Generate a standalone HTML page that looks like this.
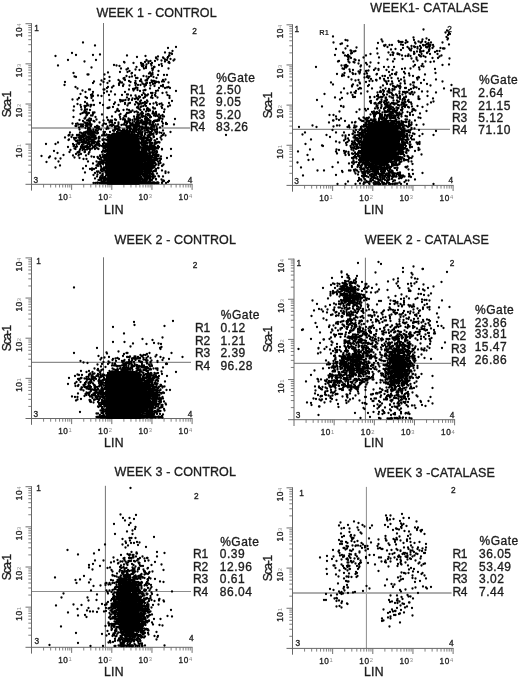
<!DOCTYPE html>
<html lang="en">
<head>
<meta charset="utf-8">
<title>Sca-1 / LIN flow cytometry - control vs catalase</title>
<style>
html,body{margin:0;padding:0;background:#fff}
body{width:520px;height:680px;overflow:hidden}
svg{display:block}
text{font-family:"Liberation Sans",Arial,sans-serif;fill:#1c1c1c;stroke:#1c1c1c;stroke-width:.34px}
.ti{font-size:12.5px}
.ax{font-size:12.2px;letter-spacing:.35px}
.sc{font-size:12px}
.st{font-size:12px}
.sp{letter-spacing:.5px}
.rl{letter-spacing:-.2px}
.tk{font-size:8.2px;fill:#2a2a2a;letter-spacing:.55px}
.ex{font-size:5.8px;fill:#8a8a8a;stroke:none}
.q{font-size:8.3px;fill:#222}
.d{fill:none;stroke:#000;stroke-width:2.3;stroke-linecap:round}
</style>
</head>
<body>
<svg width="520" height="680" viewBox="0 0 520 680">
<rect width="520" height="680" fill="#fff"/>
<g id="panel1">
<path d="M103.5 23V184.3" stroke="#747474" stroke-width="1" fill="none"/>
<path d="M31.5 128H190" stroke="#adadad" stroke-width="2" fill="none"/>
<path d="M43.59 184.3v3.2M31.5 172.21h-3.2M50.66 184.3v3.2M31.5 165.14h-3.2M55.67 184.3v3.2M31.5 160.13h-3.2M59.56 184.3v3.2M31.5 156.24h-3.2M62.74 184.3v3.2M31.5 153.06h-3.2M65.43 184.3v3.2M31.5 150.37h-3.2M67.76 184.3v3.2M31.5 148.04h-3.2M69.81 184.3v3.2M31.5 145.99h-3.2M83.74 184.3v3.2M31.5 132.06h-3.2M90.81 184.3v3.2M31.5 124.99h-3.2M95.82 184.3v3.2M31.5 119.98h-3.2M99.71 184.3v3.2M31.5 116.09h-3.2M102.89 184.3v3.2M31.5 112.91h-3.2M105.58 184.3v3.2M31.5 110.22h-3.2M107.91 184.3v3.2M31.5 107.89h-3.2M109.96 184.3v3.2M31.5 105.84h-3.2M123.89 184.3v3.2M31.5 91.91h-3.2M130.96 184.3v3.2M31.5 84.84h-3.2M135.97 184.3v3.2M31.5 79.83h-3.2M139.86 184.3v3.2M31.5 75.94h-3.2M143.04 184.3v3.2M31.5 72.76h-3.2M145.73 184.3v3.2M31.5 70.07h-3.2M148.06 184.3v3.2M31.5 67.74h-3.2M150.11 184.3v3.2M31.5 65.69h-3.2M164.04 184.3v3.2M31.5 51.76h-3.2M171.11 184.3v3.2M31.5 44.69h-3.2M176.12 184.3v3.2M31.5 39.68h-3.2M180.01 184.3v3.2M31.5 35.79h-3.2M183.19 184.3v3.2M31.5 32.61h-3.2M185.88 184.3v3.2M31.5 29.92h-3.2M188.21 184.3v3.2M31.5 27.59h-3.2M190.26 184.3v3.2M31.5 25.54h-3.2" stroke="#808080" stroke-width="1" fill="none"/>
<path d="M71.65 184.3v5.6M31.5 144.15h-6M111.8 184.3v5.6M31.5 104h-6M151.95 184.3v5.6M31.5 63.85h-6M192.1 184.3v5.6M31.5 23.7h-6" stroke="#707070" stroke-width="1" fill="none"/>
<path d="M25.5 184.3H192.6M31.5 190.6V23.2" stroke="#686868" stroke-width="1" fill="none"/>
<text class="tk" x="68.35" y="199.5" text-anchor="end">10</text><text class="ex" x="68.55" y="198.1">1</text>
<g transform="translate(21.6 144.15) rotate(-90)"><text class="tk" x="-3.3" text-anchor="end">10</text><text class="ex" x="-3.1" y="-0.5">1</text></g>
<text class="tk" x="108.5" y="199.5" text-anchor="end">10</text><text class="ex" x="108.7" y="198.1">2</text>
<g transform="translate(21.6 104) rotate(-90)"><text class="tk" x="-3.3" text-anchor="end">10</text><text class="ex" x="-3.1" y="-0.5">2</text></g>
<text class="tk" x="148.65" y="199.5" text-anchor="end">10</text><text class="ex" x="148.85" y="198.1">3</text>
<g transform="translate(21.6 63.85) rotate(-90)"><text class="tk" x="-3.3" text-anchor="end">10</text><text class="ex" x="-3.1" y="-0.5">3</text></g>
<text class="tk" x="188.8" y="199.5" text-anchor="end">10</text><text class="ex" x="189" y="198.1">4</text>
<g transform="translate(21.6 23.7) rotate(-90)"><text class="tk" x="-3.3" text-anchor="end">10</text><text class="ex" x="-3.1" y="-0.5">4</text></g>
<text class="q" x="34.3" y="30.6">1</text>
<text class="q" x="192.3" y="33.9">2</text>
<text class="q" x="33.5" y="182.8">3</text>
<text class="q" x="187.7" y="182.5">4</text>
<text class="ti" x="96.4" y="16.8" textLength="120.2" lengthAdjust="spacing">WEEK 1 - CONTROL</text>
<text class="ax" x="103.9" y="213.9">LIN</text>
<text class="sc" transform="translate(10.6 104) rotate(-90)" text-anchor="middle" textLength="26.4" lengthAdjust="spacing">Sca-1</text>
<text class="st sp" x="216.2" y="81.6">%Gate</text>
<text class="st rl" x="190" y="93.8">R1</text>
<text class="st sp" x="216" y="93.8">2.50</text>
<text class="st rl" x="190" y="106.1">R2</text>
<text class="st sp" x="216" y="106.1">9.05</text>
<text class="st rl" x="190" y="118.5">R3</text>
<text class="st sp" x="216" y="118.5">5.20</text>
<text class="st rl" x="190" y="131.1">R4</text>
<text class="st sp" x="216" y="131.1">83.26</text>
<path d="M107.3 184.3 107.3 142.5 107.61 140.17 108.51 138 109.94 136.14 111.8 134.71 113.97 133.81 116.3 133.5 130.3 133.5 132.63 133.81 134.8 134.71 136.66 136.14 138.09 138 138.99 140.17 139.3 142.5 139.3 184.3 Z" fill="#000" stroke="#000" stroke-width="1" stroke-linejoin="round"/>
<path class="d" d="M0 0m83 42.5h0m12 3h0m81 1.5h0m-8 1h0m4.5 3h0m-7.5 1.5h0m-93 0.5h0m97.5 0h0m2 0.5h0m0.5 0.5h0m-72 0.5h0m-24 0.5h0m17 0h0m34 0.5h0m42 0h0m0.5 0h0m-114 0.5h0m90 0h0m12.5 0.5h0m-21 0.5h0m31 0h0m-12 0.5h0m7 0h0m-7 0.5h0m7.5 0h0m4 0h0m3 1h0m-13 0.5h0m7.5 0h0m9.5 0h0m-106.5 0.5h0m28 0h0m50.5 0h0m20.5 0h0m-20.5 0.5h0m15 0h0m12 0h0m-23 0.5h0m4.5 0h0m-70.5 0.5h0m64 0h0m16.5 0h0m-41 0.5h0m21 0h0m24 0h0m-44.5 0.5h0m44 0h0m-35 0.5h0m7.5 0h0m7.5 0h0m3.5 0h0m17.5 0h0m-28 0.5h0m1.5 0.5h0m8 0h0m10.5 0h0m-15 0.5h0m-32.5 0.5h0m27.5 0h0m17.5 0h0m-101 0.5h0m58.5 0h0m27 0h0m8 0h0m-32 0.5h0m22.5 0h0m20 0h0m-19 0.5h0m3 0h0m-9.5 0.5h0m17.5 0h0m0.5 0h0m-63 0.5h0m54.5 0.5h0m-25 0.5h0m7 0h0m16 0h0m8 0h0m16.5 0h0m-15.5 0.5h0m-26.5 0.5h0m9 0h0m4 0.5h0m13 0.5h0m-23 0.5h0m29 0h0m-38.5 1h0m7.5 0h0m-19.5 0.5h0m42 0h0m-76.5 0.5h0m58.5 0h0m20.5 0h0m-21 0.5h0m17.5 0h0m2 0.5h0m-63.5 0.5h0m1 0h0m16 0h0m48 0h0m5.5 0.5h0m6 0h0m3 0h0m-32 0.5h0m-8.5 0.5h0m17 0h0m7.5 0h0m-76.5 0.5h0m57.5 0h0m14.5 0h0m-70.5 0.5h0m33.5 0h0m20 0h0m19.5 0h0m4.5 0h0m-29 1h0m11.5 0h0m1.5 0h0m19 0h0m-33 0.5h0m24.5 0h0m-43.5 0.5h0m20 0.5h0m16.5 0h0m6 0h0m18.5 0h0m-47 0.5h0m6.5 0h0m38 0h0m-61.5 0.5h0m44 0h0m1.5 0h0m4.5 0h0m-42 0.5h0m19.5 0h0m6.5 0h0m4.5 0h0m13.5 0h0m0.5 0h0m-60 0.5h0m26 0h0m21.5 0h0m12.5 0h0m1.5 0h0m6.5 0h0m2 0h0m-99 0.5h0m38.5 0h0m27 0h0m21.5 0h0m4.5 0h0m2 0h0m-37.5 0.5h0m1 0h0m37 0h0m9.5 0h0m-75.5 0.5h0m14.5 0h0m27.5 0h0m12 0h0m3 0h0m-31 0.5h0m17 0h0m6.5 0h0m3.5 0h0m9 0h0m-2 0.5h0m-52.5 0.5h0m23 0h0m20.5 0h0m-79.5 0.5h0m54.5 0h0m16.5 0h0m2.5 0h0m2.5 0h0m5.5 0h0m17 0h0m-33.5 0.5h0m21 0h0m-37 0.5h0m9.5 0h0m31.5 0h0m6.5 0h0m-16.5 0.5h0m18.5 0h0m-87.5 0.5h0m32.5 0h0m60.5 0h0m-56.5 0.5h0m24 0h0m31 0h0m-60 0.5h0m28.5 0h0m2 0h0m21.5 0h0m6 0h0m5 0h0m-92.5 0.5h0m72.5 0h0m-17 0.5h0m0.5 0h0m1 0h0m-45.5 0.5h0m1 0h0m13.5 0h0m1 0h0m24.5 0h0m8.5 0.5h0m7.5 0h0m0.5 0h0m-63 0.5h0m51 0h0m10 0h0m14.5 0h0m-18 0.5h0m16 0h0m20 0h0m-69 0.5h0m4 0h0m-25.5 0.5h0m7.5 0h0m32 0h0m41.5 0.5h0m-62.5 0.5h0m39.5 0h0m7.5 0h0m1.5 0h0m3 0h0m7 0h0m-82 1h0m12 0h0m22.5 0.5h0m12 0h0m1 0h0m17 0h0m3 0h0m-57 0.5h0m18 0h0m13 0h0m20 0h0m3.5 0h0m9.5 0h0m12.5 0h0m-69.5 0.5h0m33 0h0m4.5 0h0m10 0h0m1.5 0h0m5 0h0m-60.5 0.5h0m1.5 0h0m8.5 0h0m54 0h0m14 0h0m-30.5 0.5h0m-53.5 0.5h0m6 0h0m48.5 0h0m5 0h0m-18 0.5h0m9.5 0h0m3 0h0m11.5 0h0m6.5 0h0m-78.5 0.5h0m8 0h0m4.5 0h0m52 0h0m9 0h0m17 0h0m-37 0.5h0m4.5 0h0m-8 0.5h0m6 0h0m3 0h0m-65.5 0.5h0m5 0h0m60.5 0h0m-28.5 0.5h0m10.5 0h0m5.5 0h0m3 0h0m3.5 0h0m-39 0.5h0m28.5 0h0m2 0h0m17.5 0h0m6 0h0m-24.5 0.5h0m49.5 0h0m-51.5 0.5h0m19.5 0h0m7.5 0h0m-62.5 0.5h0m51 0h0m9 0h0m-30 0.5h0m30 0h0m11 0h0m-56 0.5h0m25 0h0m5 0h0m7.5 0h0m5.5 0h0m3.5 0h0m10 0h0m12.5 0h0m-82 0.5h0m41.5 0h0m12.5 0h0m0.5 0h0m12 0h0m8 0h0m-84 0.5h0m36.5 0h0m11 0h0m14 0h0m0.5 0h0m10.5 0h0m9.5 0h0m-72 0.5h0m47.5 0h0m10 0h0m-64.5 0.5h0m10 0h0m1 0h0m2.5 0h0m9 0h0m15.5 0h0m20 0h0m18.5 0h0m5.5 0h0m-74.5 0.5h0m39.5 0h0m42.5 0h0m-85.5 0.5h0m1.5 0h0m57.5 0h0m2.5 0h0m-72 0.5h0m16.5 0h0m51 0h0m20 0h0m6.5 0h0m-87 0.5h0m32 0h0m25 0h0m2.5 0h0m-55.5 0.5h0m24.5 0h0m27.5 0h0m16 0h0m-45.5 0.5h0m1 0h0m39 0h0m14.5 0h0m-23.5 0.5h0m15 0h0m1.5 0h0m-37.5 0.5h0m29.5 0h0m0.5 0h0m0.5 0h0m-66.5 0.5h0m3.5 0h0m2 0h0m40 0h0m13 0h0m4 0h0m5.5 0h0m15 0h0m-74.5 0.5h0m33.5 0h0m5.5 0h0m11.5 0h0m6.5 0h0m0.5 0h0m-74 0.5h0m11.5 0h0m32 0h0m1 0h0m14.5 0h0m17.5 0h0m-65.5 0.5h0m34.5 0h0m29.5 0h0m-18 0.5h0m6 0h0m9.5 0h0m7 0h0m-66.5 0.5h0m29 0h0m15.5 0h0m3.5 0h0m7.5 0h0m11 0h0m3 0h0m8 0h0m-80 0.5h0m9 0h0m1.5 0h0m35 0h0m8.5 0h0m-55.5 0.5h0m3.5 0h0m3 0h0m4 0h0m34 0h0m1 0h0m14.5 0h0m13.5 0h0m-69.5 0.5h0m1.5 0h0m52.5 0h0m2.5 0h0m9.5 0h0m2 0h0m-74 0.5h0m12.5 0h0m27.5 0h0m21.5 0h0m6 0h0m6.5 0h0m-52.5 0.5h0m24 0h0m11.5 0h0m8.5 0h0m3 0h0m7.5 0h0m2.5 0h0m-72 0.5h0m32.5 0h0m19.5 0h0m3 0h0m7 0h0m13.5 0h0m-76 0.5h0m4.5 0h0m1.5 0h0m46 0h0m3 0h0m6.5 0h0m2 0h0m4 0h0m-29.5 0.5h0m17 0h0m1.5 0h0m12.5 0h0m2 0h0m3 0h0m-48.5 0.5h0m14 0h0m8 0h0m3 0h0m1.5 0h0m3 0h0m1 0h0m2 0h0m18.5 0h0m1 0h0m-90.5 0.5h0m22 0h0m24.5 0h0m22.5 0h0m3 0h0m0.5 0h0m5 0h0m-65.5 0.5h0m21.5 0h0m31.5 0h0m11.5 0h0m9 0h0m-35.5 0.5h0m13.5 0h0m2 0h0m1 0h0m7 0h0m13.5 0h0m-76 0.5h0m0.5 0h0m4.5 0h0m39 0h0m6 0h0m2.5 0h0m9.5 0h0m0.5 0h0m-56 0.5h0m29.5 0h0m17.5 0h0m7 0h0m3 0h0m11.5 0h0m3 0h0m12.5 0h0m-86.5 0.5h0m8 0h0m18.5 0h0m8 0h0m2 0h0m3.5 0h0m0.5 0h0m1 0h0m5 0h0m1 0h0m22.5 0h0m-79 0.5h0m11.5 0h0m17 0h0m8 0h0m16.5 0h0m6 0h0m3 0h0m4 0h0m3 0h0m9 0h0m-70.5 0.5h0m16.5 0h0m7 0h0m1.5 0h0m13 0h0m5 0h0m7.5 0h0m0.5 0h0m3.5 0h0m0.5 0h0m4 0h0m2.5 0h0m1 0h0m6 0h0m3.5 0h0m-76 0.5h0m6 0h0m1 0h0m3.5 0h0m18 0h0m26.5 0h0m2.5 0h0m6.5 0h0m3.5 0h0m3.5 0h0m0.5 0h0m1.5 0h0m1.5 0h0m-63 0.5h0m15 0h0m17 0h0m2 0h0m6 0h0m10 0h0m0.5 0h0m0.5 0h0m0.5 0h0m16 0h0m-52 0.5h0m15 0h0m1.5 0h0m1 0h0m9.5 0h0m1 0h0m5.5 0h0m0.5 0h0m9 0h0m1 0h0m-69.5 0.5h0m15 0h0m10 0h0m2.5 0h0m6.5 0h0m14 0h0m6 0h0m0.5 0h0m0.5 0h0m1 0h0m3 0h0m2.5 0h0m1 0h0m3 0h0m2.5 0h0m1 0h0m-68 0.5h0m2 0h0m2.5 0h0m25 0h0m15 0h0m6 0h0m6 0h0m3 0h0m2.5 0h0m2 0h0m3.5 0h0m13 0h0m-93.5 0.5h0m5 0h0m10.5 0h0m16 0h0m20.5 0h0m2.5 0h0m12.5 0h0m3 0h0m2 0h0m18.5 0h0m-87 0.5h0m11 0h0m16.5 0h0m2.5 0h0m12.5 0h0m13 0h0m1 0h0m5.5 0h0m4.5 0h0m7 0h0m0.5 0h0m16 0h0m1 0h0m-88.5 0.5h0m2 0h0m1 0h0m1.5 0h0m5.5 0h0m3 0h0m21 0h0m11 0h0m1 0h0m8 0h0m1.5 0h0m2 0h0m2 0h0m6 0h0m1.5 0h0m1 0h0m3 0h0m0.5 0h0m2 0h0m0.5 0h0m0.5 0h0m2.5 0h0m2.5 0h0m16 0h0m-84 0.5h0m21 0h0m2.5 0h0m8 0h0m30 0h0m0.5 0h0m-66.5 0.5h0m17 0h0m7.5 0h0m16 0h0m4 0h0m0.5 0h0m2 0h0m0.5 0h0m3 0h0m0.5 0h0m1 0h0m15.5 0h0m-77.5 0.5h0m1 0h0m5 0h0m4.5 0h0m1.5 0h0m3.5 0h0m6 0h0m0.5 0h0m14.5 0h0m5.5 0h0m0.5 0h0m11.5 0h0m4.5 0h0m1.5 0h0m3.5 0h0m0.5 0h0m6.5 0h0m8 0h0m8.5 0h0m-81.5 0.5h0m1 0h0m1 0h0m24.5 0h0m7.5 0h0m1 0h0m2.5 0h0m9 0h0m0.5 0h0m2.5 0h0m3 0h0m4.5 0h0m4 0h0m4 0h0m5.5 0h0m5 0h0m-61.5 0.5h0m4 0h0m16 0h0m14 0h0m5 0h0m1.5 0h0m1.5 0h0m3 0h0m2 0h0m0.5 0h0m9 0h0m0.5 0h0m2 0h0m-75 0.5h0m10.5 0h0m18 0h0m8 0h0m4 0h0m7.5 0h0m2 0h0m1 0h0m4 0h0m9 0h0m1.5 0h0m1.5 0h0m1 0h0m1 0h0m2.5 0h0m9.5 0h0m-74.5 0.5h0m2.5 0h0m8.5 0h0m1 0h0m17.5 0h0m0.5 0h0m3 0h0m9 0h0m3 0h0m3.5 0h0m12 0h0m-57 0.5h0m1 0h0m17 0h0m1.5 0h0m33.5 0h0m2 0h0m2 0h0m2 0h0m2 0h0m7 0h0m-69 0.5h0m0.5 0h0m0.5 0h0m10 0h0m7.5 0h0m10.5 0h0m10.5 0h0m3.5 0h0m3.5 0h0m2 0h0m2.5 0h0m0.5 0h0m8 0h0m3 0h0m1.5 0h0m-72.5 0.5h0m10.5 0h0m3.5 0h0m5 0h0m2.5 0h0m22 0h0m1.5 0h0m5.5 0h0m3 0h0m4 0h0m1 0h0m0.5 0h0m3 0h0m0.5 0h0m12 0h0m3 0h0m-69 0.5h0m8 0h0m19 0h0m4.5 0h0m4.5 0h0m3 0h0m8 0h0m11.5 0h0m5.5 0h0m3 0h0m-66.5 0.5h0m1.5 0h0m1.5 0h0m4.5 0h0m0.5 0h0m16.5 0h0m0.5 0h0m4.5 0h0m0.5 0h0m1.5 0h0m4 0h0m3 0h0m3 0h0m6.5 0h0m8 0h0m3.5 0h0m0.5 0h0m6 0h0m8.5 0h0m-75 0.5h0m1 0h0m0.5 0h0m8 0h0m16.5 0h0m8 0h0m0.5 0h0m3.5 0h0m1.5 0h0m3 0h0m2.5 0h0m1.5 0h0m6 0h0m11.5 0h0m-65 0.5h0m4.5 0h0m2.5 0h0m27.5 0h0m3.5 0h0m2 0h0m1.5 0h0m7 0h0m3.5 0h0m18 0h0m-71.5 0.5h0m2.5 0h0m3.5 0h0m1.5 0h0m10.5 0h0m1.5 0h0m5 0h0m7 0h0m0.5 0h0m6 0h0m0.5 0h0m0.5 0h0m5 0h0m0.5 0h0m2 0h0m1.5 0h0m3 0h0m3 0h0m3 0h0m7 0h0m1.5 0h0m4.5 0h0m15 0h0m-100.5 0.5h0m10 0h0m4 0h0m3 0h0m3.5 0h0m5 0h0m27 0h0m5 0h0m6.5 0h0m5 0h0m6.5 0h0m2 0h0m12 0h0m-78 0.5h0m8 0h0m1 0h0m3 0h0m4.5 0h0m20 0h0m0.5 0h0m1 0h0m4 0h0m2.5 0h0m2.5 0h0m4 0h0m5.5 0h0m2.5 0h0m1.5 0h0m15 0h0m4.5 0h0m-79.5 0.5h0m11.5 0h0m3.5 0h0m7 0h0m10 0h0m3 0h0m3.5 0h0m6.5 0h0m5 0h0m6.5 0h0m2 0h0m0.5 0h0m4 0h0m8.5 0h0m10.5 0h0m-78.5 0.5h0m2.5 0h0m3 0h0m1.5 0h0m11 0h0m9 0h0m3.5 0h0m1 0h0m3.5 0h0m4.5 0h0m15.5 0h0m9 0h0m0.5 0h0m2 0h0m4.5 0h0m-73.5 0.5h0m8 0h0m0.5 0h0m1.5 0h0m1.5 0h0m9.5 0h0m2.5 0h0m19 0h0m6 0h0m1 0h0m2.5 0h0m3.5 0h0m3 0h0m0.5 0h0m3 0h0m6.5 0h0m-82.5 0.5h0m0.5 0h0m3 0h0m4.5 0h0m1.5 0h0m0.5 0h0m0.5 0h0m3 0h0m1.5 0h0m1.5 0h0m3.5 0h0m15 0h0m3 0h0m2 0h0m2.5 0h0m22.5 0h0m3 0h0m4.5 0h0m7.5 0h0m1.5 0h0m12.5 0h0m63 0h0m-157.5 0.5h0m8.5 0h0m6 0h0m8.5 0h0m1 0h0m0.5 0h0m9 0h0m3 0h0m5 0h0m25.5 0h0m6 0h0m0.5 0h0m5.5 0h0m1 0h0m5 0h0m12 0h0m-86 0.5h0m1.5 0h0m2.5 0h0m1 0h0m0.5 0h0m6 0h0m3 0h0m1.5 0h0m42.5 0h0m10.5 0h0m13 0h0m-81.5 0.5h0m2.5 0h0m4.5 0h0m22 0h0m26.5 0h0m4.5 0h0m0.5 0h0m3.5 0h0m5 0h0m-77.5 0.5h0m9.5 0h0m0.5 0h0m1.5 0h0m0.5 0h0m5 0h0m0.5 0h0m3 0h0m1 0h0m6 0h0m0.5 0h0m8 0h0m29.5 0h0m1 0h0m3.5 0h0m6 0h0m2 0h0m4 0h0m0.5 0h0m-89 0.5h0m13.5 0h0m2 0h0m1 0h0m7 0h0m7 0h0m3.5 0h0m8.5 0h0m1.5 0h0m28 0h0m4.5 0h0m3.5 0h0m2.5 0h0m13 0h0m-86.5 0.5h0m2 0h0m3.5 0h0m7 0h0m3.5 0h0m4.5 0h0m1.5 0h0m2.5 0h0m1 0h0m10 0h0m28 0h0m4.5 0h0m1.5 0h0m2 0h0m1.5 0h0m1 0h0m2.5 0h0m-76 0.5h0m11 0h0m3.5 0h0m0.5 0h0m0.5 0h0m0.5 0h0m4 0h0m1.5 0h0m3 0h0m38.5 0h0m2.5 0h0m6 0h0m-65.5 0.5h0m0.5 0h0m2.5 0h0m25 0h0m0.5 0h0m29 0h0m0.5 0h0m2.5 0h0m2 0h0m1 0h0m7.5 0h0m5.5 0h0m-88 0.5h0m5.5 0h0m9 0h0m0.5 0h0m0.5 0h0m3.5 0h0m0.5 0h0m1 0h0m1 0h0m2 0h0m1 0h0m1 0h0m8 0h0m1 0h0m1.5 0h0m3.5 0h0m34 0h0m0.5 0h0m4.5 0h0m14 0h0m-93 0.5h0m11 0h0m0.5 0h0m1.5 0h0m5.5 0h0m0.5 0h0m1 0h0m3 0h0m1.5 0h0m9.5 0h0m0.5 0h0m3.5 0h0m35.5 0h0m6 0h0m2 0h0m-72.5 0.5h0m15 0h0m6 0h0m48.5 0h0m2 0h0m2 0h0m3.5 0h0m0.5 0h0m-79 0.5h0m1.5 0h0m9 0h0m5 0h0m1 0h0m0.5 0h0m50 0h0m2.5 0h0m4 0h0m-67 0.5h0m1.5 0h0m1 0h0m1.5 0h0m5 0h0m1 0h0m1 0h0m6 0h0m39 0h0m3 0h0m0.5 0h0m1.5 0h0m1 0h0m11 0h0m-78 0.5h0m4 0h0m3 0h0m5 0h0m5.5 0h0m2.5 0h0m44.5 0h0m1.5 0h0m0.5 0h0m2.5 0h0m3 0h0m9 0h0m-100.5 0.5h0m20 0h0m1.5 0h0m3 0h0m2 0h0m2 0h0m2 0h0m8.5 0h0m7 0h0m35 0h0m4.5 0h0m7 0h0m6 0h0m1 0h0m2 0h0m-81.5 0.5h0m1.5 0h0m6 0h0m2.5 0h0m4 0h0m1 0h0m0.5 0h0m4.5 0h0m43 0h0m3.5 0h0m0.5 0h0m2.5 0h0m5 0h0m2.5 0h0m-65.5 0.5h0m5 0h0m2.5 0h0m8 0h0m33.5 0h0m2.5 0h0m2.5 0h0m4 0h0m4.5 0h0m4 0h0m-110 0.5h0m9.5 0h0m17.5 0h0m6 0h0m10 0h0m10 0h0m4 0h0m3.5 0h0m0.5 0h0m34.5 0h0m2.5 0h0m0.5 0h0m1 0h0m4.5 0h0m1.5 0h0m-75 0.5h0m7 0h0m4 0h0m2 0h0m0.5 0h0m1 0h0m54.5 0h0m6 0h0m3 0h0m-80.5 0.5h0m8 0h0m8.5 0h0m5.5 0h0m2 0h0m10 0h0m34 0h0m12.5 0h0m-64.5 0.5h0m2.5 0h0m6.5 0h0m1 0h0m3.5 0h0m2.5 0h0m33 0h0m4 0h0m1 0h0m1.5 0h0m-72 0.5h0m0.5 0h0m12.5 0h0m8.5 0h0m4.5 0h0m2.5 0h0m3 0h0m40 0h0m0.5 0h0m0.5 0h0m0.5 0h0m0.5 0h0m3 0h0m1.5 0h0m1.5 0h0m5 0h0m-81 0.5h0m4 0h0m1.5 0h0m2.5 0h0m1 0h0m0.5 0h0m1 0h0m2.5 0h0m13 0h0m1.5 0h0m35.5 0h0m4 0h0m2.5 0h0m2 0h0m-80.5 0.5h0m8 0h0m6.5 0h0m2 0h0m1 0h0m3.5 0h0m5 0h0m10.5 0h0m2 0h0m33.5 0h0m7 0h0m1 0h0m2.5 0h0m1.5 0h0m2 0h0m1 0h0m4 0h0m-78 0.5h0m1.5 0h0m4.5 0h0m1 0h0m5 0h0m3.5 0h0m11 0h0m34 0h0m1 0h0m1 0h0m1.5 0h0m2.5 0h0m9.5 0h0m-75 0.5h0m1 0h0m20.5 0h0m1 0h0m1 0h0m34 0h0m0.5 0h0m4 0h0m1 0h0m2 0h0m2.5 0h0m1 0h0m3.5 0h0m2 0h0m-81.5 0.5h0m8.5 0h0m1 0h0m4 0h0m0.5 0h0m3.5 0h0m5.5 0h0m41 0h0m4 0h0m1 0h0m1 0h0m3.5 0h0m1 0h0m4 0h0m3 0h0m2 0h0m-82.5 0.5h0m14 0h0m1 0h0m4.5 0h0m3.5 0h0m44 0h0m2 0h0m0.5 0h0m1.5 0h0m1.5 0h0m2.5 0h0m1.5 0h0m1.5 0h0m1.5 0h0m7 0h0m9 0h0m-91 0.5h0m4.5 0h0m2.5 0h0m20.5 0h0m31 0h0m3.5 0h0m4 0h0m1 0h0m7.5 0h0m7.5 0h0m-91.5 0.5h0m12 0h0m2.5 0h0m5 0h0m15.5 0h0m2.5 0h0m33.5 0h0m3 0h0m4 0h0m-45.5 0.5h0m35.5 0h0m5 0h0m5.5 0h0m3.5 0h0m0.5 0h0m-99 0.5h0m25.5 0h0m23.5 0h0m2 0h0m1 0h0m36 0h0m2 0h0m0.5 0h0m2 0h0m2.5 0h0m0.5 0h0m7 0h0m-49.5 0.5h0m36 0h0m0.5 0h0m1 0h0m0.5 0h0m10 0h0m2 0h0m-87.5 0.5h0m9 0h0m1 0h0m5 0h0m0.5 0h0m4.5 0h0m12.5 0h0m3 0h0m34 0h0m1 0h0m1.5 0h0m1 0h0m0.5 0h0m3 0h0m3.5 0h0m-72 0.5h0m11.5 0h0m19 0h0m32 0h0m4 0h0m2.5 0h0m3 0h0m2 0h0m2 0h0m3.5 0h0m-99.5 0.5h0m50 0h0m31.5 0h0m3 0h0m0.5 0h0m2.5 0h0m1.5 0h0m-7 0.5h0m0.5 0h0m1.5 0h0m0.5 0h0m2 0h0m2 0h0m0.5 0h0m1 0h0m2.5 0h0m5.5 0h0m-79.5 0.5h0m5 0h0m7.5 0h0m18.5 0h0m37.5 0h0m5 0h0m3.5 0h0m-74 0.5h0m23.5 0h0m36.5 0h0m0.5 0h0m0.5 0h0m1 0h0m1 0h0m1 0h0m1.5 0h0m0.5 0h0m8.5 0h0m3 0h0m-93 0.5h0m41.5 0h0m3 0h0m32 0h0m4 0h0m6 0h0m4.5 0h0m4 0h0m-85.5 0.5h0m5.5 0h0m7.5 0h0m14 0h0m7 0h0m1 0h0m31.5 0h0m2 0h0m1.5 0h0m1 0h0m2.5 0h0m2 0h0m1 0h0m1 0h0m2 0h0m2 0h0m4 0h0m-117 0.5h0m58.5 0h0m4 0h0m3 0h0m35 0h0m2.5 0h0m2 0h0m0.5 0h0m1 0h0m1 0h0m0.5 0h0m1 0h0m0.5 0h0m5 0h0m1 0h0m1.5 0h0m12.5 0h0m-121 0.5h0m41.5 0h0m11.5 0h0m2 0h0m2 0h0m0.5 0h0m31.5 0h0m1.5 0h0m2 0h0m3 0h0m2 0h0m3 0h0m10.5 0h0m-67 0.5h0m3.5 0h0m5.5 0h0m36 0h0m1 0h0m3.5 0h0m1.5 0h0m3.5 0h0m1 0h0m1.5 0h0m1.5 0h0m2.5 0h0m1.5 0h0m-107.5 0.5h0m25.5 0h0m23.5 0h0m3 0h0m3.5 0h0m2 0h0m33 0h0m1 0h0m2 0h0m0.5 0h0m0.5 0h0m1 0h0m10.5 0h0m-75.5 0.5h0m18.5 0h0m6.5 0h0m1 0h0m33 0h0m0.5 0h0m0.5 0h0m1.5 0h0m4.5 0h0m0.5 0h0m4.5 0h0m1 0h0m2.5 0h0m1.5 0h0m11.5 0h0m-111.5 0.5h0m5 0h0m44.5 0h0m33.5 0h0m1 0h0m0.5 0h0m3 0h0m3 0h0m0.5 0h0m1.5 0h0m1 0h0m0.5 0h0m6.5 0h0m3.5 0h0m-76 0.5h0m3 0h0m13 0h0m5 0h0m37 0h0m1 0h0m3 0h0m1 0h0m0.5 0h0m0.5 0h0m2 0h0m5 0h0m3 0h0m3.5 0h0m-59.5 0.5h0m3.5 0h0m1.5 0h0m0.5 0h0m0.5 0h0m0.5 0h0m34 0h0m3 0h0m5.5 0h0m1.5 0h0m2.5 0h0m-53 0.5h0m38 0h0m1 0h0m3 0h0m1.5 0h0m2 0h0m0.5 0h0m6 0h0m2.5 0h0m0.5 0h0m-51.5 0.5h0m34 0h0m0.5 0h0m2.5 0h0m1.5 0h0m2.5 0h0m2.5 0h0m1 0h0m1.5 0h0m2.5 0h0m-52 0.5h0m1.5 0h0m4 0h0m32 0h0m8 0h0m0.5 0h0m2.5 0h0m1.5 0h0m1 0h0m1 0h0m1 0h0m5.5 0h0m-101.5 0.5h0m29.5 0h0m8.5 0h0m4 0h0m42 0h0m2.5 0h0m7 0h0m2 0h0m4 0h0m-111.5 0.5h0m53 0h0m2 0h0m5.5 0h0m33 0h0m1 0h0m1 0h0m2.5 0h0m0.5 0h0m8.5 0h0m-55 0.5h0m4 0h0m2 0h0m1 0h0m34 0h0m8.5 0h0m1 0h0m1.5 0h0m0.5 0h0m2 0h0m-47.5 0.5h0m1.5 0h0m0.5 0h0m31.5 0h0m0.5 0h0m1.5 0h0m3.5 0h0m1.5 0h0m1 0h0m0.5 0h0m0.5 0h0m0.5 0h0m3 0h0m0.5 0h0m1 0h0m0.5 0h0m1.5 0h0m5.5 0h0m-67.5 0.5h0m9.5 0h0m4 0h0m33.5 0h0m1.5 0h0m1.5 0h0m8.5 0h0m4 0h0m3.5 0h0m-59.5 0.5h0m1 0h0m2.5 0h0m4 0h0m1 0h0m30.5 0h0m2.5 0h0m0.5 0h0m1.5 0h0m0.5 0h0m2 0h0m2.5 0h0m2.5 0h0m8 0h0m-61 0.5h0m9 0h0m0.5 0h0m31.5 0h0m1.5 0h0m1 0h0m1 0h0m6.5 0h0m1 0h0m1 0h0m5 0h0m0.5 0h0m7.5 0h0m-57.5 0.5h0m35 0h0m1 0h0m1 0h0m0.5 0h0m1.5 0h0m1 0h0m1 0h0m2.5 0h0m1.5 0h0m1 0h0m1 0h0m2.5 0h0m3 0h0m-98.5 0.5h0m36.5 0h0m10.5 0h0m0.5 0h0m32 0h0m0.5 0h0m4 0h0m1.5 0h0m2.5 0h0m3 0h0m0.5 0h0m11 0h0m-76.5 0.5h0m12 0h0m2.5 0h0m38.5 0h0m1 0h0m0.5 0h0m0.5 0h0m1 0h0m4.5 0h0m1 0h0m0.5 0h0m6 0h0m8 0h0m-61 0.5h0m39.5 0h0m2 0h0m7 0h0m-43.5 0.5h0m34.5 0h0m2 0h0m2.5 0h0m3.5 0h0m0.5 0h0m1.5 0h0m2 0h0m2 0h0m-99 0.5h0m49 0h0m0.5 0h0m35.5 0h0m1 0h0m0.5 0h0m2.5 0h0m0.5 0h0m0.5 0h0m6.5 0h0m1.5 0h0m0.5 0h0m-58 0.5h0m5.5 0h0m2.5 0h0m3 0h0m33 0h0m0.5 0h0m3 0h0m0.5 0h0m2.5 0h0m1 0h0m1.5 0h0m1.5 0h0m0.5 0h0m1.5 0h0m5.5 0h0m0.5 0h0m-75.5 0.5h0m9 0h0m12 0h0m2 0h0m0.5 0h0m1 0h0m31 0h0m1.5 0h0m2 0h0m2.5 0h0m1.5 0h0m2 0h0m0.5 0h0m-58.5 0.5h0m4 0h0m8.5 0h0m2 0h0m35 0h0m2.5 0h0m0.5 0h0m2 0h0m1 0h0m3.5 0h0m1 0h0m6 0h0m-55 0.5h0m2 0h0m0.5 0h0m3.5 0h0m36.5 0h0m2 0h0m0.5 0h0m1.5 0h0m1.5 0h0m2.5 0h0m4.5 0h0m-64 0.5h0m48 0h0m4 0h0m1 0h0m2 0h0m0.5 0h0m-46.5 0.5h0m3 0h0m35 0h0m1.5 0h0m1 0h0m4.5 0h0m1 0h0m1 0h0m1.5 0h0m2 0h0m3.5 0h0m0.5 0h0m6.5 0h0m-56.5 0.5h0m2.5 0h0m31 0h0m1.5 0h0m0.5 0h0m1 0h0m3 0h0m1 0h0m1 0h0m2.5 0h0m2 0h0m2.5 0h0m1 0h0m0.5 0h0m0.5 0h0m-59 0.5h0m1.5 0h0m3.5 0h0m4.5 0h0m33.5 0h0m1.5 0h0m4 0h0m2 0h0m1.5 0h0m1 0h0m15.5 0h0m-68 0.5h0m9 0h0m36 0h0m0.5 0h0m2 0h0m1.5 0h0m3.5 0h0m2.5 0h0m-67.5 0.5h0m20.5 0h0m47 0h0m16 0h0m-73.5 0.5h0m5 0h0m7.5 0h0m31.5 0h0m0.5 0h0m2 0h0m4 0h0m4.5 0h0m15.5 0h0m-23 0.5h0m2.5 0h0m2.5 0h0m0.5 0h0m0.5 0h0m0.5 0h0m0.5 0h0m7.5 0h0m-54.5 0.5h0m4 0h0m32.5 0h0m0.5 0h0m2 0h0m2 0h0m1.5 0h0m0.5 0h0m1.5 0h0m1 0h0m3.5 0h0m1 0h0m-55 0.5h0m5 0h0m4.5 0h0m0.5 0h0m31 0h0m1 0h0m4 0h0m1.5 0h0m1 0h0m7.5 0h0m-60 0.5h0m13.5 0h0m0.5 0h0m32.5 0h0m3.5 0h0m1.5 0h0m-43.5 0.5h0m0.5 0h0m4 0h0m34 0h0m2.5 0h0m1.5 0h0m2.5 0h0m1 0h0m2.5 0h0m2.5 0h0m-50 0.5h0m44 0h0m3 0h0m0.5 0h0m3.5 0h0m5 0h0m-61.5 0.5h0m3.5 0h0m43.5 0h0m3 0h0m5.5 0h0m0.5 0h0m2 0h0m4 0h0m4 0h0m-58 0.5h0m36 0h0m3.5 0h0m3.5 0h0m2 0h0m0.5 0h0m-47.5 0.5h0m42.5 0h0m0.5 0h0m3 0h0m-49 0.5h0m1 0h0m4 0h0m35 0h0m5 0h0m1 0h0m3 0h0m4.5 0h0m-58.5 0.5h0m6 0h0m1.5 0h0m1.5 0h0m2.5 0h0m35 0h0m1 0h0m5 0h0m2.5 0h0m2.5 0h0m-52 0.5h0m42 0h0m5 0h0m8.5 0h0m-49.5 0.5h0m1.5 0h0m31.5 0h0m1 0h0m2.5 0h0m0.5 0h0m2 0h0m1.5 0h0m0.5 0h0m8.5 0h0m5.5 0h0m-78.5 0.5h0m15.5 0h0m1 0h0m6 0h0m37 0h0m4.5 0h0m3 0h0m1 0h0m1 0h0m-50.5 0.5h0m2.5 0h0m40.5 0h0m1 0h0m4.5 0h0m13.5 0h0m-20.5 0.5h0m1 0h0m1 0h0m19 0h0m5 0h0m-66.5 0.5h0m5 0h0m32 0h0m1.5 0h0m8 0h0m1 0h0m12.5 0h0m-20.5 0.5h0m0.5 0h0m6.5 0h0m1 0h0m18 0h0m-70.5 0.5h0m3.5 0h0m2 0h0m1 0h0m1 0h0m0.5 0h0m1 0h0m1 0h0m32 0h0m1 0h0m1 0h0m0.5 0h0m0.5 0h0m1 0h0m0.5 0h0m1.5 0h0m0.5 0h0m0.5 0h0m0.5 0h0m0.5 0h0m1.5 0h0m0.5 0h0m1 0h0m0.5 0h0m1.5 0h0m1 0h0m0.5 0h0m3.5 0h0m0.5 0h0m-64.5 0.5h0m2 0h0m2 0h0m2 0h0m1.5 0h0m0.5 0h0m1 0h0m0.5 0h0m0.5 0h0m0.5 0h0m0.5 0h0m0.5 0h0m0.5 0h0m0.5 0h0m0.5 0h0m0.5 0h0m0.5 0h0m31.5 0h0m0.5 0h0m0.5 0h0m0.5 0h0m0.5 0h0m0.5 0h0m0.5 0h0m0.5 0h0m0.5 0h0m0.5 0h0m0.5 0h0m0.5 0h0m0.5 0h0m0.5 0h0m0.5 0h0m0.5 0h0m0.5 0h0m0.5 0h0m0.5 0h0m0.5 0h0m0.5 0h0m0.5 0h0m0.5 0h0m0.5 0h0m0.5 0h0m0.5 0h0m0.5 0h0m0.5 0h0m1 0h0m0.5 0h0m0.5 0h0m0.5 0h0m1 0h0m0.5 0h0m1 0h0m0.5 0h0m0.5 0h0m3.5 0h0m4 0h0"/>
</g>
<g id="panel2">
<path d="M364.3 24V185.4" stroke="#747474" stroke-width="1.1" fill="none"/>
<path d="M292.5 129.3H450" stroke="#8c8c8c" stroke-width="1.3" fill="none"/>
<path d="M304.59 185.4v3.2M292.5 173.31h-3.2M311.66 185.4v3.2M292.5 166.24h-3.2M316.67 185.4v3.2M292.5 161.23h-3.2M320.56 185.4v3.2M292.5 157.34h-3.2M323.74 185.4v3.2M292.5 154.16h-3.2M326.43 185.4v3.2M292.5 151.47h-3.2M328.76 185.4v3.2M292.5 149.14h-3.2M330.81 185.4v3.2M292.5 147.09h-3.2M344.74 185.4v3.2M292.5 133.16h-3.2M351.81 185.4v3.2M292.5 126.09h-3.2M356.82 185.4v3.2M292.5 121.08h-3.2M360.71 185.4v3.2M292.5 117.19h-3.2M363.89 185.4v3.2M292.5 114.01h-3.2M366.58 185.4v3.2M292.5 111.32h-3.2M368.91 185.4v3.2M292.5 108.99h-3.2M370.96 185.4v3.2M292.5 106.94h-3.2M384.89 185.4v3.2M292.5 93.01h-3.2M391.96 185.4v3.2M292.5 85.94h-3.2M396.97 185.4v3.2M292.5 80.93h-3.2M400.86 185.4v3.2M292.5 77.04h-3.2M404.04 185.4v3.2M292.5 73.86h-3.2M406.73 185.4v3.2M292.5 71.17h-3.2M409.06 185.4v3.2M292.5 68.84h-3.2M411.11 185.4v3.2M292.5 66.79h-3.2M425.04 185.4v3.2M292.5 52.86h-3.2M432.11 185.4v3.2M292.5 45.79h-3.2M437.12 185.4v3.2M292.5 40.78h-3.2M441.01 185.4v3.2M292.5 36.89h-3.2M444.19 185.4v3.2M292.5 33.71h-3.2M446.88 185.4v3.2M292.5 31.02h-3.2M449.21 185.4v3.2M292.5 28.69h-3.2M451.26 185.4v3.2M292.5 26.64h-3.2" stroke="#808080" stroke-width="1" fill="none"/>
<path d="M332.65 185.4v5.6M292.5 145.25h-6M372.8 185.4v5.6M292.5 105.1h-6M412.95 185.4v5.6M292.5 64.95h-6M453.1 185.4v5.6M292.5 24.8h-6" stroke="#707070" stroke-width="1" fill="none"/>
<path d="M286.5 185.4H453.6M292.5 191.7V24.3" stroke="#686868" stroke-width="1" fill="none"/>
<text class="tk" x="329.35" y="200.6" text-anchor="end">10</text><text class="ex" x="329.55" y="199.2">1</text>
<g transform="translate(282.6 145.25) rotate(-90)"><text class="tk" x="-3.3" text-anchor="end">10</text><text class="ex" x="-3.1" y="-0.5">1</text></g>
<text class="tk" x="369.5" y="200.6" text-anchor="end">10</text><text class="ex" x="369.7" y="199.2">2</text>
<g transform="translate(282.6 105.1) rotate(-90)"><text class="tk" x="-3.3" text-anchor="end">10</text><text class="ex" x="-3.1" y="-0.5">2</text></g>
<text class="tk" x="409.65" y="200.6" text-anchor="end">10</text><text class="ex" x="409.85" y="199.2">3</text>
<g transform="translate(282.6 64.95) rotate(-90)"><text class="tk" x="-3.3" text-anchor="end">10</text><text class="ex" x="-3.1" y="-0.5">3</text></g>
<text class="tk" x="449.8" y="200.6" text-anchor="end">10</text><text class="ex" x="450" y="199.2">4</text>
<g transform="translate(282.6 24.8) rotate(-90)"><text class="tk" x="-3.3" text-anchor="end">10</text><text class="ex" x="-3.1" y="-0.5">4</text></g>
<text class="q" x="294.6" y="32">1</text>
<text class="q" x="447.3" y="32">2</text>
<text class="q" x="294.3" y="183.8">3</text>
<text class="q" x="448.5" y="183.2">4</text>
<text class="q" x="319.3" y="35.1" font-weight="bold" style="font-size:7.4px;stroke-width:0">R1</text>
<text class="ti" x="370.2" y="12" textLength="118.2" lengthAdjust="spacing">WEEK1- CATALASE</text>
<text class="ax" x="363.9" y="214.15">LIN</text>
<text class="sc" transform="translate(271.5 105) rotate(-90)" text-anchor="middle" textLength="26.4" lengthAdjust="spacing">Sca-1</text>
<text class="st sp" x="479.1" y="84.3">%Gate</text>
<text class="st rl" x="452.1" y="97.3">R1</text>
<text class="st sp" x="478.3" y="97.3">2.64</text>
<text class="st rl" x="452.1" y="109.5">R2</text>
<text class="st sp" x="478.3" y="109.5">21.15</text>
<text class="st rl" x="452.1" y="121.7">R3</text>
<text class="st sp" x="478.3" y="121.7">5.12</text>
<text class="st rl" x="452.1" y="134.2">R4</text>
<text class="st sp" x="478.3" y="134.2">71.10</text>
<path d="M397.42 147.4 395.74 152.02 393.32 156.18 390.29 159.69 386.79 162.36 382.99 164.05 379.1 164.7 375.31 164.25 371.79 162.74 368.75 160.24 366.31 156.87 364.61 152.81 363.73 148.26 363.72 143.44 364.58 138.6 366.26 133.98 368.68 129.82 371.71 126.31 375.21 123.64 379.01 121.95 382.9 121.3 386.69 121.75 390.21 123.26 393.25 125.76 395.69 129.13 397.39 133.19 398.27 137.74 398.28 142.56 Z" fill="#000" stroke="#000" stroke-width="1" stroke-linejoin="round"/>
<path class="d" d="M0 0m423.5 29.5h0m23.5 1h0m-1.5 2h0m3.5 0.5h0m1 1h0m-2 1h0m-115 1.5h0m113.5 0.5h0m-33 0.5h0m13 1h0m21.5 0h0m-66.5 1h0m41 0h0m25 0h0m-102 0.5h0m68.5 0h0m15 0h0m-81.5 0.5h0m58.5 0h0m-7.5 0.5h0m-16 0.5h0m36 0h0m3.5 0h0m-23 0.5h0m2 0h0m1.5 0h0m5 0h0m18 0h0m-92 0.5h0m81.5 0h0m5.5 0h0m0.5 0h0m10 0h0m11.5 0h0m-64.5 0.5h0m27.5 0h0m23 0h0m-86.5 0.5h0m73.5 0h0m-75 0.5h0m86.5 0h0m-26 0.5h0m28 0h0m20 0h0m-63.5 0.5h0m4 0h0m2.5 0h0m11 0h0m20 0h0m2.5 0h0m5 0h0m2.5 0h0m-49 0.5h0m39.5 0h0m-76 0.5h0m37 0h0m27 0h0m8.5 0h0m10 0h0m-16 0.5h0m14 0h0m1.5 0h0m4 0h0m-46 0.5h0m20 0h0m7 0h0m0.5 0h0m2.5 0h0m8.5 0h0m-69.5 0.5h0m64.5 0h0m6 0h0m-24 0.5h0m18 0h0m11.5 0h0m8 0h0m-95 0.5h0m31.5 0h0m32 0h0m2.5 0h0m6 0h0m12 0h0m13.5 0h0m0.5 0h0m1 0h0m-108.5 0.5h0m59.5 0h0m-4.5 0.5h0m29 0h0m9.5 0h0m-28.5 0.5h0m9 0h0m10 0h0m9 0h0m-78.5 0.5h0m60.5 0h0m-59.5 0.5h0m4 0h0m68 0h0m5.5 0h0m8 0h0m2.5 0h0m-85.5 0.5h0m63 0h0m4.5 0h0m-7.5 0.5h0m6 0h0m15 0h0m-92 0.5h0m8.5 0h0m37 0h0m4 0h0m35 0h0m-84 0.5h0m8.5 0h0m41.5 0h0m33.5 0h0m-76 0.5h0m26.5 0h0m20 0h0m17 0h0m-44 0.5h0m27 0h0m1 0h0m15.5 0h0m7.5 0h0m8.5 0h0m7.5 0h0m-38 0.5h0m9 0h0m-73.5 0.5h0m13 0h0m42.5 0h0m2.5 0h0m26 0h0m-74 0.5h0m21 0h0m36 0h0m39.5 0h0m-94.5 0.5h0m58.5 0h0m2.5 0h0m2.5 0h0m9.5 0h0m3.5 0h0m-74 0.5h0m71.5 0h0m18.5 0h0m-91.5 0.5h0m0.5 0h0m77 0h0m-62 0.5h0m15.5 0h0m37.5 0h0m-65.5 0.5h0m81.5 0h0m5.5 0h0m-26.5 0.5h0m38 0h0m-101 0.5h0m46 0h0m8 0h0m14 0h0m-68.5 0.5h0m6.5 0h0m33 0h0m-32 0.5h0m3.5 0.5h0m58.5 0h0m-78.5 0.5h0m-1 0.5h0m10.5 0h0m44.5 0h0m20.5 0h0m12 0h0m8.5 0h0m-80.5 0.5h0m77 0h0m-81 0.5h0m5 0h0m16 0h0m-4.5 0.5h0m12.5 0h0m-20 0.5h0m64 0.5h0m-55.5 0.5h0m82 0h0m-103 0.5h0m69 0h0m27.5 0h0m-101 0.5h0m3 0h0m16.5 0h0m-13.5 0.5h0m74 0h0m-61 0.5h0m9 0h0m44 0h0m10 0h0m-107.5 0.5h0m29 0h0m1.5 0h0m37.5 0h0m4.5 0h0m5.5 0h0m-48 0.5h0m73 0h0m-76.5 1h0m33 0h0m29.5 0h0m5.5 0h0m-66.5 0.5h0m34.5 0h0m23.5 0h0m33 0h0m-85.5 0.5h0m29 0h0m41 0h0m-66.5 0.5h0m7.5 0h0m13.5 0h0m4.5 0h0m8 0h0m6 0h0m-24 0.5h0m-2.5 0.5h0m0.5 0h0m-16.5 0.5h0m8.5 0h0m7.5 0h0m-6 0.5h0m29 0h0m15 0h0m-7.5 0.5h0m-52 0.5h0m8 0h0m83 0h0m-76 0.5h0m7.5 0h0m38 0h0m4 0h0m-72 0.5h0m16 0h0m2.5 0h0m9 0h0m12.5 0h0m15 0h0m3 0h0m-52.5 0.5h0m34 0h0m19.5 0h0m29 0h0m-81 1h0m46 0h0m19.5 0h0m-67.5 0.5h0m25.5 0h0m15 0h0m2.5 0h0m28 0h0m-43.5 0.5h0m-21 0.5h0m18.5 0h0m51.5 0h0m-54 0.5h0m39.5 0h0m15 0h0m-50.5 0.5h0m11.5 0h0m8 0h0m3.5 0h0m25.5 0h0m-37 0.5h0m18 0h0m-27 0.5h0m13 0h0m-32.5 0.5h0m49.5 0h0m16.5 0h0m18.5 0h0m-77.5 0.5h0m17.5 0h0m0.5 0h0m47.5 0h0m-68.5 0.5h0m21 0h0m8 0h0m20 0h0m-35 0.5h0m3 0h0m16 0h0m10.5 0h0m-13 0.5h0m6 0h0m12.5 0h0m38 0h0m-76.5 0.5h0m-35 0.5h0m28.5 0h0m27 0h0m26.5 0h0m1 0h0m7 0.5h0m-61 0.5h0m32.5 0h0m8 0h0m4.5 0h0m-18 0.5h0m40 0h0m-94 0.5h0m20 0h0m37.5 0h0m20 0h0m-41.5 0.5h0m82.5 0h0m-99.5 0.5h0m5.5 0h0m25.5 0h0m14.5 0h0m16 0h0m17 0h0m-62.5 0.5h0m25 0h0m6.5 0h0m0.5 0h0m-48 0.5h0m42 0h0m4.5 0h0m-2.5 0.5h0m4.5 0h0m14 0h0m-34 0.5h0m14.5 0h0m21.5 0h0m-56.5 0.5h0m45 0h0m1 0h0m7.5 0h0m-69.5 0.5h0m17 0h0m11 0h0m13.5 0h0m14.5 0h0m44 0h0m-85.5 0.5h0m30.5 0h0m3.5 0h0m18.5 0h0m8 0h0m-26.5 0.5h0m2 0h0m-11.5 0.5h0m6 0h0m0.5 0h0m19.5 0h0m-16.5 0.5h0m58.5 0h0m-95 0.5h0m24.5 0h0m3.5 0h0m5 0h0m-21.5 0.5h0m20 0h0m12 0h0m22.5 0h0m5.5 0h0m-47.5 0.5h0m1 0h0m2.5 0h0m19.5 0h0m1.5 0h0m2 0h0m1 0h0m4.5 0h0m-71 0.5h0m10 0h0m3.5 0h0m23 0h0m11.5 0h0m0.5 0h0m0.5 0h0m21.5 0h0m3 0h0m21.5 0h0m-80.5 0.5h0m36 0h0m-44 0.5h0m13.5 0h0m38.5 0h0m6 0h0m4 0h0m-85 0.5h0m58.5 0h0m9 0h0m18.5 0h0m-23.5 0.5h0m9 0h0m6.5 0h0m10.5 0h0m-60.5 0.5h0m25.5 0h0m6 0h0m8.5 0h0m-8.5 0.5h0m9.5 0h0m3.5 0h0m-20 0.5h0m23 0h0m27.5 0h0m-49.5 0.5h0m11.5 0h0m16.5 0h0m12.5 0h0m-65.5 0.5h0m0.5 0h0m1.5 0h0m15 0h0m4.5 0h0m6 0h0m1.5 0h0m0.5 0h0m17.5 0h0m6 0h0m-71 0.5h0m35 0h0m9 0h0m7 0h0m5.5 0h0m6 0h0m1.5 0h0m5 0h0m-62 0.5h0m43.5 0h0m7.5 0h0m25.5 0h0m-18.5 0.5h0m33 0h0m-55.5 0.5h0m22.5 0h0m3 0h0m15.5 0h0m1 0h0m-79.5 0.5h0m37 0h0m4.5 0h0m5 0h0m18.5 0h0m-88 0.5h0m70 0h0m15.5 0h0m6 0h0m-23 0.5h0m8 0h0m3.5 0h0m-26 0.5h0m13.5 0h0m23.5 0h0m-38 0.5h0m11.5 0h0m4.5 0h0m13 0h0m5.5 0h0m29 0h0m-53.5 0.5h0m18 0h0m7.5 0h0m3.5 0h0m-28 0.5h0m3 0h0m2.5 0h0m2 0h0m13.5 0h0m9 0h0m20 0h0m-60 0.5h0m4.5 0h0m3.5 0h0m1 0h0m6.5 0h0m5.5 0h0m1 0h0m10 0h0m0.5 0h0m-29 0.5h0m4 0h0m8.5 0h0m7.5 0h0m0.5 0h0m1.5 0h0m-11 0.5h0m5 0h0m3 0h0m10 0h0m1 0h0m7 0h0m-35 0.5h0m8.5 0h0m9.5 0h0m7 0h0m26 0h0m-46 0.5h0m4.5 0h0m1.5 0h0m10.5 0h0m8.5 0h0m-18.5 0.5h0m1 0h0m10.5 0h0m-58.5 0.5h0m36.5 0h0m12 0h0m14.5 0h0m1 0h0m12.5 0h0m-95.5 0.5h0m21.5 0h0m33 0h0m5 0h0m5 0h0m2 0h0m2.5 0h0m11.5 0h0m9.5 0h0m-68.5 0.5h0m42 0h0m5 0h0m14.5 0h0m3 0h0m14.5 0h0m-37 0.5h0m2.5 0h0m2 0h0m2.5 0h0m0.5 0h0m3.5 0h0m5.5 0h0m7 0h0m-31 0.5h0m3 0h0m3.5 0h0m1 0h0m3 0h0m10 0h0m-23.5 0.5h0m2.5 0h0m12.5 0h0m-25 0.5h0m3 0h0m16 0h0m6.5 0h0m0.5 0h0m3.5 0h0m3 0h0m5 0h0m11 0h0m-54 0.5h0m30.5 0h0m22.5 0h0m1.5 0h0m-26 0.5h0m5 0h0m8 0h0m13 0h0m-48 0.5h0m13.5 0h0m10 0h0m7.5 0h0m5 0h0m13.5 0h0m-36 0.5h0m5 0h0m3 0h0m7.5 0h0m1 0h0m30.5 0h0m-87 0.5h0m34.5 0h0m11.5 0h0m3 0h0m3.5 0h0m1.5 0h0m18.5 0h0m-55.5 0.5h0m15.5 0h0m2.5 0h0m2.5 0h0m9 0h0m1 0h0m3.5 0h0m1.5 0h0m3 0h0m12.5 0h0m-25 0.5h0m2.5 0h0m10.5 0h0m1 0h0m3 0h0m3 0h0m-29 0.5h0m2.5 0h0m0.5 0h0m1 0h0m1.5 0h0m12 0h0m1 0h0m5 0h0m13 0h0m-37 0.5h0m1.5 0h0m1.5 0h0m13.5 0h0m3.5 0h0m5 0h0m22 0h0m-44 0.5h0m4.5 0h0m10 0h0m0.5 0h0m6 0h0m2 0h0m1 0h0m0.5 0h0m-30 0.5h0m29 0h0m2 0h0m-72 0.5h0m4 0h0m46.5 0h0m2 0h0m3 0h0m3 0h0m1 0h0m0.5 0h0m1.5 0h0m6.5 0h0m12.5 0h0m3 0h0m-39 0.5h0m8 0h0m3 0h0m1.5 0h0m5 0h0m0.5 0h0m2.5 0h0m1.5 0h0m-21 0.5h0m12 0h0m0.5 0h0m2 0h0m1 0h0m0.5 0h0m2.5 0h0m2 0h0m3 0h0m7 0h0m-69.5 0.5h0m38 0h0m6 0h0m11.5 0h0m3 0h0m1 0h0m6 0h0m5.5 0h0m-26 0.5h0m0.5 0h0m0.5 0h0m9 0h0m-27.5 0.5h0m5.5 0h0m11 0h0m4 0h0m2.5 0h0m3 0h0m0.5 0h0m4.5 0h0m3.5 0h0m20.5 0h0m-51.5 0.5h0m1.5 0h0m6 0h0m5 0h0m2.5 0h0m1.5 0h0m3.5 0h0m3.5 0h0m1.5 0h0m1.5 0h0m0.5 0h0m26.5 0h0m-79.5 0.5h0m18 0h0m6 0h0m16.5 0h0m1 0h0m7.5 0h0m5 0h0m0.5 0h0m3.5 0h0m-62.5 0.5h0m42.5 0h0m5.5 0h0m0.5 0h0m0.5 0h0m-19.5 0.5h0m5 0h0m2.5 0h0m2 0h0m4 0h0m2.5 0h0m4 0h0m19.5 0h0m1.5 0h0m-68 0.5h0m21.5 0h0m6.5 0h0m0.5 0h0m3.5 0h0m3 0h0m11.5 0h0m11 0h0m-63.5 0.5h0m0.5 0h0m33 0h0m5.5 0h0m0.5 0h0m2.5 0h0m4 0h0m4.5 0h0m1.5 0h0m5.5 0h0m19 0h0m5.5 0h0m-70 0.5h0m17 0h0m1.5 0h0m6 0h0m14.5 0h0m3 0h0m0.5 0h0m1 0h0m3 0h0m1.5 0h0m2 0h0m0.5 0h0m6 0h0m-34 0.5h0m0.5 0h0m5.5 0h0m0.5 0h0m2 0h0m2.5 0h0m5 0h0m2.5 0h0m0.5 0h0m5 0h0m0.5 0h0m7 0h0m-43.5 0.5h0m26 0h0m4.5 0h0m6.5 0h0m2 0h0m2.5 0h0m5 0h0m1.5 0h0m2 0h0m1 0h0m2.5 0h0m-80 0.5h0m23 0h0m3 0h0m11 0h0m9.5 0h0m1 0h0m1 0h0m1 0h0m0.5 0h0m1.5 0h0m2 0h0m1 0h0m0.5 0h0m1 0h0m2 0h0m1 0h0m4 0h0m1.5 0h0m4 0h0m0.5 0h0m1.5 0h0m3 0h0m9 0h0m-46 0.5h0m4.5 0h0m2 0h0m5.5 0h0m1 0h0m0.5 0h0m12 0h0m6 0h0m5 0h0m9.5 0h0m-42.5 0.5h0m6.5 0h0m1.5 0h0m0.5 0h0m12 0h0m1 0h0m0.5 0h0m1.5 0h0m2.5 0h0m1.5 0h0m3.5 0h0m1 0h0m-35 0.5h0m5 0h0m0.5 0h0m0.5 0h0m1 0h0m1 0h0m3 0h0m0.5 0h0m13 0h0m0.5 0h0m1.5 0h0m1 0h0m5.5 0h0m3 0h0m1 0h0m6 0h0m-41.5 0.5h0m0.5 0h0m3 0h0m0.5 0h0m3 0h0m17 0h0m0.5 0h0m1 0h0m0.5 0h0m18 0h0m12 0h0m-59.5 0.5h0m6 0h0m2.5 0h0m2.5 0h0m18.5 0h0m2.5 0h0m0.5 0h0m2.5 0h0m1.5 0h0m1.5 0h0m9 0h0m5.5 0h0m-104 0.5h0m24.5 0h0m2.5 0h0m9.5 0h0m5.5 0h0m11 0h0m5 0h0m0.5 0h0m1.5 0h0m19.5 0h0m1.5 0h0m3.5 0h0m1.5 0h0m6 0h0m4.5 0h0m-44.5 0.5h0m1.5 0h0m3.5 0h0m3.5 0h0m0.5 0h0m21 0h0m0.5 0h0m2 0h0m1 0h0m1.5 0h0m0.5 0h0m2.5 0h0m4 0h0m3 0h0m-76 0.5h0m15.5 0h0m7.5 0h0m5.5 0h0m1.5 0h0m0.5 0h0m2 0h0m3 0h0m1.5 0h0m2 0h0m21 0h0m3 0h0m1 0h0m0.5 0h0m5 0h0m0.5 0h0m-104.5 0.5h0m17.5 0h0m31 0h0m13.5 0h0m7 0h0m3 0h0m0.5 0h0m1 0h0m22 0h0m1 0h0m0.5 0h0m1.5 0h0m6 0h0m4.5 0h0m-58.5 0.5h0m4.5 0h0m1 0h0m6 0h0m5.5 0h0m1.5 0h0m28 0h0m0.5 0h0m1 0h0m0.5 0h0m2 0h0m2.5 0h0m-35 0.5h0m1 0h0m1.5 0h0m2 0h0m22 0h0m0.5 0h0m2.5 0h0m1 0h0m1 0h0m12.5 0h0m-43.5 0.5h0m27 0h0m5.5 0h0m4 0h0m7 0h0m3 0h0m-53 0.5h0m4 0h0m29 0h0m2 0h0m4.5 0h0m2.5 0h0m8 0h0m-51.5 0.5h0m1.5 0h0m3.5 0h0m3 0h0m2 0h0m25 0h0m0.5 0h0m1 0h0m1 0h0m6 0h0m-71 0.5h0m23.5 0h0m3.5 0h0m43 0h0m0.5 0h0m7.5 0h0m8.5 0h0m-56 0.5h0m0.5 0h0m3.5 0h0m2.5 0h0m26.5 0h0m6 0h0m3 0h0m3.5 0h0m-55 0.5h0m11.5 0h0m1.5 0h0m2.5 0h0m26.5 0h0m0.5 0h0m7 0h0m1 0h0m2.5 0h0m1.5 0h0m28 0h0m-74 0.5h0m3.5 0h0m30 0h0m1 0h0m2 0h0m1 0h0m2 0h0m2.5 0h0m0.5 0h0m-46.5 0.5h0m4 0h0m2.5 0h0m3 0h0m1 0h0m30 0h0m1.5 0h0m2.5 0h0m1 0h0m5 0h0m1 0h0m-104.5 0.5h0m31 0h0m8 0h0m11 0h0m9.5 0h0m0.5 0h0m31 0h0m1 0h0m0.5 0h0m2.5 0h0m4.5 0h0m5.5 0h0m-50 0.5h0m3 0h0m34 0h0m1 0h0m0.5 0h0m1.5 0h0m0.5 0h0m0.5 0h0m2 0h0m-50 0.5h0m8.5 0h0m35 0h0m2.5 0h0m0.5 0h0m0.5 0h0m0.5 0h0m1.5 0h0m11 0h0m-60.5 0.5h0m7.5 0h0m1 0h0m4.5 0h0m2 0h0m29.5 0h0m2 0h0m0.5 0h0m1 0h0m0.5 0h0m0.5 0h0m5 0h0m0.5 0h0m7.5 0h0m8 0h0m-120 0.5h0m56 0h0m0.5 0h0m1.5 0h0m2.5 0h0m4 0h0m33 0h0m4 0h0m3 0h0m-80.5 0.5h0m22.5 0h0m8.5 0h0m1 0h0m3.5 0h0m36 0h0m3 0h0m0.5 0h0m2 0h0m30 0h0m-91 0.5h0m3 0h0m9 0h0m1 0h0m7 0h0m1 0h0m1 0h0m0.5 0h0m0.5 0h0m32 0h0m1.5 0h0m3.5 0h0m2 0h0m5 0h0m-50.5 0.5h0m2.5 0h0m1 0h0m3 0h0m1 0h0m33 0h0m2.5 0h0m0.5 0h0m1.5 0h0m2 0h0m1 0h0m5 0h0m7.5 0h0m-64.5 0.5h0m7 0h0m36 0h0m1.5 0h0m1 0h0m0.5 0h0m4 0h0m1.5 0h0m-76.5 0.5h0m15.5 0h0m18 0h0m0.5 0h0m33.5 0h0m0.5 0h0m1.5 0h0m5 0h0m-51 0.5h0m1.5 0h0m4.5 0h0m4.5 0h0m2 0h0m31 0h0m3.5 0h0m2.5 0h0m4 0h0m0.5 0h0m-52.5 0.5h0m2 0h0m3 0h0m1.5 0h0m3 0h0m0.5 0h0m42.5 0h0m3.5 0h0m-63 0.5h0m50.5 0h0m1.5 0h0m-54.5 0.5h0m12.5 0h0m3.5 0h0m36.5 0h0m1 0h0m1 0h0m1 0h0m0.5 0h0m-90.5 0.5h0m44.5 0h0m3 0h0m5.5 0h0m1.5 0h0m32 0h0m1 0h0m2.5 0h0m1.5 0h0m1.5 0h0m4.5 0h0m3.5 0h0m2 0h0m-56.5 0.5h0m8 0h0m34 0h0m6 0h0m1 0h0m-62.5 0.5h0m5 0h0m5.5 0h0m2.5 0h0m41.5 0h0m3.5 0h0m0.5 0h0m-45 0.5h0m1 0h0m2 0h0m41.5 0h0m-66 0.5h0m16 0h0m6 0h0m4 0h0m1 0h0m34.5 0h0m0.5 0h0m0.5 0h0m0.5 0h0m8 0h0m-59.5 0.5h0m14.5 0h0m1.5 0h0m0.5 0h0m1 0h0m37.5 0h0m1 0h0m6.5 0h0m9.5 0h0m-80 0.5h0m14 0h0m1.5 0h0m4.5 0h0m1.5 0h0m2.5 0h0m0.5 0h0m38 0h0m1.5 0h0m1.5 0h0m11.5 0h0m-70.5 0.5h0m8 0h0m5 0h0m5.5 0h0m32.5 0h0m0.5 0h0m5.5 0h0m2.5 0h0m2 0h0m10 0h0m2 0h0m-65 0.5h0m4 0h0m4 0h0m35 0h0m1.5 0h0m0.5 0h0m-94 0.5h0m46.5 0h0m3.5 0h0m6.5 0h0m1 0h0m1 0h0m34 0h0m4.5 0h0m2 0h0m13 0h0m2 0h0m-67.5 0.5h0m4.5 0h0m7 0h0m1.5 0h0m33 0h0m1 0h0m1.5 0h0m1 0h0m3.5 0h0m4.5 0h0m1 0h0m-64 0.5h0m7 0h0m3.5 0h0m3 0h0m2 0h0m35.5 0h0m2 0h0m3.5 0h0m-81 0.5h0m34.5 0h0m0.5 0h0m5 0h0m35 0h0m0.5 0h0m1 0h0m2 0h0m2 0h0m1 0h0m6.5 0h0m-87 0.5h0m27.5 0h0m6.5 0h0m49 0h0m-51.5 0.5h0m3 0h0m4.5 0h0m0.5 0h0m1.5 0h0m0.5 0h0m32 0h0m1 0h0m1.5 0h0m2.5 0h0m1.5 0h0m-38.5 0.5h0m32 0h0m0.5 0h0m0.5 0h0m2.5 0h0m1 0h0m9 0h0m2 0h0m-61 0.5h0m0.5 0h0m1 0h0m4 0h0m2.5 0h0m1.5 0h0m2.5 0h0m33.5 0h0m13.5 0h0m-56 0.5h0m3.5 0h0m1 0h0m2.5 0h0m0.5 0h0m2.5 0h0m32.5 0h0m1.5 0h0m2 0h0m0.5 0h0m2 0h0m1 0h0m1.5 0h0m13.5 0h0m-64.5 0.5h0m3 0h0m6 0h0m36 0h0m2 0h0m1 0h0m1.5 0h0m1 0h0m0.5 0h0m-49 0.5h0m6 0h0m0.5 0h0m0.5 0h0m1.5 0h0m35.5 0h0m6.5 0h0m0.5 0h0m-97 0.5h0m26.5 0h0m15 0h0m12.5 0h0m0.5 0h0m32 0h0m1 0h0m0.5 0h0m3 0h0m1 0h0m1 0h0m16.5 0h0m-80.5 0.5h0m60 0h0m1 0h0m7 0h0m11.5 0h0m-65 0.5h0m8.5 0h0m33.5 0h0m4 0h0m3 0h0m6 0h0m-64.5 0.5h0m15 0h0m2 0h0m34 0h0m3.5 0h0m2 0h0m6 0h0m8.5 0h0m-117 0.5h0m38 0h0m10 0h0m13 0h0m0.5 0h0m1 0h0m1.5 0h0m0.5 0h0m0.5 0h0m32 0h0m5 0h0m1 0h0m1.5 0h0m-54 0.5h0m10 0h0m1.5 0h0m1 0h0m2.5 0h0m0.5 0h0m1 0h0m0.5 0h0m29.5 0h0m0.5 0h0m5 0h0m1 0h0m1 0h0m1 0h0m-48.5 0.5h0m9 0h0m1.5 0h0m32 0h0m1.5 0h0m7 0h0m-61.5 0.5h0m0.5 0h0m10 0h0m3 0h0m2 0h0m2 0h0m2.5 0h0m0.5 0h0m29.5 0h0m1 0h0m7.5 0h0m3.5 0h0m-69.5 0.5h0m11.5 0h0m3.5 0h0m6 0h0m5.5 0h0m0.5 0h0m1 0h0m32 0h0m2.5 0h0m-46.5 0.5h0m3 0h0m1 0h0m0.5 0h0m0.5 0h0m6 0h0m1.5 0h0m29 0h0m1 0h0m2.5 0h0m0.5 0h0m2 0h0m1.5 0h0m-46.5 0.5h0m2.5 0h0m3.5 0h0m5 0h0m27 0h0m1 0h0m2.5 0h0m24.5 0h0m-114 0.5h0m38 0h0m3.5 0h0m13 0h0m1 0h0m3 0h0m27.5 0h0m3 0h0m7.5 0h0m-45.5 0.5h0m0.5 0h0m4.5 0h0m29.5 0h0m2.5 0h0m1 0h0m-41.5 0.5h0m3 0h0m1.5 0h0m2 0h0m1 0h0m2 0h0m40 0h0m3 0h0m-41.5 0.5h0m29 0h0m2.5 0h0m1 0h0m9.5 0h0m4.5 0h0m-58.5 0.5h0m2 0h0m3.5 0h0m5.5 0h0m27 0h0m1.5 0h0m0.5 0h0m0.5 0h0m1.5 0h0m1.5 0h0m3 0h0m8 0h0m-55 0.5h0m1 0h0m12 0h0m26 0h0m0.5 0h0m7 0h0m1 0h0m1.5 0h0m-50.5 0.5h0m8 0h0m1.5 0h0m2 0h0m1 0h0m1.5 0h0m1 0h0m27.5 0h0m3.5 0h0m11.5 0h0m2 0h0m-58.5 0.5h0m3.5 0h0m6.5 0h0m6 0h0m22.5 0h0m0.5 0h0m2 0h0m3.5 0h0m3 0h0m8.5 0h0m-43.5 0.5h0m27 0h0m3 0h0m1.5 0h0m2 0h0m4.5 0h0m0.5 0h0m-91 0.5h0m48.5 0h0m0.5 0h0m1 0h0m5 0h0m21.5 0h0m2 0h0m0.5 0h0m2.5 0h0m1.5 0h0m5 0h0m-92.5 0.5h0m50.5 0h0m1.5 0h0m2.5 0h0m0.5 0h0m1 0h0m1 0h0m0.5 0h0m2 0h0m2 0h0m18.5 0h0m1 0h0m5.5 0h0m3 0h0m8 0h0m2 0h0m-54.5 0.5h0m6 0h0m0.5 0h0m7 0h0m1 0h0m1 0h0m19.5 0h0m1 0h0m1 0h0m5.5 0h0m0.5 0h0m2.5 0h0m5 0h0m-35.5 0.5h0m2 0h0m17.5 0h0m2.5 0h0m1 0h0m-38 0.5h0m7.5 0h0m0.5 0h0m5.5 0h0m1 0h0m18 0h0m3 0h0m1.5 0h0m3.5 0h0m2.5 0h0m5 0h0m7 0h0m3 0h0m-55 0.5h0m4.5 0h0m2.5 0h0m2.5 0h0m0.5 0h0m6.5 0h0m12 0h0m2 0h0m0.5 0h0m1 0h0m2 0h0m1.5 0h0m8 0h0m-102.5 0.5h0m40.5 0h0m14 0h0m2.5 0h0m5.5 0h0m5 0h0m0.5 0h0m8 0h0m14.5 0h0m8 0h0m3.5 0h0m0.5 0h0m-41 0.5h0m4 0h0m4.5 0h0m1.5 0h0m3.5 0h0m1 0h0m1 0h0m1 0h0m9 0h0m7.5 0h0m3.5 0h0m-46.5 0.5h0m10 0h0m4 0h0m0.5 0h0m0.5 0h0m2.5 0h0m1 0h0m3 0h0m2 0h0m2.5 0h0m1 0h0m0.5 0h0m9 0h0m1.5 0h0m6.5 0h0m-40 0.5h0m11.5 0h0m1.5 0h0m2 0h0m3.5 0h0m1 0h0m4.5 0h0m1 0h0m3 0h0m2 0h0m2.5 0h0m13.5 0h0m13 0h0m-50.5 0.5h0m3 0h0m3 0h0m1.5 0h0m1.5 0h0m0.5 0h0m10 0h0m2.5 0h0m1.5 0h0m6.5 0h0m4 0h0m1 0h0m1.5 0h0m-40.5 0.5h0m1 0h0m3 0h0m4.5 0h0m1.5 0h0m5 0h0m7 0h0m2 0h0m6.5 0h0m4 0h0m1.5 0h0m1.5 0h0m-37.5 0.5h0m3 0h0m4.5 0h0m4.5 0h0m4 0h0m0.5 0h0m6 0h0m1 0h0m0.5 0h0m1.5 0h0m3.5 0h0m6.5 0h0m3.5 0h0m-45 0.5h0m6 0h0m11.5 0h0m1 0h0m4.5 0h0m0.5 0h0m0.5 0h0m1 0h0m3 0h0m1.5 0h0m5.5 0h0m0.5 0h0m4.5 0h0m-26.5 0.5h0m0.5 0h0m6 0h0m3.5 0h0m3 0h0m6 0h0m2.5 0h0m2.5 0h0m18 0h0m-75 0.5h0m19.5 0h0m5.5 0h0m4 0h0m7 0h0m1.5 0h0m2 0h0m0.5 0h0m2 0h0m1.5 0h0m5 0h0m3.5 0h0m5 0h0m1.5 0h0m14.5 0h0m-104.5 0.5h0m59 0h0m6 0h0m6 0h0m0.5 0h0m1.5 0h0m2.5 0h0m2 0h0m1.5 0h0m1 0h0m6 0h0m3.5 0h0m16 0h0m-39.5 0.5h0m3.5 0h0m1.5 0h0m1 0h0m4 0h0m3.5 0h0m2 0h0m2.5 0h0m1 0h0m3 0h0m1 0h0m4.5 0h0m1 0h0m2 0h0m-33.5 0.5h0m11 0h0m3 0h0m6 0h0m0.5 0h0m2.5 0h0m-25.5 0.5h0m1.5 0h0m1 0h0m4 0h0m2.5 0h0m3 0h0m0.5 0h0m7.5 0h0m1.5 0h0m2 0h0m2 0h0m3 0h0m-34.5 0.5h0m5 0h0m4 0h0m7.5 0h0m0.5 0h0m3 0h0m1.5 0h0m1.5 0h0m2 0h0m1 0h0m3.5 0h0m23.5 0h0m-54.5 0.5h0m10.5 0h0m9.5 0h0m0.5 0h0m7 0h0m2 0h0m13.5 0h0m15.5 0h0m-95 0.5h0m6.5 0h0m25 0h0m1.5 0h0m6.5 0h0m10 0h0m2.5 0h0m18.5 0h0m3.5 0h0m-49.5 0.5h0m31 0h0m2 0h0m9 0h0m1 0h0m4 0h0m3.5 0h0m-38 0.5h0m7 0h0m3.5 0h0m1 0h0m2 0h0m2.5 0h0m2 0h0m4.5 0h0m0.5 0h0m0.5 0h0m3 0h0m9.5 0h0m0.5 0h0m-48.5 0.5h0m16 0h0m5 0h0m10.5 0h0m1.5 0h0m7 0h0m7 0h0m-20.5 0.5h0m7 0h0m2 0h0m5.5 0h0m0.5 0h0m5 0h0m2.5 0h0m1.5 0h0m7 0h0m-37.5 0.5h0m5 0h0m0.5 0h0m9.5 0h0m6 0h0m1 0h0m7.5 0h0m5.5 0h0m1 0h0m24 0h0m-67 0.5h0m7 0h0m1.5 0h0m1 0h0m3 0h0m6.5 0h0m0.5 0h0m1.5 0h0m1.5 0h0m1 0h0m3.5 0h0m4.5 0h0m1.5 0h0m1 0h0m5 0h0m0.5 0h0m-23 0.5h0m6.5 0h0m2.5 0h0m0.5 0h0m0.5 0h0m0.5 0h0m4 0h0m2 0h0m1 0h0m7 0h0m0.5 0h0m1 0h0m2 0h0m9 0h0m4 0h0m-55 0.5h0m7 0h0m6 0h0m2 0h0m1.5 0h0m1 0h0m4.5 0h0m12.5 0h0m-56.5 0.5h0m34 0h0m6 0h0m10 0h0m7.5 0h0m-90.5 0.5h0m61 0h0m0.5 0h0m0.5 0h0m9 0h0m2 0h0m6 0h0m2 0h0m6 0h0m4 0h0m5 0h0m2 0h0m2 0h0m6.5 0h0m-47.5 0.5h0m1.5 0h0m1 0h0m1.5 0h0m5 0h0m3.5 0h0m5.5 0h0m7.5 0h0m1.5 0h0m4 0h0m0.5 0h0m-26.5 0.5h0m5.5 0h0m12.5 0h0m4.5 0h0m2.5 0h0m0.5 0h0m1.5 0h0m1.5 0h0m0.5 0h0m0.5 0h0m3 0h0m5 0h0m4.5 0h0m-40.5 0.5h0m9 0h0m2.5 0h0m2.5 0h0m10 0h0m10 0h0m8.5 0h0m-47.5 0.5h0m8 0h0m2 0h0m7 0h0m4 0h0m8 0h0m-33.5 0.5h0m12.5 0h0m2 0h0m1.5 0h0m9.5 0h0m2.5 0h0m2 0h0m12 0h0m0.5 0h0m-25.5 0.5h0m23 0h0m-39.5 0.5h0m5 0h0m6 0h0m7 0h0m5 0h0m0.5 0h0m9 0h0m-31 0.5h0m4 0h0m5.5 0h0m8 0h0m1.5 0h0m0.5 0h0m9 0h0m25.5 0h0m-56 0.5h0m14 0h0m12 0h0m2.5 0h0m-26 0.5h0m9 0h0m1 0h0m7 0h0m2 0h0m6.5 0h0m1 0h0m6 0h0m1 0h0m11 0h0m2.5 0h0m-50.5 0.5h0m8.5 0h0m-18.5 0.5h0m21.5 0h0m1.5 0h0m3.5 0h0m7.5 0h0m11 0h0m-25.5 0.5h0m8 0h0m6.5 0h0m5 0h0m0.5 0h0m17 0h0m-40.5 0.5h0m1.5 0h0m11.5 0h0m0.5 0h0m1.5 0h0m3.5 0h0m17 0h0m-26 0.5h0m3.5 0h0m7 0h0m5 0h0m-29 0.5h0m9 0h0m17.5 0h0m8.5 0h0m1 0h0m1.5 0h0m-60 0.5h0m8 0h0m10 0h0m8 0h0m6 0h0m4.5 0h0m0.5 0h0m1.5 0h0m2 0h0m0.5 0h0m0.5 0h0m0.5 0h0m1 0h0m2.5 0h0m1 0h0m2 0h0m3 0h0m1.5 0h0m2 0h0m2 0h0m0.5 0h0m6 0h0m6 0h0m26.5 0h0"/>
</g>
<g id="panel3">
<path d="M103.5 257.3V418.5" stroke="#747474" stroke-width="1" fill="none"/>
<path d="M31.5 362.35H191" stroke="#8c8c8c" stroke-width="1.1" fill="none"/>
<path d="M43.59 418.5v3.2M31.5 406.41h-3.2M50.66 418.5v3.2M31.5 399.34h-3.2M55.67 418.5v3.2M31.5 394.33h-3.2M59.56 418.5v3.2M31.5 390.44h-3.2M62.74 418.5v3.2M31.5 387.26h-3.2M65.43 418.5v3.2M31.5 384.57h-3.2M67.76 418.5v3.2M31.5 382.24h-3.2M69.81 418.5v3.2M31.5 380.19h-3.2M83.74 418.5v3.2M31.5 366.26h-3.2M90.81 418.5v3.2M31.5 359.19h-3.2M95.82 418.5v3.2M31.5 354.18h-3.2M99.71 418.5v3.2M31.5 350.29h-3.2M102.89 418.5v3.2M31.5 347.11h-3.2M105.58 418.5v3.2M31.5 344.42h-3.2M107.91 418.5v3.2M31.5 342.09h-3.2M109.96 418.5v3.2M31.5 340.04h-3.2M123.89 418.5v3.2M31.5 326.11h-3.2M130.96 418.5v3.2M31.5 319.04h-3.2M135.97 418.5v3.2M31.5 314.03h-3.2M139.86 418.5v3.2M31.5 310.14h-3.2M143.04 418.5v3.2M31.5 306.96h-3.2M145.73 418.5v3.2M31.5 304.27h-3.2M148.06 418.5v3.2M31.5 301.94h-3.2M150.11 418.5v3.2M31.5 299.89h-3.2M164.04 418.5v3.2M31.5 285.96h-3.2M171.11 418.5v3.2M31.5 278.89h-3.2M176.12 418.5v3.2M31.5 273.88h-3.2M180.01 418.5v3.2M31.5 269.99h-3.2M183.19 418.5v3.2M31.5 266.81h-3.2M185.88 418.5v3.2M31.5 264.12h-3.2M188.21 418.5v3.2M31.5 261.79h-3.2M190.26 418.5v3.2M31.5 259.74h-3.2" stroke="#808080" stroke-width="1" fill="none"/>
<path d="M71.65 418.5v5.6M31.5 378.35h-6M111.8 418.5v5.6M31.5 338.2h-6M151.95 418.5v5.6M31.5 298.05h-6M192.1 418.5v5.6M31.5 257.9h-6" stroke="#707070" stroke-width="1" fill="none"/>
<path d="M25.5 418.5H192.6M31.5 424.8V257.4" stroke="#686868" stroke-width="1" fill="none"/>
<text class="tk" x="68.35" y="433.7" text-anchor="end">10</text><text class="ex" x="68.55" y="432.3">1</text>
<g transform="translate(21.6 378.35) rotate(-90)"><text class="tk" x="-3.3" text-anchor="end">10</text><text class="ex" x="-3.1" y="-0.5">1</text></g>
<text class="tk" x="108.5" y="433.7" text-anchor="end">10</text><text class="ex" x="108.7" y="432.3">2</text>
<g transform="translate(21.6 338.2) rotate(-90)"><text class="tk" x="-3.3" text-anchor="end">10</text><text class="ex" x="-3.1" y="-0.5">2</text></g>
<text class="tk" x="148.65" y="433.7" text-anchor="end">10</text><text class="ex" x="148.85" y="432.3">3</text>
<g transform="translate(21.6 298.05) rotate(-90)"><text class="tk" x="-3.3" text-anchor="end">10</text><text class="ex" x="-3.1" y="-0.5">3</text></g>
<text class="tk" x="188.8" y="433.7" text-anchor="end">10</text><text class="ex" x="189" y="432.3">4</text>
<g transform="translate(21.6 257.9) rotate(-90)"><text class="tk" x="-3.3" text-anchor="end">10</text><text class="ex" x="-3.1" y="-0.5">4</text></g>
<text class="q" x="36.3" y="263.9">1</text>
<text class="q" x="192.8" y="267.6">2</text>
<text class="q" x="33.5" y="416.9">3</text>
<text class="q" x="187.7" y="416.9">4</text>
<text class="ti" x="114.6" y="243.8" textLength="121.3" lengthAdjust="spacing">WEEK 2 - CONTROL</text>
<text class="ax" x="103.9" y="447.4">LIN</text>
<text class="sc" transform="translate(10.6 338) rotate(-90)" text-anchor="middle" textLength="26.4" lengthAdjust="spacing">Sca-1</text>
<text class="st sp" x="220.8" y="319.1">%Gate</text>
<text class="st rl" x="195" y="331.75">R1</text>
<text class="st sp" x="220.4" y="331.75">0.12</text>
<text class="st rl" x="195" y="344.5">R2</text>
<text class="st sp" x="220.4" y="344.5">1.21</text>
<text class="st rl" x="195" y="357">R3</text>
<text class="st sp" x="220.4" y="357">2.39</text>
<text class="st rl" x="195" y="369.5">R4</text>
<text class="st sp" x="220.4" y="369.5">96.28</text>
<path d="M106.5 418.5 106.5 376.5 106.67 375.21 107.17 374 107.96 372.96 109 372.17 110.21 371.67 111.5 371.5 135.5 371.5 136.79 371.67 138 372.17 139.04 372.96 139.83 374 140.33 375.21 140.5 376.5 140.5 418.5 Z" fill="#000" stroke="#000" stroke-width="1" stroke-linejoin="round"/>
<path class="d" d="M0 0m74 287.5h0m99 33.5h0m-39 1h0m0.5 3h0m30 1h0m-51.5 1h0m11 6.5h0m38.5 4h0m-20 1.5h0m10 1h0m-39.5 2h0m11.5 0h0m29.5 1h0m-21 0.5h0m25.5 0h0m-12 0.5h0m14.5 0h0m-30.5 2.5h0m31 0.5h0m-64.5 1h0m63 0h0m0.5 1h0m-42 2.5h0m-12 1h0m-32.5 0.5h0m52.5 0h0m1 0h0m22 0h0m22 0h0m-64.5 0.5h0m17 0.5h0m23 0h0m-6.5 1h0m3 0h0m2 0h0m11 0h0m-58 1h0m24.5 0h0m18.5 0h0m-11.5 0.5h0m4.5 0h0m1 0h0m7 0h0m5.5 0h0m7.5 0h0m-46.5 0.5h0m18 0h0m1 0h0m10 0h0m22.5 0h0m22 0h0m-78 0.5h0m25 0h0m-28 0.5h0m16 0h0m16 0h0m1 0h0m5.5 0h0m3.5 0h0m3 0h0m4 0h0m13 0h0m-48 0.5h0m16.5 0h0m1 0h0m1 0h0m2.5 0h0m1.5 0h0m2 0h0m-27 0.5h0m6 0h0m50 0h0m-68.5 0.5h0m35 0h0m8 0h0m-31 0.5h0m12 0h0m4.5 0h0m6.5 0h0m10 0h0m17 0h0m-30.5 0.5h0m15 0h0m0.5 0h0m4 0h0m-71 0.5h0m35.5 0h0m6 0h0m2 0h0m15 0h0m18.5 0h0m-49 0.5h0m21 0h0m11 0h0m-37 0.5h0m25 0h0m3 0h0m2.5 0h0m6.5 0h0m1.5 0h0m4.5 0h0m4 0h0m7 0h0m-74 0.5h0m26 0h0m13 0h0m4 0h0m2.5 0h0m21.5 0h0m-63 0.5h0m38 0h0m21.5 0h0m-34.5 0.5h0m2.5 0h0m8.5 0h0m3.5 0h0m3 0h0m1.5 0h0m15.5 0h0m19.5 0h0m-64.5 0.5h0m6 0h0m16 0h0m5 0h0m2.5 0h0m3 0h0m7.5 0h0m24 0h0m1 0h0m-69.5 0.5h0m26 0h0m2.5 0h0m23 0h0m2.5 0h0m-26.5 0.5h0m7 0h0m4.5 0h0m-24.5 0.5h0m2 0h0m1 0h0m1 0h0m6 0h0m9.5 0h0m6 0h0m4.5 0h0m2 0h0m5.5 0h0m-33 0.5h0m1.5 0h0m2 0h0m6 0h0m2.5 0h0m4.5 0h0m1.5 0h0m2.5 0h0m2.5 0h0m12.5 0h0m-51 0.5h0m23 0h0m13 0h0m1.5 0h0m1.5 0h0m10 0h0m-44.5 0.5h0m27 0h0m9 0h0m3.5 0h0m2 0h0m-20.5 0.5h0m4.5 0h0m7.5 0h0m4.5 0h0m1 0h0m19 0h0m-42.5 0.5h0m2.5 0h0m1.5 0h0m4 0h0m16.5 0h0m3 0h0m-53.5 0.5h0m18 0h0m5 0h0m2.5 0h0m5 0h0m5 0h0m2 0h0m4.5 0h0m1.5 0h0m8.5 0h0m7 0h0m2.5 0h0m1.5 0h0m-59.5 0.5h0m47.5 0h0m0.5 0h0m4.5 0h0m-47.5 0.5h0m11 0h0m8.5 0h0m5.5 0h0m2 0h0m10 0h0m0.5 0h0m9 0h0m1.5 0h0m-53.5 0.5h0m4 0h0m14 0h0m1.5 0h0m1 0h0m3.5 0h0m0.5 0h0m1 0h0m1.5 0h0m2 0h0m0.5 0h0m5.5 0h0m7 0h0m4 0h0m1.5 0h0m1.5 0h0m11 0h0m-59 0.5h0m18.5 0h0m4.5 0h0m16.5 0h0m2 0h0m-59 0.5h0m8 0h0m20.5 0h0m7 0h0m5 0h0m3 0h0m12 0h0m3.5 0h0m6.5 0h0m1.5 0h0m-47.5 0.5h0m11.5 0h0m0.5 0h0m10 0h0m1 0h0m3 0h0m1.5 0h0m0.5 0h0m2 0h0m11 0h0m20 0h0m-75 0.5h0m6 0h0m18 0h0m4 0h0m7.5 0h0m5 0h0m2 0h0m11 0h0m36 0h0m-76 0.5h0m42.5 0h0m-34.5 0.5h0m35.5 0h0m4.5 0h0m3 0h0m3.5 0h0m3.5 0h0m-67.5 0.5h0m4 0h0m44 0h0m10.5 0h0m2.5 0h0m5 0h0m-67 0.5h0m3.5 0h0m5 0h0m2.5 0h0m38 0h0m7.5 0h0m2 0h0m1.5 0h0m12.5 0h0m-84.5 0.5h0m25.5 0h0m37 0h0m0.5 0h0m7.5 0h0m6.5 0h0m-75.5 0.5h0m3 0h0m7 0h0m8.5 0h0m1 0h0m6 0h0m34.5 0h0m2 0h0m2.5 0h0m1 0h0m3.5 0h0m3 0h0m-59.5 0.5h0m9.5 0h0m2 0h0m4.5 0h0m39.5 0h0m4.5 0h0m1.5 0h0m2.5 0h0m-80.5 0.5h0m21.5 0h0m4.5 0h0m1.5 0h0m4 0h0m1 0h0m32.5 0h0m3.5 0h0m5.5 0h0m1.5 0h0m5 0h0m0.5 0h0m3 0h0m8 0h0m-78.5 0.5h0m4.5 0h0m5.5 0h0m5 0h0m39.5 0h0m5 0h0m-61.5 0.5h0m2 0h0m3 0h0m9.5 0h0m39 0h0m6.5 0h0m3 0h0m5 0h0m3.5 0h0m-63.5 0.5h0m0.5 0h0m5 0h0m42.5 0h0m0.5 0h0m0.5 0h0m1 0h0m3 0h0m1 0h0m1.5 0h0m3.5 0h0m3 0h0m1 0h0m-88.5 0.5h0m12 0h0m0.5 0h0m10.5 0h0m1.5 0h0m1.5 0h0m9 0h0m3 0h0m32.5 0h0m0.5 0h0m4.5 0h0m1 0h0m3.5 0h0m0.5 0h0m3 0h0m2 0h0m-74 0.5h0m4 0h0m22.5 0h0m39.5 0h0m4 0h0m8 0h0m-80.5 0.5h0m1 0h0m7.5 0h0m0.5 0h0m2 0h0m7 0h0m46 0h0m11 0h0m-66 0.5h0m0.5 0h0m3 0h0m1 0h0m2 0h0m5.5 0h0m5.5 0h0m1 0h0m38.5 0h0m5.5 0h0m1.5 0h0m-72 0.5h0m12 0h0m11.5 0h0m1.5 0h0m37.5 0h0m6.5 0h0m5 0h0m4 0h0m-63 0.5h0m6 0h0m40 0h0m2 0h0m1 0h0m1.5 0h0m3.5 0h0m1 0h0m0.5 0h0m1.5 0h0m4.5 0h0m-65 0.5h0m0.5 0h0m7.5 0h0m2 0h0m6.5 0h0m32.5 0h0m0.5 0h0m1 0h0m1 0h0m4.5 0h0m1 0h0m2 0h0m3 0h0m5.5 0h0m-71.5 0.5h0m13.5 0h0m1.5 0h0m4.5 0h0m1 0h0m0.5 0h0m33 0h0m4.5 0h0m1.5 0h0m0.5 0h0m1.5 0h0m3 0h0m0.5 0h0m13 0h0m-88.5 0.5h0m4 0h0m5.5 0h0m4 0h0m1.5 0h0m9 0h0m40 0h0m8 0h0m1 0h0m0.5 0h0m5.5 0h0m-66.5 0.5h0m11 0h0m3 0h0m37.5 0h0m1 0h0m4.5 0h0m0.5 0h0m0.5 0h0m1 0h0m4 0h0m-67 0.5h0m3.5 0h0m2 0h0m8.5 0h0m2 0h0m4 0h0m38.5 0h0m2 0h0m1.5 0h0m0.5 0h0m4 0h0m3 0h0m-79.5 0.5h0m13.5 0h0m4.5 0h0m9.5 0h0m3.5 0h0m36.5 0h0m1.5 0h0m2.5 0h0m5.5 0h0m5.5 0h0m-89.5 0.5h0m17.5 0h0m15.5 0h0m1.5 0h0m38.5 0h0m0.5 0h0m0.5 0h0m1 0h0m0.5 0h0m1 0h0m4 0h0m7 0h0m1 0h0m0.5 0h0m-55 0.5h0m41.5 0h0m2 0h0m1 0h0m1.5 0h0m1.5 0h0m-71 0.5h0m5 0h0m0.5 0h0m10 0h0m0.5 0h0m5 0h0m2 0h0m38.5 0h0m1.5 0h0m0.5 0h0m0.5 0h0m5 0h0m1.5 0h0m2.5 0h0m2 0h0m7 0h0m0.5 0h0m-71.5 0.5h0m14.5 0h0m1 0h0m1 0h0m35 0h0m1 0h0m3 0h0m1.5 0h0m1 0h0m1 0h0m1 0h0m7 0h0m-81 0.5h0m2.5 0h0m6 0h0m4.5 0h0m1.5 0h0m5 0h0m4.5 0h0m2 0h0m4.5 0h0m36 0h0m0.5 0h0m1 0h0m0.5 0h0m1.5 0h0m7.5 0h0m7.5 0h0m-76 0.5h0m3.5 0h0m7 0h0m4 0h0m41 0h0m1 0h0m4.5 0h0m0.5 0h0m0.5 0h0m0.5 0h0m0.5 0h0m1 0h0m0.5 0h0m1 0h0m0.5 0h0m1.5 0h0m1 0h0m9.5 0h0m2 0h0m-80 0.5h0m1 0h0m1 0h0m3.5 0h0m0.5 0h0m0.5 0h0m3.5 0h0m2.5 0h0m43 0h0m0.5 0h0m0.5 0h0m2 0h0m1 0h0m2.5 0h0m2 0h0m4 0h0m2 0h0m1.5 0h0m2.5 0h0m0.5 0h0m-77.5 0.5h0m0.5 0h0m20 0h0m38 0h0m1 0h0m1.5 0h0m0.5 0h0m1 0h0m2 0h0m2 0h0m5.5 0h0m9 0h0m-72.5 0.5h0m5 0h0m10 0h0m2 0h0m34.5 0h0m0.5 0h0m3.5 0h0m1.5 0h0m2.5 0h0m8 0h0m-71 0.5h0m1 0h0m0.5 0h0m1 0h0m1.5 0h0m11 0h0m0.5 0h0m3 0h0m34.5 0h0m3.5 0h0m0.5 0h0m3.5 0h0m2 0h0m1 0h0m4 0h0m0.5 0h0m3.5 0h0m-69.5 0.5h0m1.5 0h0m8 0h0m6.5 0h0m1.5 0h0m35.5 0h0m3.5 0h0m2 0h0m0.5 0h0m0.5 0h0m0.5 0h0m0.5 0h0m0.5 0h0m1.5 0h0m1 0h0m1.5 0h0m-73 0.5h0m1 0h0m9 0h0m2 0h0m2 0h0m1.5 0h0m1.5 0h0m6 0h0m2.5 0h0m34.5 0h0m1 0h0m0.5 0h0m0.5 0h0m1.5 0h0m1 0h0m2 0h0m3.5 0h0m3 0h0m1 0h0m2 0h0m4 0h0m-66.5 0.5h0m1.5 0h0m0.5 0h0m44.5 0h0m0.5 0h0m1.5 0h0m1 0h0m1 0h0m4.5 0h0m1 0h0m1 0h0m2 0h0m2 0h0m2 0h0m3.5 0h0m6 0h0m3.5 0h0m-86.5 0.5h0m11 0h0m0.5 0h0m4.5 0h0m1 0h0m1 0h0m1.5 0h0m3.5 0h0m33 0h0m1.5 0h0m1.5 0h0m1.5 0h0m2 0h0m5 0h0m0.5 0h0m2.5 0h0m0.5 0h0m1 0h0m2 0h0m2 0h0m-68.5 0.5h0m5.5 0h0m3 0h0m1.5 0h0m41.5 0h0m1.5 0h0m1.5 0h0m3.5 0h0m1.5 0h0m2 0h0m-62 0.5h0m49.5 0h0m1.5 0h0m1.5 0h0m0.5 0h0m1.5 0h0m1.5 0h0m0.5 0h0m1 0h0m3 0h0m0.5 0h0m5.5 0h0m-61 0.5h0m4 0h0m2 0h0m4 0h0m34.5 0h0m1 0h0m0.5 0h0m3 0h0m1.5 0h0m1 0h0m0.5 0h0m1 0h0m1 0h0m-63.5 0.5h0m3 0h0m8 0h0m4 0h0m2 0h0m37 0h0m1 0h0m0.5 0h0m0.5 0h0m1 0h0m0.5 0h0m1.5 0h0m1.5 0h0m1 0h0m1 0h0m4.5 0h0m4 0h0m0.5 0h0m1 0h0m4 0h0m-74.5 0.5h0m1 0h0m5.5 0h0m1 0h0m2.5 0h0m3.5 0h0m1.5 0h0m0.5 0h0m2.5 0h0m34.5 0h0m0.5 0h0m4.5 0h0m1 0h0m2.5 0h0m1.5 0h0m2 0h0m2.5 0h0m2 0h0m3.5 0h0m3 0h0m-86 0.5h0m9 0h0m2 0h0m4.5 0h0m6.5 0h0m3.5 0h0m1 0h0m2.5 0h0m32.5 0h0m0.5 0h0m1 0h0m1 0h0m1 0h0m0.5 0h0m1.5 0h0m3 0h0m0.5 0h0m0.5 0h0m0.5 0h0m3 0h0m4 0h0m5 0h0m-76 0.5h0m9 0h0m10 0h0m35 0h0m2 0h0m0.5 0h0m0.5 0h0m0.5 0h0m0.5 0h0m0.5 0h0m0.5 0h0m1 0h0m1.5 0h0m2 0h0m1 0h0m1.5 0h0m0.5 0h0m1.5 0h0m1 0h0m0.5 0h0m0.5 0h0m-57.5 0.5h0m0.5 0h0m2.5 0h0m4.5 0h0m0.5 0h0m34 0h0m3.5 0h0m0.5 0h0m1 0h0m1 0h0m0.5 0h0m0.5 0h0m1.5 0h0m0.5 0h0m0.5 0h0m2.5 0h0m1 0h0m0.5 0h0m-67 0.5h0m2.5 0h0m3 0h0m2.5 0h0m0.5 0h0m8 0h0m37 0h0m0.5 0h0m0.5 0h0m3.5 0h0m1.5 0h0m1.5 0h0m1 0h0m1 0h0m1 0h0m1.5 0h0m4.5 0h0m1.5 0h0m1.5 0h0m-68 0.5h0m1.5 0h0m13.5 0h0m36.5 0h0m0.5 0h0m0.5 0h0m0.5 0h0m1.5 0h0m2 0h0m1.5 0h0m1 0h0m1 0h0m1 0h0m2 0h0m0.5 0h0m2.5 0h0m-73 0.5h0m11.5 0h0m7.5 0h0m2.5 0h0m1 0h0m33 0h0m2.5 0h0m2 0h0m0.5 0h0m0.5 0h0m0.5 0h0m1.5 0h0m1 0h0m1 0h0m1.5 0h0m-79 0.5h0m18 0h0m1.5 0h0m6.5 0h0m1.5 0h0m2.5 0h0m4 0h0m0.5 0h0m33 0h0m0.5 0h0m2 0h0m0.5 0h0m0.5 0h0m2 0h0m1.5 0h0m1 0h0m1.5 0h0m1.5 0h0m2 0h0m0.5 0h0m3.5 0h0m1 0h0m-82.5 0.5h0m2.5 0h0m18 0h0m5 0h0m4 0h0m0.5 0h0m35 0h0m1 0h0m0.5 0h0m0.5 0h0m1.5 0h0m0.5 0h0m3 0h0m2 0h0m1.5 0h0m2 0h0m0.5 0h0m1 0h0m0.5 0h0m1.5 0h0m6.5 0h0m-65 0.5h0m5 0h0m37.5 0h0m1 0h0m1 0h0m1 0h0m2.5 0h0m1 0h0m0.5 0h0m1 0h0m0.5 0h0m7 0h0m1 0h0m3 0h0m-67 0.5h0m4.5 0h0m6.5 0h0m36.5 0h0m0.5 0h0m2.5 0h0m1 0h0m2 0h0m0.5 0h0m6.5 0h0m-53 0.5h0m40.5 0h0m2 0h0m0.5 0h0m0.5 0h0m3 0h0m2 0h0m0.5 0h0m0.5 0h0m0.5 0h0m0.5 0h0m2.5 0h0m2 0h0m2.5 0h0m3.5 0h0m2 0h0m-82 0.5h0m16 0h0m8 0h0m35.5 0h0m1 0h0m1 0h0m1.5 0h0m1 0h0m1.5 0h0m5.5 0h0m4 0h0m2.5 0h0m0.5 0h0m0.5 0h0m-82 0.5h0m17.5 0h0m3.5 0h0m42 0h0m1.5 0h0m0.5 0h0m1 0h0m1 0h0m1.5 0h0m1 0h0m0.5 0h0m1 0h0m5.5 0h0m6.5 0h0m-71 0.5h0m4.5 0h0m5 0h0m3 0h0m38 0h0m2 0h0m3 0h0m0.5 0h0m0.5 0h0m3.5 0h0m3.5 0h0m7 0h0m1 0h0m-85 0.5h0m14.5 0h0m14.5 0h0m35 0h0m0.5 0h0m2.5 0h0m1 0h0m3 0h0m7.5 0h0m1 0h0m1 0h0m-53 0.5h0m2 0h0m1.5 0h0m33.5 0h0m2.5 0h0m2.5 0h0m1.5 0h0m0.5 0h0m1 0h0m2 0h0m2.5 0h0m3 0h0m4.5 0h0m-70.5 0.5h0m12 0h0m2 0h0m38 0h0m1.5 0h0m1.5 0h0m1 0h0m2.5 0h0m1 0h0m1 0h0m3.5 0h0m1.5 0h0m1 0h0m2.5 0h0m5 0h0m-73 0.5h0m7 0h0m42 0h0m1 0h0m1.5 0h0m1 0h0m0.5 0h0m0.5 0h0m2.5 0h0m0.5 0h0m0.5 0h0m0.5 0h0m3 0h0m1 0h0m1 0h0m6 0h0m1.5 0h0m-67.5 0.5h0m8 0h0m1.5 0h0m3.5 0h0m33.5 0h0m2 0h0m0.5 0h0m2 0h0m2.5 0h0m7.5 0h0m5.5 0h0m-60.5 0.5h0m2.5 0h0m1.5 0h0m1 0h0m1 0h0m36 0h0m0.5 0h0m0.5 0h0m1 0h0m0.5 0h0m1.5 0h0m1.5 0h0m1 0h0m1.5 0h0m2 0h0m2 0h0m1.5 0h0m1 0h0m-52 0.5h0m1 0h0m0.5 0h0m34.5 0h0m0.5 0h0m1.5 0h0m3 0h0m1.5 0h0m1.5 0h0m1.5 0h0m0.5 0h0m2 0h0m1 0h0m2 0h0m4.5 0h0m6 0h0m-66.5 0.5h0m2.5 0h0m1.5 0h0m2 0h0m35.5 0h0m1 0h0m1.5 0h0m1 0h0m0.5 0h0m1 0h0m0.5 0h0m0.5 0h0m3.5 0h0m1 0h0m0.5 0h0m1 0h0m0.5 0h0m0.5 0h0m0.5 0h0m1.5 0h0m2 0h0m-53.5 0.5h0m2.5 0h0m33.5 0h0m1 0h0m2.5 0h0m1 0h0m0.5 0h0m1.5 0h0m0.5 0h0m0.5 0h0m3.5 0h0m0.5 0h0m0.5 0h0m14 0h0m-66 0.5h0m5 0h0m1 0h0m34 0h0m2 0h0m0.5 0h0m0.5 0h0m0.5 0h0m1 0h0m1 0h0m0.5 0h0m0.5 0h0m0.5 0h0m1.5 0h0m1 0h0m0.5 0h0m0.5 0h0m1.5 0h0m1.5 0h0m0.5 0h0m2 0h0m2.5 0h0m3 0h0m1 0h0m-58 0.5h0m1.5 0h0m1 0h0m34.5 0h0m2.5 0h0m1 0h0m0.5 0h0m2.5 0h0m0.5 0h0m2.5 0h0m-51.5 0.5h0m1.5 0h0m4.5 0h0m35 0h0m4.5 0h0m2 0h0m1 0h0m1 0h0m4 0h0m3 0h0m5.5 0h0m-63.5 0.5h0m6.5 0h0m0.5 0h0m37 0h0m5.5 0h0m0.5 0h0m0.5 0h0m2 0h0m0.5 0h0m6 0h0m1 0h0m-59.5 0.5h0m3.5 0h0m40 0h0m0.5 0h0m0.5 0h0m0.5 0h0m1.5 0h0m0.5 0h0m0.5 0h0m2 0h0m1.5 0h0m0.5 0h0m3.5 0h0m9 0h0m-60.5 0.5h0m40 0h0m4.5 0h0m1 0h0m1 0h0m3 0h0m1 0h0m0.5 0h0m8 0h0m-17.5 0.5h0m4 0h0m2 0h0m2.5 0h0m1 0h0m2 0h0m4.5 0h0m-57.5 0.5h0m39.5 0h0m0.5 0h0m0.5 0h0m0.5 0h0m1.5 0h0m1.5 0h0m0.5 0h0m4.5 0h0m-48 0.5h0m4 0h0m33 0h0m0.5 0h0m0.5 0h0m1.5 0h0m2 0h0m1 0h0m1 0h0m5 0h0m12.5 0h0m-59 0.5h0m1 0h0m41 0h0m0.5 0h0m3.5 0h0m1.5 0h0m5 0h0m-55 0.5h0m0.5 0h0m40.5 0h0m4 0h0m2.5 0h0m1 0h0m7.5 0h0m-58 0.5h0m1 0h0m5 0h0m35 0h0m2 0h0m3 0h0m0.5 0h0m2 0h0m3 0h0m12.5 0h0m-58.5 0.5h0m35.5 0h0m2 0h0m1 0h0m1 0h0m1.5 0h0m8 0h0m5.5 0h0m-57.5 0.5h0m1.5 0h0m36 0h0m3.5 0h0m2.5 0h0m2.5 0h0m2 0h0m2 0h0m3.5 0h0m0.5 0h0m2 0h0m-79 0.5h0m26.5 0h0m0.5 0h0m40.5 0h0m0.5 0h0m1 0h0m2 0h0m1.5 0h0m0.5 0h0m-12 0.5h0m1.5 0h0m0.5 0h0m0.5 0h0m3 0h0m0.5 0h0m8 0h0m-53.5 0.5h0m1.5 0h0m39 0h0m0.5 0h0m5.5 0h0m1.5 0h0m1 0h0m0.5 0h0m0.5 0h0m0.5 0h0m-55.5 0.5h0m1.5 0h0m8 0h0m34 0h0m3.5 0h0m1 0h0m1 0h0m2 0h0m1 0h0m1 0h0m1 0h0m0.5 0h0m0.5 0h0m1 0h0m4.5 0h0m-12 0.5h0m3.5 0h0m1.5 0h0m1 0h0m2 0h0m4 0h0m3 0h0m-56.5 0.5h0m39 0h0m7 0h0m2 0h0m2.5 0h0m9 0h0m-63 0.5h0m40.5 0h0m2 0h0m4.5 0h0m-42.5 0.5h0m38.5 0h0m4 0h0m0.5 0h0m1 0h0m3.5 0h0m-50 0.5h0m2.5 0h0m36.5 0h0m1 0h0m3 0h0m2 0h0m1 0h0m2 0h0m2.5 0h0m0.5 0h0m9 0h0m-58.5 0.5h0m0.5 0h0m38 0h0m1 0h0m0.5 0h0m2.5 0h0m1.5 0h0m0.5 0h0m0.5 0h0m2.5 0h0m1.5 0h0m1 0h0m5 0h0m-62 0.5h0m1 0h0m0.5 0h0m0.5 0h0m0.5 0h0m0.5 0h0m0.5 0h0m0.5 0h0m0.5 0h0m0.5 0h0m1 0h0m0.5 0h0m0.5 0h0m0.5 0h0m0.5 0h0m0.5 0h0m0.5 0h0m0.5 0h0m0.5 0h0m0.5 0h0m33 0h0m0.5 0h0m0.5 0h0m0.5 0h0m0.5 0h0m0.5 0h0m0.5 0h0m0.5 0h0m0.5 0h0m0.5 0h0m0.5 0h0m1 0h0m0.5 0h0m0.5 0h0m0.5 0h0m0.5 0h0m1 0h0m0.5 0h0m0.5 0h0m0.5 0h0m0.5 0h0m0.5 0h0m0.5 0h0m0.5 0h0m0.5 0h0m0.5 0h0m0.5 0h0m0.5 0h0m0.5 0h0m0.5 0h0m0.5 0h0m2 0h0m0.5 0h0m0.5 0h0m0.5 0h0m1 0h0m0.5 0h0m0.5 0h0m-61 0.5h0m1.5 0h0m1 0h0m1 0h0m1 0h0m1.5 0h0m33.5 0h0m1 0h0m1 0h0m1 0h0m1 0h0m2.5 0h0m1 0h0m3 0h0m0.5 0h0m1.5 0h0m3 0h0m3.5 0h0m3.5 0h0"/>
</g>
<g id="panel4">
<path d="M365.4 257.7V419.7" stroke="#747474" stroke-width="1" fill="none"/>
<path d="M294 363.4H451" stroke="#8c8c8c" stroke-width="1.1" fill="none"/>
<path d="M306.09 419.7v3.2M294 407.61h-3.2M313.16 419.7v3.2M294 400.54h-3.2M318.17 419.7v3.2M294 395.53h-3.2M322.06 419.7v3.2M294 391.64h-3.2M325.24 419.7v3.2M294 388.46h-3.2M327.93 419.7v3.2M294 385.77h-3.2M330.26 419.7v3.2M294 383.44h-3.2M332.31 419.7v3.2M294 381.39h-3.2M346.24 419.7v3.2M294 367.46h-3.2M353.31 419.7v3.2M294 360.39h-3.2M358.32 419.7v3.2M294 355.38h-3.2M362.21 419.7v3.2M294 351.49h-3.2M365.39 419.7v3.2M294 348.31h-3.2M368.08 419.7v3.2M294 345.62h-3.2M370.41 419.7v3.2M294 343.29h-3.2M372.46 419.7v3.2M294 341.24h-3.2M386.39 419.7v3.2M294 327.31h-3.2M393.46 419.7v3.2M294 320.24h-3.2M398.47 419.7v3.2M294 315.23h-3.2M402.36 419.7v3.2M294 311.34h-3.2M405.54 419.7v3.2M294 308.16h-3.2M408.23 419.7v3.2M294 305.47h-3.2M410.56 419.7v3.2M294 303.14h-3.2M412.61 419.7v3.2M294 301.09h-3.2M426.54 419.7v3.2M294 287.16h-3.2M433.61 419.7v3.2M294 280.09h-3.2M438.62 419.7v3.2M294 275.08h-3.2M442.51 419.7v3.2M294 271.19h-3.2M445.69 419.7v3.2M294 268.01h-3.2M448.38 419.7v3.2M294 265.32h-3.2M450.71 419.7v3.2M294 262.99h-3.2M452.76 419.7v3.2M294 260.94h-3.2" stroke="#808080" stroke-width="1" fill="none"/>
<path d="M334.15 419.7v5.6M294 379.55h-6M374.3 419.7v5.6M294 339.4h-6M414.45 419.7v5.6M294 299.25h-6M454.6 419.7v5.6M294 259.1h-6" stroke="#707070" stroke-width="1" fill="none"/>
<path d="M288 419.7H455.1M294 426V258.6" stroke="#686868" stroke-width="1" fill="none"/>
<text class="tk" x="330.85" y="434.9" text-anchor="end">10</text><text class="ex" x="331.05" y="433.5">1</text>
<g transform="translate(284.1 379.55) rotate(-90)"><text class="tk" x="-3.3" text-anchor="end">10</text><text class="ex" x="-3.1" y="-0.5">1</text></g>
<text class="tk" x="371" y="434.9" text-anchor="end">10</text><text class="ex" x="371.2" y="433.5">2</text>
<g transform="translate(284.1 339.4) rotate(-90)"><text class="tk" x="-3.3" text-anchor="end">10</text><text class="ex" x="-3.1" y="-0.5">2</text></g>
<text class="tk" x="411.15" y="434.9" text-anchor="end">10</text><text class="ex" x="411.35" y="433.5">3</text>
<g transform="translate(284.1 299.25) rotate(-90)"><text class="tk" x="-3.3" text-anchor="end">10</text><text class="ex" x="-3.1" y="-0.5">3</text></g>
<text class="tk" x="451.3" y="434.9" text-anchor="end">10</text><text class="ex" x="451.5" y="433.5">4</text>
<g transform="translate(284.1 259.1) rotate(-90)"><text class="tk" x="-3.3" text-anchor="end">10</text><text class="ex" x="-3.1" y="-0.5">4</text></g>
<text class="q" x="296.4" y="265.9">1</text>
<text class="q" x="449.8" y="265.9">2</text>
<text class="q" x="295.7" y="418.1">3</text>
<text class="q" x="449.7" y="418.1">4</text>
<text class="ti" x="364.8" y="243.9" textLength="124" lengthAdjust="spacing">WEEK 2 - CATALASE</text>
<text class="ax" x="363.9" y="447.4">LIN</text>
<text class="sc" transform="translate(271.5 339) rotate(-90)" text-anchor="middle" textLength="26.4" lengthAdjust="spacing">Sca-1</text>
<text class="st sp" x="475" y="314.25">%Gate</text>
<text class="st rl" x="451" y="327.8">R1</text>
<text class="st sp" x="474.7" y="326.55">23.86</text>
<text class="st rl" x="451" y="339.8">R2</text>
<text class="st sp" x="474.7" y="338.4">33.81</text>
<text class="st rl" x="451" y="352.9">R3</text>
<text class="st sp" x="474.7" y="351.25">15.47</text>
<text class="st rl" x="451" y="366">R4</text>
<text class="st sp" x="474.7" y="364.15">26.86</text>
<path class="d" d="M0 0m378.5 262h0m-20.5 1h0m23 1h0m32.5 2.5h0m-10.5 1.5h0m19.5 1h0m0.5 0h0m-81.5 2.5h0m61.5 0.5h0m44 0h0m-105.5 0.5h0m34 0h0m36 0.5h0m-64.5 1.5h0m65.5 0h0m-64 1.5h0m8.5 0h0m-15 1h0m5.5 0.5h0m64 0h0m-79.5 0.5h0m17 0h0m7 0.5h0m42 0h0m17 0h0m-65.5 0.5h0m68 0h0m-24 0.5h0m-38 0.5h0m-1.5 0.5h0m-9 0.5h0m3.5 0h0m-2 0.5h0m41.5 0h0m10 0h0m-47 0.5h0m2.5 0h0m2.5 0h0m6 0h0m54.5 0h0m25 0h0m-92 0.5h0m-7 0.5h0m2.5 0h0m7.5 0h0m2 0h0m-21.5 0.5h0m4.5 0h0m6.5 0h0m5.5 0h0m1.5 0h0m4.5 0h0m41 0h0m14.5 0h0m3.5 0h0m-80 0.5h0m5 0h0m6.5 0h0m19.5 0h0m1 0h0m41.5 0h0m-61 0.5h0m29.5 0h0m47 0h0m-92.5 0.5h0m13.5 0h0m21 0h0m-21.5 0.5h0m6 0h0m7.5 0h0m-20 0.5h0m5 0h0m3 0h0m1 0h0m4.5 0h0m0.5 0h0m46.5 0h0m13.5 0h0m-71 0.5h0m2 0h0m2.5 0h0m14 0h0m9.5 0h0m65 0h0m-90.5 0.5h0m4 0h0m3.5 0h0m0.5 0h0m4 0h0m-13.5 0.5h0m2 0h0m0.5 0h0m0.5 0h0m3.5 0h0m5 0h0m12 0h0m0.5 0h0m-42.5 0.5h0m12 0h0m8 0h0m7 0h0m3.5 0h0m2 0h0m11.5 0h0m5 0h0m27.5 0h0m28.5 0h0m-86 0.5h0m6 0h0m2 0h0m2 0h0m2.5 0h0m54 0h0m-69 0.5h0m1.5 0h0m2.5 0h0m0.5 0h0m2 0h0m2 0h0m1 0h0m2 0h0m0.5 0h0m12.5 0h0m55 0h0m-61.5 0.5h0m0.5 0h0m0.5 0h0m20.5 0h0m44 0h0m-81.5 0.5h0m0.5 0h0m3 0h0m1.5 0h0m4 0h0m2.5 0h0m1 0h0m1.5 0h0m2.5 0h0m29.5 0h0m-50 0.5h0m5 0h0m2 0h0m0.5 0h0m7 0h0m58 0h0m14.5 0h0m-91.5 0.5h0m9 0h0m3 0h0m3.5 0h0m5 0h0m8.5 0h0m47 0h0m1.5 0h0m-69.5 0.5h0m6 0h0m4 0h0m1.5 0h0m25 0h0m-47 0.5h0m6 0h0m2.5 0h0m9.5 0h0m1.5 0h0m4 0h0m1.5 0h0m11 0h0m-33.5 0.5h0m1.5 0h0m20 0h0m16.5 0h0m4.5 0h0m-31 0.5h0m5 0h0m4 0h0m0.5 0h0m1.5 0h0m-22.5 0.5h0m4 0h0m3.5 0h0m3.5 0h0m6.5 0h0m4.5 0h0m2.5 0h0m73.5 0h0m-100.5 0.5h0m12 0h0m3.5 0h0m1 0h0m2.5 0h0m4 0h0m0.5 0h0m2.5 0h0m2.5 0h0m59.5 0h0m2.5 0h0m-84 0.5h0m5 0h0m3 0h0m0.5 0h0m7 0h0m4 0h0m4.5 0h0m40.5 0h0m-61 0.5h0m1.5 0h0m1.5 0h0m6 0h0m7 0h0m3 0h0m3.5 0h0m1 0h0m60 0h0m-93.5 0.5h0m12 0h0m2.5 0h0m3.5 0h0m2 0h0m0.5 0h0m1.5 0h0m1 0h0m6.5 0h0m4 0h0m64.5 0h0m-84.5 0.5h0m2 0h0m1.5 0h0m0.5 0h0m4 0h0m2.5 0h0m3.5 0h0m37.5 0h0m-56 0.5h0m5 0h0m3 0h0m5 0h0m2.5 0h0m0.5 0h0m1 0h0m0.5 0h0m49.5 0h0m-60 0.5h0m3.5 0h0m1.5 0h0m2.5 0h0m5 0h0m0.5 0h0m1 0h0m3 0h0m1 0h0m-19.5 0.5h0m6 0h0m4 0h0m2.5 0h0m2 0h0m5.5 0h0m23.5 0h0m-44.5 0.5h0m4.5 0h0m1 0h0m1 0h0m0.5 0h0m1 0h0m0.5 0h0m4.5 0h0m3.5 0h0m1 0h0m0.5 0h0m55.5 0h0m-89.5 0.5h0m19 0h0m2 0h0m3 0h0m4 0h0m5 0h0m6 0h0m37 0h0m5 0h0m-64.5 0.5h0m1.5 0h0m1.5 0h0m1 0h0m1 0h0m4.5 0h0m0.5 0h0m2 0h0m1 0h0m1 0h0m10.5 0h0m32 0h0m14.5 0h0m-71 0.5h0m2 0h0m2 0h0m1.5 0h0m5.5 0h0m10.5 0h0m56 0h0m-81 0.5h0m2.5 0h0m0.5 0h0m3 0h0m6.5 0h0m0.5 0h0m3 0h0m3.5 0h0m6 0h0m58 0h0m2 0h0m-114 0.5h0m29 0h0m1.5 0h0m2 0h0m0.5 0h0m2.5 0h0m4.5 0h0m1 0h0m10.5 0h0m26.5 0h0m39 0h0m12.5 0h0m-100 0.5h0m3 0h0m2 0h0m0.5 0h0m1.5 0h0m3 0h0m1 0h0m4.5 0h0m0.5 0h0m21 0h0m2 0h0m12.5 0h0m1.5 0h0m9 0h0m-65 0.5h0m2.5 0h0m3 0h0m2 0h0m3 0h0m1.5 0h0m3.5 0h0m5.5 0h0m-11 0.5h0m0.5 0h0m48 0h0m24.5 0h0m-77 0.5h0m0.5 0h0m4 0h0m0.5 0h0m1 0h0m1 0h0m1.5 0h0m2 0h0m6 0h0m34 0h0m8.5 0h0m-61.5 0.5h0m7 0h0m2.5 0h0m0.5 0h0m4.5 0h0m-23 0.5h0m7 0h0m9 0h0m3 0h0m3.5 0h0m1.5 0h0m1 0h0m38.5 0h0m-80.5 0.5h0m22 0h0m4.5 0h0m4.5 0h0m5.5 0h0m3.5 0h0m33 0h0m4.5 0h0m6 0h0m26.5 0h0m-91 0.5h0m4.5 0h0m7 0h0m6.5 0h0m6.5 0h0m7 0h0m9.5 0h0m27 0h0m9.5 0h0m-83.5 0.5h0m16.5 0h0m2.5 0h0m0.5 0h0m5.5 0h0m53.5 0h0m16 0h0m-78 0.5h0m14.5 0h0m7.5 0h0m33.5 0h0m8.5 0h0m-67 0.5h0m0.5 0h0m9.5 0h0m3.5 0h0m4 0h0m37.5 0h0m-73 0.5h0m27.5 0h0m4 0h0m45 0h0m7.5 0h0m3 0h0m1.5 0h0m-55.5 0.5h0m9.5 0h0m44 0h0m17.5 0h0m20 0h0m-115 0.5h0m4 0h0m1.5 0h0m6.5 0h0m43 0h0m33.5 0h0m4.5 0h0m11.5 0h0m-94.5 0.5h0m5 0h0m11 0h0m-18.5 0.5h0m2.5 0h0m5 0h0m3.5 0h0m37 0h0m27.5 0h0m-98.5 0.5h0m29 0h0m9 0h0m6 0h0m60 0h0m-101.5 0.5h0m6 0h0m6.5 0h0m24.5 0h0m0.5 0h0m10 0h0m22 0h0m22.5 0h0m16 0h0m-96 0.5h0m13 0h0m8 0h0m8.5 0h0m9.5 0h0m16 0h0m4.5 0h0m5 0h0m-84 0.5h0m20 0h0m32.5 0h0m17.5 0h0m11 0h0m25 0h0m-79 0.5h0m2.5 0h0m12 0h0m6 0h0m42.5 0h0m15 0h0m-96 0.5h0m28 0h0m7 0h0m25 0h0m27.5 0h0m-74 0.5h0m7 0h0m0.5 0h0m2.5 0h0m9 0h0m7.5 0h0m11 0h0m19.5 0h0m14.5 0h0m-81 0.5h0m8.5 0h0m13.5 0h0m4 0h0m0.5 0h0m20.5 0h0m2.5 0h0m37 0h0m-71 0.5h0m9 0h0m5.5 0h0m6.5 0h0m18 0h0m13.5 0h0m2 0h0m6 0h0m15.5 0h0m-79.5 0.5h0m8 0h0m63 0h0m27 0h0m-93 0.5h0m3 0h0m48.5 0h0m-63 0.5h0m15 0h0m2.5 0h0m1.5 0h0m31 0h0m9 0h0m8 0h0m1.5 0h0m0.5 0h0m15 0h0m-85.5 0.5h0m17.5 0h0m4.5 0h0m21.5 0h0m31 0h0m9.5 0h0m-78.5 0.5h0m2 0h0m8.5 0h0m2 0h0m6.5 0h0m13 0h0m1.5 0h0m0.5 0h0m4 0h0m15 0h0m-78 0.5h0m24.5 0h0m6 0h0m8.5 0h0m12 0h0m9.5 0h0m44.5 0h0m3.5 0h0m-78.5 0.5h0m1 0h0m8 0h0m11.5 0h0m16 0h0m25.5 0h0m-61.5 0.5h0m14 0h0m4.5 0h0m11.5 0h0m13.5 0h0m4.5 0h0m10.5 0h0m-43 0.5h0m25.5 0h0m26 0h0m29.5 0h0m-75 0.5h0m-40 0.5h0m26.5 0h0m4 0h0m0.5 0h0m35.5 0h0m16.5 0h0m11.5 0h0m-37 0.5h0m27.5 0h0m5.5 0h0m-66 0.5h0m3 0h0m0.5 0h0m24.5 0h0m23.5 0h0m27.5 0h0m-100.5 0.5h0m23 0h0m3 0h0m18.5 0h0m6 0h0m26.5 0h0m19.5 0h0m6 0h0m-79.5 0.5h0m6 0h0m6 0h0m23 0h0m1.5 0h0m25 0h0m-67.5 0.5h0m3.5 0h0m12.5 0h0m2.5 0h0m5.5 0h0m11 0h0m12 0h0m39.5 0h0m-88 0.5h0m4.5 0h0m1 0h0m3.5 0h0m9.5 0h0m7 0h0m8.5 0h0m23.5 0h0m14 0h0m5 0h0m5 0h0m-85.5 0.5h0m2.5 0h0m7.5 0h0m34.5 0h0m32.5 0h0m1.5 0h0m20.5 0h0m-100.5 0.5h0m10.5 0h0m12.5 0h0m13 0h0m30.5 0h0m3.5 0h0m7.5 0h0m7.5 0h0m-106 0.5h0m36 0h0m4 0h0m24 0h0m24.5 0h0m0.5 0h0m8.5 0h0m15.5 0h0m-92.5 0.5h0m15 0h0m1.5 0h0m6.5 0h0m46 0h0m13.5 0h0m-80.5 0.5h0m9 0h0m2.5 0h0m4.5 0h0m10 0h0m32.5 0h0m3 0h0m26 0h0m-83 0.5h0m7.5 0h0m11.5 0h0m-13 0.5h0m6.5 0h0m1 0h0m31.5 0h0m10 0h0m10.5 0h0m21.5 0h0m-100 0.5h0m4 0h0m10.5 0h0m29 0h0m13 0h0m6 0h0m38 0h0m-86 0.5h0m8 0h0m48.5 0h0m12.5 0h0m9.5 0h0m15.5 0h0m3.5 0h0m-97 0.5h0m10 0h0m2 0h0m3 0h0m12 0h0m0.5 0h0m24.5 0h0m13 0h0m15 0h0m-107.5 0.5h0m12 0h0m18 0h0m1 0h0m7.5 0h0m10.5 0h0m3.5 0h0m21 0h0m8 0h0m7 0h0m2.5 0h0m6 0h0m0.5 0h0m-54 0.5h0m24 0h0m10.5 0h0m1 0h0m25.5 0h0m-86 0.5h0m6.5 0h0m9.5 0h0m8 0h0m11.5 0h0m3 0h0m10 0h0m23.5 0h0m5.5 0h0m30.5 0h0m-103 0.5h0m6 0h0m7.5 0h0m0.5 0h0m8.5 0h0m5.5 0h0m25.5 0h0m23 0h0m14 0h0m-84 0.5h0m11 0h0m2 0h0m3 0h0m17 0h0m41.5 0h0m1.5 0h0m1.5 0h0m-121.5 0.5h0m29 0h0m8.5 0h0m53.5 0h0m30 0h0m-122 0.5h0m51.5 0h0m4.5 0h0m7.5 0h0m11 0h0m8 0h0m4 0h0m4 0h0m27 0h0m7.5 0h0m7 0h0m-101.5 0.5h0m5.5 0h0m12.5 0h0m0.5 0h0m1.5 0h0m7.5 0h0m10 0h0m34.5 0h0m21 0h0m-75.5 0.5h0m12.5 0h0m6.5 0h0m7.5 0h0m21.5 0h0m-48 0.5h0m10.5 0h0m1 0h0m20.5 0h0m1 0h0m8 0h0m4.5 0h0m3 0h0m21.5 0h0m-69.5 0.5h0m7.5 0h0m6 0h0m7 0h0m24 0h0m5 0h0m1 0h0m5.5 0h0m9.5 0h0m2 0h0m1.5 0h0m15 0h0m-114.5 0.5h0m11 0h0m15 0h0m13.5 0h0m6.5 0h0m4 0h0m14 0h0m2 0h0m3 0h0m5 0h0m16 0h0m0.5 0h0m-61.5 0.5h0m22 0h0m18 0h0m25.5 0h0m13.5 0h0m1 0h0m-66 0.5h0m46.5 0h0m24.5 0h0m1 0h0m-96 0.5h0m1.5 0h0m1.5 0h0m22.5 0h0m2.5 0h0m9 0h0m6.5 0h0m17 0h0m4 0h0m5.5 0h0m10.5 0h0m-85.5 0.5h0m11.5 0h0m7.5 0h0m2 0h0m3 0h0m7 0h0m18.5 0h0m14 0h0m7 0h0m5 0h0m0.5 0h0m1 0h0m14.5 0h0m-91 0.5h0m1.5 0h0m20.5 0h0m6 0h0m3 0h0m8.5 0h0m27 0h0m4.5 0h0m12 0h0m-51 0.5h0m2.5 0h0m22 0h0m15.5 0h0m6.5 0h0m-53 0.5h0m0.5 0h0m1 0h0m7.5 0h0m21 0h0m6.5 0h0m5.5 0h0m7.5 0h0m2.5 0h0m17 0h0m-94 0.5h0m10 0h0m3.5 0h0m3.5 0h0m1 0h0m2 0h0m1 0h0m19.5 0h0m21.5 0h0m1.5 0h0m0.5 0h0m6.5 0h0m6 0h0m9.5 0h0m-80.5 0.5h0m9.5 0h0m8.5 0h0m12 0h0m25 0h0m6 0h0m5 0h0m1 0h0m2.5 0h0m14 0h0m-93 0.5h0m16.5 0h0m5.5 0h0m4.5 0h0m2 0h0m7.5 0h0m6 0h0m19.5 0h0m1.5 0h0m9 0h0m-54 0.5h0m1 0h0m2 0h0m2.5 0h0m18 0h0m6 0h0m17.5 0h0m1.5 0h0m12.5 0h0m21.5 0h0m-82 0.5h0m1.5 0h0m0.5 0h0m4.5 0h0m26 0h0m10.5 0h0m1.5 0h0m8 0h0m3.5 0h0m0.5 0h0m9.5 0h0m-104.5 0.5h0m18.5 0h0m23 0h0m8 0h0m0.5 0h0m0.5 0h0m8.5 0h0m5 0h0m6 0h0m5.5 0h0m1.5 0h0m1.5 0h0m9.5 0h0m6.5 0h0m15.5 0h0m4.5 0h0m4 0h0m-106 0.5h0m0.5 0h0m32 0h0m20 0h0m7 0h0m5.5 0h0m5 0h0m2.5 0h0m2 0h0m0.5 0h0m-43.5 0.5h0m3.5 0h0m1 0h0m3 0h0m42.5 0h0m12.5 0h0m12.5 0h0m-85.5 0.5h0m0.5 0h0m0.5 0h0m15 0h0m4 0h0m7 0h0m1 0h0m1.5 0h0m4.5 0h0m3 0h0m13 0h0m12 0h0m1 0h0m-58 0.5h0m4 0h0m12.5 0h0m33 0h0m-67.5 0.5h0m16 0h0m1 0h0m7 0h0m6 0h0m24.5 0h0m12 0h0m7 0h0m25.5 0h0m-86 0.5h0m2 0h0m7 0h0m4.5 0h0m1.5 0h0m16.5 0h0m25 0h0m8.5 0h0m-77 0.5h0m12.5 0h0m16 0h0m15.5 0h0m12.5 0h0m3 0h0m7.5 0h0m45.5 0h0m-125 0.5h0m25 0h0m5 0h0m6.5 0h0m2 0h0m5.5 0h0m2 0h0m2 0h0m0.5 0h0m4 0h0m18 0h0m6.5 0h0m6 0h0m4.5 0h0m1.5 0h0m-64.5 0.5h0m3.5 0h0m0.5 0h0m3.5 0h0m10.5 0h0m6.5 0h0m8.5 0h0m7 0h0m3 0h0m7.5 0h0m4.5 0h0m1 0h0m20 0h0m-83.5 0.5h0m13.5 0h0m3.5 0h0m14 0h0m2.5 0h0m1.5 0h0m18 0h0m7 0h0m2.5 0h0m4 0h0m5 0h0m2 0h0m19.5 0h0m-41.5 0.5h0m6.5 0h0m5 0h0m3 0h0m-71.5 0.5h0m27 0h0m17 0h0m6.5 0h0m3 0h0m4 0h0m11 0h0m0.5 0h0m0.5 0h0m3 0h0m-48 0.5h0m8.5 0h0m35 0h0m1.5 0h0m4 0h0m0.5 0h0m3.5 0h0m3.5 0h0m-68 0.5h0m3.5 0h0m3.5 0h0m8 0h0m2.5 0h0m4.5 0h0m16.5 0h0m9.5 0h0m0.5 0h0m4 0h0m1 0h0m1.5 0h0m7.5 0h0m1.5 0h0m1 0h0m-64.5 0.5h0m18.5 0h0m9 0h0m1.5 0h0m13.5 0h0m2.5 0h0m1 0h0m5.5 0h0m2 0h0m0.5 0h0m3.5 0h0m2.5 0h0m10.5 0h0m12 0h0m-101 0.5h0m10.5 0h0m3 0h0m10 0h0m2.5 0h0m1 0h0m5 0h0m16 0h0m2 0h0m9.5 0h0m5 0h0m0.5 0h0m5.5 0h0m10.5 0h0m2 0h0m-63 0.5h0m3 0h0m4 0h0m8.5 0h0m0.5 0h0m1.5 0h0m4 0h0m13 0h0m18 0h0m3.5 0h0m1.5 0h0m-85.5 0.5h0m30.5 0h0m6.5 0h0m7 0h0m1 0h0m2.5 0h0m1.5 0h0m8 0h0m14 0h0m8.5 0h0m10.5 0h0m1 0h0m5.5 0h0m14.5 0h0m12.5 0h0m-123.5 0.5h0m16.5 0h0m11 0h0m6 0h0m11.5 0h0m26 0h0m1.5 0h0m2.5 0h0m1 0h0m9 0h0m5 0h0m6 0h0m7 0h0m3 0h0m-126 0.5h0m26 0h0m29 0h0m15.5 0h0m17.5 0h0m9.5 0h0m8.5 0h0m8 0h0m-82.5 0.5h0m23.5 0h0m1 0h0m9 0h0m2.5 0h0m5.5 0h0m6 0h0m4 0h0m3.5 0h0m3 0h0m10.5 0h0m1 0h0m1.5 0h0m1.5 0h0m3 0h0m12.5 0h0m3.5 0h0m-86 0.5h0m1.5 0h0m2.5 0h0m6.5 0h0m9 0h0m1 0h0m2.5 0h0m0.5 0h0m3.5 0h0m9.5 0h0m15 0h0m1 0h0m4.5 0h0m2.5 0h0m1 0h0m0.5 0h0m2 0h0m1 0h0m0.5 0h0m7.5 0h0m6 0h0m10 0h0m-86.5 0.5h0m10.5 0h0m8.5 0h0m10 0h0m4.5 0h0m14.5 0h0m11.5 0h0m2.5 0h0m0.5 0h0m1.5 0h0m0.5 0h0m22.5 0h0m2.5 0h0m-93.5 0.5h0m3.5 0h0m8.5 0h0m3 0h0m6.5 0h0m13 0h0m27 0h0m2 0h0m1.5 0h0m5 0h0m0.5 0h0m2.5 0h0m1.5 0h0m0.5 0h0m1 0h0m-68 0.5h0m5.5 0h0m8 0h0m3 0h0m3.5 0h0m5.5 0h0m2 0h0m1 0h0m2 0h0m15.5 0h0m7 0h0m1 0h0m4 0h0m0.5 0h0m12.5 0h0m-75 0.5h0m10 0h0m8 0h0m3.5 0h0m1 0h0m1.5 0h0m3 0h0m23.5 0h0m2 0h0m1 0h0m1.5 0h0m0.5 0h0m1.5 0h0m0.5 0h0m3.5 0h0m2 0h0m4 0h0m4 0h0m2.5 0h0m-90 0.5h0m15 0h0m23 0h0m10 0h0m1 0h0m4 0h0m6.5 0h0m9 0h0m0.5 0h0m6 0h0m3.5 0h0m3.5 0h0m2 0h0m2.5 0h0m1 0h0m6.5 0h0m-71 0.5h0m12.5 0h0m9.5 0h0m0.5 0h0m24 0h0m1.5 0h0m7.5 0h0m0.5 0h0m1 0h0m1.5 0h0m5.5 0h0m-89.5 0.5h0m13 0h0m18 0h0m10 0h0m4.5 0h0m2.5 0h0m1.5 0h0m18 0h0m6.5 0h0m3 0h0m3 0h0m1.5 0h0m3.5 0h0m5 0h0m2 0h0m-60.5 0.5h0m3.5 0h0m1 0h0m2 0h0m0.5 0h0m6 0h0m0.5 0h0m23 0h0m6.5 0h0m6 0h0m0.5 0h0m-56 0.5h0m3.5 0h0m2 0h0m4 0h0m1 0h0m2.5 0h0m3.5 0h0m3.5 0h0m12.5 0h0m5 0h0m4.5 0h0m6 0h0m3 0h0m2 0h0m2 0h0m6 0h0m5 0h0m4 0h0m8.5 0h0m-72 0.5h0m6.5 0h0m1 0h0m2 0h0m0.5 0h0m0.5 0h0m3.5 0h0m7.5 0h0m14.5 0h0m4 0h0m2 0h0m1 0h0m1.5 0h0m1.5 0h0m1.5 0h0m1.5 0h0m6.5 0h0m2.5 0h0m-72.5 0.5h0m9 0h0m8.5 0h0m1 0h0m2 0h0m1 0h0m6 0h0m5 0h0m0.5 0h0m0.5 0h0m2 0h0m11.5 0h0m5 0h0m2.5 0h0m5 0h0m1 0h0m0.5 0h0m2.5 0h0m0.5 0h0m8 0h0m0.5 0h0m1.5 0h0m-75 0.5h0m5.5 0h0m5 0h0m8.5 0h0m2.5 0h0m2.5 0h0m2.5 0h0m1.5 0h0m0.5 0h0m4 0h0m3.5 0h0m1 0h0m13.5 0h0m1 0h0m7.5 0h0m5 0h0m2 0h0m1 0h0m2 0h0m0.5 0h0m3.5 0h0m7.5 0h0m-73.5 0.5h0m1.5 0h0m2.5 0h0m2.5 0h0m1 0h0m2 0h0m4 0h0m6.5 0h0m6 0h0m6 0h0m1.5 0h0m14.5 0h0m6.5 0h0m3 0h0m3 0h0m8 0h0m2 0h0m0.5 0h0m-69.5 0.5h0m1.5 0h0m8.5 0h0m4.5 0h0m1 0h0m2 0h0m1.5 0h0m1.5 0h0m0.5 0h0m11.5 0h0m17 0h0m1 0h0m0.5 0h0m4 0h0m2.5 0h0m2 0h0m1 0h0m1.5 0h0m5 0h0m3.5 0h0m5.5 0h0m-83 0.5h0m9.5 0h0m6 0h0m1.5 0h0m1 0h0m1.5 0h0m14.5 0h0m2 0h0m10 0h0m9.5 0h0m0.5 0h0m3 0h0m1 0h0m0.5 0h0m6 0h0m4 0h0m8 0h0m-71.5 0.5h0m1 0h0m4 0h0m1 0h0m1.5 0h0m3 0h0m3.5 0h0m1 0h0m1 0h0m18 0h0m10 0h0m3.5 0h0m2 0h0m1 0h0m1 0h0m1.5 0h0m2 0h0m3 0h0m2.5 0h0m4.5 0h0m17 0h0m-89 0.5h0m6.5 0h0m3 0h0m1.5 0h0m1 0h0m0.5 0h0m9.5 0h0m0.5 0h0m11.5 0h0m1.5 0h0m4.5 0h0m19 0h0m0.5 0h0m0.5 0h0m1.5 0h0m2.5 0h0m0.5 0h0m0.5 0h0m8.5 0h0m0.5 0h0m3 0h0m2.5 0h0m-72.5 0.5h0m0.5 0h0m2.5 0h0m1 0h0m6 0h0m1 0h0m6.5 0h0m1 0h0m0.5 0h0m4.5 0h0m22.5 0h0m1.5 0h0m6 0h0m1.5 0h0m3.5 0h0m0.5 0h0m4.5 0h0m1.5 0h0m7 0h0m16.5 0h0m-96 0.5h0m0.5 0h0m14 0h0m1 0h0m2.5 0h0m3.5 0h0m0.5 0h0m2 0h0m3 0h0m17.5 0h0m11.5 0h0m1 0h0m1.5 0h0m1 0h0m1.5 0h0m1 0h0m0.5 0h0m0.5 0h0m3 0h0m1 0h0m3 0h0m-62 0.5h0m11 0h0m1.5 0h0m8.5 0h0m16.5 0h0m12 0h0m0.5 0h0m1 0h0m5 0h0m1 0h0m1 0h0m1 0h0m2 0h0m2.5 0h0m-80.5 0.5h0m14 0h0m1.5 0h0m0.5 0h0m0.5 0h0m1.5 0h0m4 0h0m3.5 0h0m1.5 0h0m1.5 0h0m0.5 0h0m3 0h0m6 0h0m17.5 0h0m6 0h0m2.5 0h0m2.5 0h0m0.5 0h0m1 0h0m1 0h0m0.5 0h0m0.5 0h0m1.5 0h0m0.5 0h0m2 0h0m3.5 0h0m4 0h0m0.5 0h0m5.5 0h0m2 0h0m-82 0.5h0m23.5 0h0m1.5 0h0m0.5 0h0m17 0h0m7.5 0h0m1.5 0h0m6.5 0h0m2.5 0h0m2.5 0h0m2 0h0m0.5 0h0m1.5 0h0m1 0h0m2 0h0m4 0h0m1.5 0h0m1 0h0m-69 0.5h0m0.5 0h0m5 0h0m4 0h0m4.5 0h0m0.5 0h0m0.5 0h0m4.5 0h0m5.5 0h0m2.5 0h0m22 0h0m3.5 0h0m1 0h0m2 0h0m3 0h0m1.5 0h0m1 0h0m-66.5 0.5h0m1.5 0h0m5.5 0h0m2 0h0m8 0h0m0.5 0h0m1 0h0m2.5 0h0m3 0h0m1 0h0m3.5 0h0m25.5 0h0m0.5 0h0m2 0h0m1.5 0h0m1.5 0h0m1.5 0h0m1.5 0h0m1.5 0h0m0.5 0h0m1.5 0h0m2.5 0h0m0.5 0h0m9.5 0h0m-86 0.5h0m12 0h0m2 0h0m3.5 0h0m6.5 0h0m3 0h0m5 0h0m1 0h0m5 0h0m3 0h0m18.5 0h0m2.5 0h0m1.5 0h0m0.5 0h0m0.5 0h0m0.5 0h0m0.5 0h0m0.5 0h0m0.5 0h0m1.5 0h0m2 0h0m0.5 0h0m1 0h0m2 0h0m2 0h0m0.5 0h0m1.5 0h0m4 0h0m1 0h0m-75.5 0.5h0m1.5 0h0m6 0h0m5.5 0h0m7 0h0m0.5 0h0m7 0h0m1 0h0m5 0h0m5 0h0m4 0h0m10.5 0h0m4 0h0m2 0h0m1 0h0m1 0h0m2.5 0h0m0.5 0h0m1 0h0m2 0h0m1.5 0h0m0.5 0h0m2 0h0m5 0h0m-78 0.5h0m2.5 0h0m4 0h0m1 0h0m4 0h0m0.5 0h0m4.5 0h0m1 0h0m6 0h0m1.5 0h0m2.5 0h0m1 0h0m25.5 0h0m6 0h0m3.5 0h0m0.5 0h0m1 0h0m2 0h0m7.5 0h0m2 0h0m0.5 0h0m1 0h0m-81.5 0.5h0m3.5 0h0m6.5 0h0m3 0h0m10 0h0m3.5 0h0m3 0h0m1 0h0m7 0h0m20 0h0m2.5 0h0m4 0h0m0.5 0h0m1 0h0m1 0h0m1 0h0m0.5 0h0m0.5 0h0m2 0h0m2 0h0m1.5 0h0m1 0h0m2 0h0m2 0h0m1 0h0m2.5 0h0m-85.5 0.5h0m2 0h0m14.5 0h0m2.5 0h0m1 0h0m0.5 0h0m0.5 0h0m3 0h0m0.5 0h0m5.5 0h0m0.5 0h0m0.5 0h0m5.5 0h0m1 0h0m14 0h0m18.5 0h0m2.5 0h0m1 0h0m1 0h0m0.5 0h0m2.5 0h0m1.5 0h0m1.5 0h0m-66.5 0.5h0m0.5 0h0m3 0h0m2 0h0m5 0h0m1 0h0m2 0h0m5.5 0h0m6 0h0m6 0h0m1.5 0h0m10 0h0m2 0h0m0.5 0h0m6.5 0h0m0.5 0h0m1 0h0m1 0h0m1.5 0h0m0.5 0h0m0.5 0h0m1.5 0h0m1.5 0h0m1 0h0m1 0h0m1.5 0h0m2.5 0h0m-69.5 0.5h0m9.5 0h0m4 0h0m3 0h0m0.5 0h0m1 0h0m1.5 0h0m11 0h0m17.5 0h0m1.5 0h0m3 0h0m4 0h0m2 0h0m2.5 0h0m3 0h0m2 0h0m3 0h0m1.5 0h0m1 0h0m5.5 0h0m-80.5 0.5h0m10 0h0m3.5 0h0m11 0h0m2 0h0m8 0h0m3 0h0m16.5 0h0m2 0h0m2.5 0h0m0.5 0h0m2 0h0m3.5 0h0m0.5 0h0m1 0h0m0.5 0h0m2 0h0m2 0h0m1 0h0m6 0h0m2 0h0m4.5 0h0m-85 0.5h0m3 0h0m4.5 0h0m4 0h0m2 0h0m1 0h0m0.5 0h0m1.5 0h0m0.5 0h0m3 0h0m3.5 0h0m8 0h0m4 0h0m11.5 0h0m8 0h0m3 0h0m1 0h0m2.5 0h0m2.5 0h0m2.5 0h0m3 0h0m5 0h0m1 0h0m1 0h0m1 0h0m-72.5 0.5h0m7.5 0h0m1 0h0m0.5 0h0m2 0h0m3 0h0m0.5 0h0m1 0h0m9.5 0h0m1 0h0m3.5 0h0m8.5 0h0m13.5 0h0m2 0h0m2 0h0m1.5 0h0m3.5 0h0m1 0h0m2.5 0h0m0.5 0h0m0.5 0h0m1 0h0m2 0h0m2 0h0m1 0h0m-77 0.5h0m3.5 0h0m5.5 0h0m1.5 0h0m10 0h0m1 0h0m4.5 0h0m0.5 0h0m1 0h0m6.5 0h0m7.5 0h0m16.5 0h0m3 0h0m1.5 0h0m1 0h0m0.5 0h0m0.5 0h0m5 0h0m0.5 0h0m1 0h0m1.5 0h0m-75 0.5h0m4.5 0h0m13.5 0h0m1.5 0h0m2 0h0m8 0h0m1 0h0m3.5 0h0m0.5 0h0m0.5 0h0m2 0h0m1.5 0h0m21.5 0h0m1 0h0m0.5 0h0m1 0h0m1.5 0h0m2.5 0h0m1 0h0m3 0h0m0.5 0h0m1.5 0h0m12 0h0m4 0h0m-94.5 0.5h0m19 0h0m3 0h0m3.5 0h0m5 0h0m1 0h0m2 0h0m1 0h0m3 0h0m3 0h0m1.5 0h0m4 0h0m17 0h0m4 0h0m2.5 0h0m3 0h0m1.5 0h0m1 0h0m2 0h0m0.5 0h0m4 0h0m4.5 0h0m-71.5 0.5h0m3 0h0m4 0h0m3.5 0h0m1.5 0h0m4 0h0m5.5 0h0m3 0h0m0.5 0h0m8.5 0h0m3.5 0h0m9 0h0m2 0h0m0.5 0h0m2 0h0m1 0h0m5 0h0m5 0h0m0.5 0h0m3 0h0m1 0h0m1 0h0m0.5 0h0m-67.5 0.5h0m10.5 0h0m1 0h0m3 0h0m6 0h0m2 0h0m1 0h0m2.5 0h0m13 0h0m8.5 0h0m1 0h0m2.5 0h0m1 0h0m7.5 0h0m2.5 0h0m0.5 0h0m0.5 0h0m0.5 0h0m2 0h0m0.5 0h0m0.5 0h0m0.5 0h0m3 0h0m-73 0.5h0m10 0h0m4 0h0m1 0h0m2 0h0m9.5 0h0m27 0h0m6 0h0m2.5 0h0m1.5 0h0m0.5 0h0m0.5 0h0m0.5 0h0m0.5 0h0m2 0h0m2 0h0m1.5 0h0m-91 0.5h0m20.5 0h0m9 0h0m2 0h0m5.5 0h0m1 0h0m1 0h0m1 0h0m2 0h0m3.5 0h0m1 0h0m2 0h0m4 0h0m0.5 0h0m17.5 0h0m4 0h0m2.5 0h0m0.5 0h0m3.5 0h0m2 0h0m0.5 0h0m0.5 0h0m0.5 0h0m10 0h0m0.5 0h0m1 0h0m0.5 0h0m3.5 0h0m-81.5 0.5h0m1.5 0h0m12 0h0m0.5 0h0m3.5 0h0m3 0h0m4.5 0h0m3.5 0h0m18 0h0m12 0h0m1 0h0m0.5 0h0m1 0h0m3.5 0h0m2.5 0h0m0.5 0h0m0.5 0h0m0.5 0h0m1.5 0h0m1 0h0m1 0h0m1.5 0h0m1.5 0h0m-75.5 0.5h0m1 0h0m1.5 0h0m8.5 0h0m3 0h0m7 0h0m5 0h0m1.5 0h0m5 0h0m3 0h0m10.5 0h0m10 0h0m1 0h0m0.5 0h0m2.5 0h0m2.5 0h0m2.5 0h0m0.5 0h0m1 0h0m0.5 0h0m2.5 0h0m5 0h0m3 0h0m1 0h0m0.5 0h0m-73 0.5h0m3.5 0h0m0.5 0h0m0.5 0h0m6.5 0h0m2 0h0m7.5 0h0m4.5 0h0m5.5 0h0m3.5 0h0m13 0h0m0.5 0h0m7 0h0m1 0h0m0.5 0h0m1.5 0h0m1.5 0h0m1 0h0m0.5 0h0m0.5 0h0m1 0h0m1.5 0h0m3 0h0m-65.5 0.5h0m5 0h0m2 0h0m5 0h0m2 0h0m3.5 0h0m4 0h0m2 0h0m22.5 0h0m2 0h0m3 0h0m3.5 0h0m5.5 0h0m2 0h0m1 0h0m3 0h0m1 0h0m-67 0.5h0m7 0h0m4.5 0h0m0.5 0h0m2 0h0m7.5 0h0m4.5 0h0m3 0h0m17.5 0h0m0.5 0h0m1 0h0m1 0h0m4 0h0m2 0h0m2.5 0h0m2 0h0m0.5 0h0m5.5 0h0m-66 0.5h0m6.5 0h0m4.5 0h0m5 0h0m4.5 0h0m3 0h0m4 0h0m2.5 0h0m12 0h0m1 0h0m5.5 0h0m2 0h0m6 0h0m1.5 0h0m1 0h0m0.5 0h0m1.5 0h0m0.5 0h0m3 0h0m2 0h0m3 0h0m0.5 0h0m-79 0.5h0m9.5 0h0m19.5 0h0m3.5 0h0m3 0h0m8 0h0m9.5 0h0m7.5 0h0m1 0h0m4 0h0m1 0h0m0.5 0h0m0.5 0h0m1.5 0h0m2 0h0m0.5 0h0m1.5 0h0m1.5 0h0m2.5 0h0m5.5 0h0m0.5 0h0m8.5 0h0m-89.5 0.5h0m7 0h0m2 0h0m5 0h0m6 0h0m2 0h0m9.5 0h0m22 0h0m2.5 0h0m9 0h0m0.5 0h0m1.5 0h0m0.5 0h0m0.5 0h0m3 0h0m1 0h0m11.5 0h0m-104.5 0.5h0m21 0h0m7.5 0h0m4.5 0h0m5.5 0h0m6 0h0m0.5 0h0m3.5 0h0m31.5 0h0m1 0h0m2 0h0m0.5 0h0m3.5 0h0m0.5 0h0m0.5 0h0m1 0h0m1 0h0m4 0h0m3 0h0m7.5 0h0m-87 0.5h0m3 0h0m2 0h0m2 0h0m2 0h0m5 0h0m4.5 0h0m2 0h0m2 0h0m8 0h0m1 0h0m13 0h0m8.5 0h0m13.5 0h0m1.5 0h0m0.5 0h0m1 0h0m0.5 0h0m8 0h0m1 0h0m-76 0.5h0m4.5 0h0m0.5 0h0m4 0h0m2 0h0m4.5 0h0m6 0h0m6.5 0h0m4 0h0m20 0h0m2.5 0h0m11.5 0h0m0.5 0h0m1 0h0m1 0h0m1.5 0h0m0.5 0h0m30.5 0h0m-102.5 0.5h0m2.5 0h0m18 0h0m2.5 0h0m5.5 0h0m2.5 0h0m6 0h0m21.5 0h0m1.5 0h0m1.5 0h0m1.5 0h0m1.5 0h0m2.5 0h0m0.5 0h0m1 0h0m3 0h0m2 0h0m3.5 0h0m4.5 0h0m-62 0.5h0m1.5 0h0m18 0h0m3 0h0m12.5 0h0m4.5 0h0m4.5 0h0m0.5 0h0m0.5 0h0m1 0h0m1.5 0h0m0.5 0h0m1.5 0h0m0.5 0h0m0.5 0h0m1 0h0m4.5 0h0m4 0h0m0.5 0h0m9 0h0m-90 0.5h0m6.5 0h0m1.5 0h0m2 0h0m34 0h0m12.5 0h0m4.5 0h0m2.5 0h0m0.5 0h0m4 0h0m1 0h0m1.5 0h0m1 0h0m2.5 0h0m3.5 0h0m10 0h0m-84.5 0.5h0m5 0h0m4 0h0m3 0h0m2.5 0h0m1 0h0m22 0h0m1 0h0m18.5 0h0m3 0h0m1 0h0m0.5 0h0m1 0h0m4 0h0m1 0h0m0.5 0h0m1 0h0m9 0h0m0.5 0h0m2.5 0h0m5 0h0m-82 0.5h0m0.5 0h0m9 0h0m5 0h0m18 0h0m1 0h0m17.5 0h0m1.5 0h0m2 0h0m2 0h0m0.5 0h0m5 0h0m0.5 0h0m0.5 0h0m1 0h0m7.5 0h0m-90 0.5h0m26 0h0m1 0h0m2.5 0h0m3.5 0h0m4.5 0h0m1 0h0m3 0h0m3.5 0h0m2.5 0h0m1.5 0h0m23.5 0h0m3.5 0h0m1 0h0m4.5 0h0m0.5 0h0m5 0h0m-86.5 0.5h0m3 0h0m6 0h0m10 0h0m7.5 0h0m4 0h0m6 0h0m2.5 0h0m1.5 0h0m5.5 0h0m8.5 0h0m1 0h0m14 0h0m3 0h0m0.5 0h0m4 0h0m0.5 0h0m2.5 0h0m1.5 0h0m2.5 0h0m3 0h0m0.5 0h0m0.5 0h0m-57.5 0.5h0m6.5 0h0m4.5 0h0m0.5 0h0m2.5 0h0m5 0h0m13 0h0m5 0h0m5.5 0h0m3.5 0h0m1 0h0m2 0h0m-72.5 0.5h0m7 0h0m2 0h0m0.5 0h0m6 0h0m6 0h0m7 0h0m7 0h0m5.5 0h0m16.5 0h0m8.5 0h0m2.5 0h0m2 0h0m3 0h0m9 0h0m2 0h0m-84 0.5h0m3.5 0h0m7.5 0h0m1.5 0h0m2 0h0m1 0h0m16 0h0m5 0h0m29 0h0m1 0h0m8 0h0m0.5 0h0m2 0h0m-96.5 0.5h0m12.5 0h0m8 0h0m4 0h0m6 0h0m4 0h0m5 0h0m44 0h0m0.5 0h0m0.5 0h0m0.5 0h0m1.5 0h0m1.5 0h0m3.5 0h0m6 0h0m1 0h0m1 0h0m0.5 0h0m2 0h0m8.5 0h0m-87 0.5h0m1.5 0h0m0.5 0h0m4 0h0m12.5 0h0m2.5 0h0m1 0h0m1 0h0m11.5 0h0m27.5 0h0m3.5 0h0m0.5 0h0m1.5 0h0m2.5 0h0m-65.5 0.5h0m5 0h0m3.5 0h0m13 0h0m6.5 0h0m5.5 0h0m13 0h0m3.5 0h0m1.5 0h0m0.5 0h0m0.5 0h0m6.5 0h0m1.5 0h0m1 0h0m1.5 0h0m2 0h0m4.5 0h0m1 0h0m2.5 0h0m-79 0.5h0m9.5 0h0m2 0h0m12.5 0h0m8 0h0m1.5 0h0m15 0h0m10.5 0h0m0.5 0h0m0.5 0h0m3 0h0m5 0h0m6 0h0m3 0h0m9.5 0h0m-86 0.5h0m5.5 0h0m14 0h0m38 0h0m2 0h0m6 0h0m2.5 0h0m2.5 0h0m4 0h0m-77.5 0.5h0m9 0h0m9.5 0h0m16 0h0m0.5 0h0m27.5 0h0m4 0h0m6.5 0h0m3 0h0m1 0h0m1 0h0m3 0h0m0.5 0h0m3.5 0h0m-77.5 0.5h0m2 0h0m10 0h0m9 0h0m12.5 0h0m23 0h0m2 0h0m0.5 0h0m1.5 0h0m9.5 0h0m-67 0.5h0m6 0h0m6 0h0m11.5 0h0m31.5 0h0m1.5 0h0m1.5 0h0m10 0h0m3.5 0h0m-78 0.5h0m4 0h0m5 0h0m4.5 0h0m5.5 0h0m1 0h0m1.5 0h0m0.5 0h0m3 0h0m0.5 0h0m36 0h0m4 0h0m7 0h0m6.5 0h0m-79 0.5h0m0.5 0h0m9 0h0m7 0h0m1.5 0h0m1 0h0m10 0h0m31.5 0h0m8 0h0m1 0h0m0.5 0h0m3 0h0m-87.5 0.5h0m4 0h0m13 0h0m2 0h0m10.5 0h0m45.5 0h0m4.5 0h0m0.5 0h0m16 0h0m5.5 0h0m-94 0.5h0m12.5 0h0m12.5 0h0m2.5 0h0m2 0h0m2 0h0m2 0h0m2 0h0m0.5 0h0m7 0h0m29 0h0m1.5 0h0m-77 0.5h0m6.5 0h0m5 0h0m17.5 0h0m6 0h0m2.5 0h0m30 0h0m2.5 0h0m3 0h0m3.5 0h0m11 0h0m-86.5 0.5h0m15.5 0h0m7.5 0h0m48.5 0h0m3.5 0h0m0.5 0h0m4.5 0h0m4.5 0h0m9.5 0h0m18.5 0h0m-105.5 0.5h0m24 0h0m0.5 0h0m4 0h0m24.5 0h0m12 0h0m11 0h0m7 0h0m2 0h0m-91 0.5h0m18.5 0h0m1.5 0h0m10.5 0h0m6.5 0h0m34.5 0h0m6.5 0h0m1.5 0h0m2 0h0m-80.5 0.5h0m28.5 0h0m6.5 0h0m16.5 0h0m8.5 0h0m10 0h0m2 0h0m1.5 0h0m3 0h0m-67.5 0.5h0m11 0h0m1 0h0m6.5 0h0m1 0h0m15 0h0m17 0h0m5 0h0m3.5 0h0m3 0h0m11.5 0h0m-90 0.5h0m20 0h0m57.5 0h0m5.5 0h0m2 0h0m2 0h0m-75 0.5h0m23 0h0m35 0h0m15.5 0h0m-75.5 0.5h0m32.5 0h0m33.5 0h0m5.5 0h0m-65.5 0.5h0m3 0h0m46.5 0h0m6.5 0h0m10 0h0m1 0h0m3.5 0h0m6 0h0m-83 0.5h0m6 0h0m48.5 0h0m0.5 0h0m16.5 0h0m5 0h0m11 0h0m-79.5 0.5h0m43.5 0h0m21.5 0h0m8.5 0h0m-91.5 0.5h0m35 0h0m8.5 0h0m17.5 0h0m1.5 0h0m24.5 0h0m-66 0.5h0m1.5 0h0m35.5 0h0m11.5 0h0m6.5 0h0m14 0h0m3.5 0h0m-83.5 0.5h0m10.5 0h0m11 0h0m24.5 0h0m1 0h0m36 0h0m-90 0.5h0m8 0h0m21.5 0h0m41 0h0m8 0h0m2 0h0m6 0h0m4 0h0m-80 0.5h0m4 0h0m23 0h0m25.5 0h0m7 0h0m4 0h0m5.5 0h0m6.5 0h0m12.5 0h0m-95.5 0.5h0m1 0h0m65 0h0m1 0h0m2 0h0m4.5 0h0m-74 0.5h0m10 0h0m12 0h0m4.5 0h0m51.5 0h0m0.5 0h0m2 0h0m2 0h0m5 0h0m9.5 0h0m-52.5 0.5h0m1 0h0m14.5 0h0m10 0h0m10 0h0m1 0h0m3.5 0h0m25.5 0h0m-100 0.5h0m17 0h0m38.5 0h0m4 0h0m14.5 0h0m-74 0.5h0m63.5 0h0m1.5 0h0m1 0h0m5 0h0m-88 0.5h0m39.5 0h0m21.5 0h0m1.5 0h0m11 0h0m17 0h0m-88 0.5h0m10 0h0m6 0h0m39 0h0m15 0h0m12.5 0h0m7.5 0h0m3 0h0m-89.5 0.5h0m2.5 0h0m28 0h0m34 0h0m2 0h0m1 0h0m15 0h0m4 0h0m-69.5 0.5h0m55.5 0h0m0.5 0h0m8.5 0h0m-80 0.5h0m25 0h0m13.5 0h0m31 0h0m-18 0.5h0m1 0h0m5.5 0h0m20 0h0m21.5 0h0m8 0h0m-98 0.5h0m18 0h0m43 0h0m-11.5 0.5h0m23.5 0h0m2 0h0m2.5 0h0m13 0h0m-114 0.5h0m17.5 0h0m73.5 0h0m3 0h0m-90 0.5h0m35.5 0h0m16 0h0m2.5 0h0m40 0h0m-40 0.5h0m17 0h0m12 0h0m3.5 0h0m1.5 0h0m2.5 0h0m31 0h0m-94.5 0.5h0m28.5 0h0m11 0.5h0m12.5 0h0m-78.5 0.5h0m78.5 0h0m16.5 0h0m15.5 0h0m-41.5 0.5h0m18.5 0h0m0.5 0h0m12.5 0h0m2.5 0h0m-40.5 0.5h0m5.5 0h0m46 0h0m-106.5 0.5h0m0.5 0h0m75 0h0m3 0h0m10.5 0h0m-69.5 0.5h0m40.5 0h0m13 0h0m4 0h0m-11 0.5h0m-21.5 0.5h0m52 0h0m-38 0.5h0m20 0h0m3.5 0h0m-36.5 0.5h0m25.5 0.5h0m9.5 0.5h0m-17 0.5h0m0.5 0h0m8 0h0m-17.5 1.5h0m5.5 0h0m5 0h0m17 0h0m7.5 0.5h0m-53.5 0.5h0m13 0h0m16.5 0h0m4 0h0m6.5 0h0m11 0h0m-5 0.5h0m4.5 0h0m2.5 0h0m-29.5 0.5h0m4 0h0m11 0h0m16 0h0m-14.5 0.5h0m-76.5 0.5h0m72.5 0h0m8.5 1.5h0m-29.5 0.5h0m33 0.5h0m-42.5 0.5h0m18.5 0h0m12.5 0h0m3 0h0m1.5 0h0m1 0h0m3 0h0m2.5 0h0m3.5 0h0m3.5 0h0m-29 0.5h0m7 0h0m1.5 0h0m1.5 0h0m1.5 0h0m6 0h0m13.5 0h0"/>
</g>
<g id="panel5">
<path d="M105.4 485.8V647.3" stroke="#747474" stroke-width="1" fill="none"/>
<path d="M31.5 591.5H191" stroke="#8c8c8c" stroke-width="1.2" fill="none"/>
<path d="M43.59 647.3v3.2M31.5 635.21h-3.2M50.66 647.3v3.2M31.5 628.14h-3.2M55.67 647.3v3.2M31.5 623.13h-3.2M59.56 647.3v3.2M31.5 619.24h-3.2M62.74 647.3v3.2M31.5 616.06h-3.2M65.43 647.3v3.2M31.5 613.37h-3.2M67.76 647.3v3.2M31.5 611.04h-3.2M69.81 647.3v3.2M31.5 608.99h-3.2M83.74 647.3v3.2M31.5 595.06h-3.2M90.81 647.3v3.2M31.5 587.99h-3.2M95.82 647.3v3.2M31.5 582.98h-3.2M99.71 647.3v3.2M31.5 579.09h-3.2M102.89 647.3v3.2M31.5 575.91h-3.2M105.58 647.3v3.2M31.5 573.22h-3.2M107.91 647.3v3.2M31.5 570.89h-3.2M109.96 647.3v3.2M31.5 568.84h-3.2M123.89 647.3v3.2M31.5 554.91h-3.2M130.96 647.3v3.2M31.5 547.84h-3.2M135.97 647.3v3.2M31.5 542.83h-3.2M139.86 647.3v3.2M31.5 538.94h-3.2M143.04 647.3v3.2M31.5 535.76h-3.2M145.73 647.3v3.2M31.5 533.07h-3.2M148.06 647.3v3.2M31.5 530.74h-3.2M150.11 647.3v3.2M31.5 528.69h-3.2M164.04 647.3v3.2M31.5 514.76h-3.2M171.11 647.3v3.2M31.5 507.69h-3.2M176.12 647.3v3.2M31.5 502.68h-3.2M180.01 647.3v3.2M31.5 498.79h-3.2M183.19 647.3v3.2M31.5 495.61h-3.2M185.88 647.3v3.2M31.5 492.92h-3.2M188.21 647.3v3.2M31.5 490.59h-3.2M190.26 647.3v3.2M31.5 488.54h-3.2" stroke="#808080" stroke-width="1" fill="none"/>
<path d="M71.65 647.3v5.6M31.5 607.15h-6M111.8 647.3v5.6M31.5 567h-6M151.95 647.3v5.6M31.5 526.85h-6M192.1 647.3v5.6M31.5 486.7h-6" stroke="#707070" stroke-width="1" fill="none"/>
<path d="M25.5 647.3H192.6M31.5 653.6V486.2" stroke="#686868" stroke-width="1" fill="none"/>
<text class="tk" x="68.35" y="662.5" text-anchor="end">10</text><text class="ex" x="68.55" y="661.1">1</text>
<g transform="translate(21.6 607.15) rotate(-90)"><text class="tk" x="-3.3" text-anchor="end">10</text><text class="ex" x="-3.1" y="-0.5">1</text></g>
<text class="tk" x="108.5" y="662.5" text-anchor="end">10</text><text class="ex" x="108.7" y="661.1">2</text>
<g transform="translate(21.6 567) rotate(-90)"><text class="tk" x="-3.3" text-anchor="end">10</text><text class="ex" x="-3.1" y="-0.5">2</text></g>
<text class="tk" x="148.65" y="662.5" text-anchor="end">10</text><text class="ex" x="148.85" y="661.1">3</text>
<g transform="translate(21.6 526.85) rotate(-90)"><text class="tk" x="-3.3" text-anchor="end">10</text><text class="ex" x="-3.1" y="-0.5">3</text></g>
<text class="tk" x="188.8" y="662.5" text-anchor="end">10</text><text class="ex" x="189" y="661.1">4</text>
<g transform="translate(21.6 486.7) rotate(-90)"><text class="tk" x="-3.3" text-anchor="end">10</text><text class="ex" x="-3.1" y="-0.5">4</text></g>
<text class="q" x="36.3" y="490.9">1</text>
<text class="q" x="194" y="499.4">2</text>
<text class="q" x="34.5" y="643.8">3</text>
<text class="q" x="189" y="641.4">4</text>
<text class="ti" x="114.6" y="476" textLength="121.3" lengthAdjust="spacing">WEEK 3 - CONTROL</text>
<text class="ax" x="103.9" y="675.9">LIN</text>
<text class="sc" transform="translate(10.6 567) rotate(-90)" text-anchor="middle" textLength="26.4" lengthAdjust="spacing">Sca-1</text>
<text class="st sp" x="220.2" y="545.75">%Gate</text>
<text class="st rl" x="193" y="558.4">R1</text>
<text class="st sp" x="219.8" y="558.4">0.39</text>
<text class="st rl" x="193" y="570.5">R2</text>
<text class="st sp" x="219.8" y="570.5">12.96</text>
<text class="st rl" x="193" y="583.4">R3</text>
<text class="st sp" x="219.8" y="583.4">0.61</text>
<text class="st rl" x="193" y="595.9">R4</text>
<text class="st sp" x="219.8" y="595.9">86.04</text>
<path d="M138.3 612.5 138.05 616.73 137.31 620.74 136.12 624.35 134.53 627.35 132.64 629.62 130.53 631.02 128.3 631.5 126.07 631.02 123.96 629.62 122.07 627.35 120.48 624.35 119.29 620.74 118.55 616.73 118.3 612.5 118.55 608.27 119.29 604.26 120.48 600.65 122.07 597.65 123.96 595.38 126.07 593.98 128.3 593.5 130.53 593.98 132.64 595.38 134.53 597.65 136.12 600.65 137.31 604.26 138.05 608.27 Z" fill="#000" stroke="#000" stroke-width="1" stroke-linejoin="round"/>
<path class="d" d="M0 0m130.5 488h0m-10 26.5h0m15.5 0.5h0m-13 3h0m6.5 0h0m4.5 1h0m-9 1.5h0m5.5 2.5h0m-16.5 1h0m15 1h0m6.5 2h0m-0.5 2h0m-2.5 1.5h0m-5.5 1h0m-12 2.5h0m17.5 0h0m21.5 3h0m-24.5 1h0m2 0h0m4 0h0m-13 1h0m7.5 1.5h0m-4.5 1h0m11.5 0.5h0m2.5 0.5h0m-13.5 0.5h0m5 0h0m3 0h0m-29 1.5h0m17.5 0h0m15.5 0.5h0m-10 0.5h0m18 1.5h0m-20.5 0.5h0m-58 2.5h0m31.5 0h0m32.5 2h0m25.5 0h0m-20.5 0.5h0m28 0.5h0m-70.5 0.5h0m42.5 0h0m0.5 0h0m-9.5 0.5h0m-49.5 0.5h0m52 0h0m-9 0.5h0m8 0h0m3.5 0h0m1 0h0m-4 0.5h0m6.5 1h0m6.5 0h0m14.5 0h0m-24 0.5h0m0.5 0h0m-20 0.5h0m20 0h0m-9 0.5h0m4.5 0h0m1 0h0m1.5 0h0m8.5 0h0m7 0h0m0.5 0h0m-24 0.5h0m8 0h0m13 0h0m-6.5 0.5h0m0.5 0.5h0m-21 0.5h0m7 0h0m-29.5 0.5h0m8.5 0h0m33.5 0h0m11.5 0h0m-20 0.5h0m1 0h0m0.5 0h0m1 0h0m3 0h0m11 0h0m-31 0.5h0m6.5 0h0m2 0h0m3 0h0m9.5 0h0m20 0.5h0m-44 0.5h0m16.5 0h0m0.5 0h0m10.5 0h0m-20 0.5h0m21 0h0m-21.5 0.5h0m8.5 0h0m12.5 0h0m-46 0.5h0m39 0h0m-8 0.5h0m37.5 0h0m-72.5 0.5h0m38.5 0h0m6 0h0m18 0h0m-30.5 0.5h0m19 0h0m-40 0.5h0m41 0h0m2 0h0m-7.5 0.5h0m-15.5 0.5h0m3.5 0h0m-34.5 0.5h0m21 0h0m10.5 0h0m3 0h0m9 0h0m-25 0.5h0m14 0h0m5 0h0m12 0h0m0.5 0h0m9 0h0m-23 0.5h0m9.5 0h0m13 0h0m-14.5 0.5h0m6 0h0m-46.5 0.5h0m45.5 0h0m5.5 0h0m-32 0.5h0m8.5 0h0m4.5 0h0m3.5 0h0m6.5 0h0m29 0h0m-32 0.5h0m1 0h0m-10.5 0.5h0m5 0h0m2.5 0h0m3.5 0h0m1.5 0h0m9.5 0h0m-31.5 0.5h0m7 0h0m4 0h0m1 0h0m1.5 0h0m0.5 0h0m8.5 0h0m2.5 0h0m7.5 0h0m7.5 0h0m-28.5 0.5h0m3.5 0h0m17 0h0m5 0h0m-16.5 0.5h0m0.5 0h0m1 0h0m-12.5 0.5h0m1.5 0h0m3.5 0h0m22 0h0m-32 0.5h0m5.5 0h0m5 0h0m18.5 0h0m0.5 0h0m-23.5 0.5h0m4 0h0m4.5 0h0m1.5 0h0m8.5 0h0m6.5 0h0m-20 0.5h0m13.5 0h0m3 0h0m-32 0.5h0m13 0h0m4.5 0h0m10.5 0h0m-28 0.5h0m8.5 0h0m3.5 0h0m2 0h0m2 0h0m7 0h0m-51.5 0.5h0m30.5 0h0m9 0h0m1.5 0h0m1.5 0h0m2.5 0h0m0.5 0h0m0.5 0h0m5 0h0m3.5 0h0m1.5 0h0m-23.5 0.5h0m4 0h0m4.5 0h0m2.5 0h0m6.5 0h0m2.5 0h0m4 0h0m-20 0.5h0m5.5 0h0m1 0h0m0.5 0h0m1 0h0m0.5 0h0m0.5 0h0m12.5 0h0m-87 0.5h0m63.5 0h0m6 0h0m1 0h0m1 0h0m4 0h0m2.5 0h0m2 0h0m1 0h0m4 0h0m2.5 0h0m0.5 0h0m6 0h0m-24.5 0.5h0m5.5 0h0m8.5 0h0m0.5 0h0m5.5 0h0m-22.5 0.5h0m1.5 0h0m1.5 0h0m3.5 0h0m5 0h0m3 0h0m1.5 0h0m12.5 0h0m-31 0.5h0m2 0h0m8.5 0h0m5 0h0m2 0h0m0.5 0h0m3 0h0m7.5 0h0m7 0h0m-75 0.5h0m10.5 0h0m31 0h0m0.5 0h0m0.5 0h0m2 0h0m0.5 0h0m1.5 0h0m2 0h0m1.5 0h0m17.5 0h0m-72 0.5h0m35.5 0h0m6.5 0h0m7 0h0m1 0h0m3 0h0m1 0h0m2 0h0m0.5 0h0m2 0h0m-21 0.5h0m5 0h0m0.5 0h0m1.5 0h0m2.5 0h0m1 0h0m10.5 0h0m14 0h0m-30.5 0.5h0m2 0h0m1 0h0m4 0h0m1 0h0m0.5 0h0m3 0h0m0.5 0h0m3.5 0h0m0.5 0h0m-14.5 0.5h0m8.5 0h0m3 0h0m3.5 0h0m1 0h0m25 0h0m-43.5 0.5h0m1.5 0h0m1.5 0h0m3 0h0m0.5 0h0m2 0h0m1 0h0m3 0h0m1 0h0m0.5 0h0m6 0h0m2 0h0m3 0h0m5.5 0h0m16.5 0h0m-74.5 0.5h0m32.5 0h0m1 0h0m1 0h0m1 0h0m1 0h0m1.5 0h0m1 0h0m2 0h0m1 0h0m1.5 0h0m4 0h0m1 0h0m4.5 0h0m5 0h0m0.5 0h0m-71 0.5h0m30 0h0m3 0h0m3 0h0m2 0h0m5.5 0h0m8.5 0h0m0.5 0h0m3 0h0m0.5 0h0m1 0h0m1 0h0m0.5 0h0m1.5 0h0m3 0h0m8 0h0m-42 0.5h0m13.5 0h0m2 0h0m1 0h0m0.5 0h0m1.5 0h0m1.5 0h0m0.5 0h0m0.5 0h0m0.5 0h0m1 0h0m0.5 0h0m1.5 0h0m2.5 0h0m1.5 0h0m7 0h0m0.5 0h0m4.5 0h0m-27 0.5h0m3 0h0m1 0h0m0.5 0h0m1 0h0m1 0h0m1 0h0m2.5 0h0m2.5 0h0m1.5 0h0m1 0h0m1.5 0h0m0.5 0h0m0.5 0h0m2.5 0h0m2 0h0m5 0h0m3 0h0m-40.5 0.5h0m2 0h0m6 0h0m2.5 0h0m5.5 0h0m1 0h0m0.5 0h0m1.5 0h0m1 0h0m0.5 0h0m2 0h0m1 0h0m1 0h0m-27.5 0.5h0m14.5 0h0m4.5 0h0m0.5 0h0m0.5 0h0m2 0h0m3 0h0m1 0h0m2.5 0h0m3 0h0m8 0h0m6 0h0m-50.5 0.5h0m23 0h0m1 0h0m0.5 0h0m2 0h0m1 0h0m1 0h0m4.5 0h0m1.5 0h0m4 0h0m2 0h0m3.5 0h0m2.5 0h0m-53.5 0.5h0m27 0h0m0.5 0h0m1.5 0h0m1.5 0h0m1 0h0m1.5 0h0m1 0h0m2.5 0h0m1 0h0m3 0h0m1 0h0m3 0h0m3.5 0h0m-24.5 0.5h0m1.5 0h0m7 0h0m2.5 0h0m3 0h0m1 0h0m2 0h0m0.5 0h0m1 0h0m-20 0.5h0m0.5 0h0m0.5 0h0m1.5 0h0m4 0h0m1.5 0h0m0.5 0h0m3 0h0m0.5 0h0m2 0h0m2 0h0m1 0h0m0.5 0h0m1 0h0m1.5 0h0m16 0h0m-33 0.5h0m0.5 0h0m4 0h0m3.5 0h0m1 0h0m1.5 0h0m1 0h0m2 0h0m2.5 0h0m2.5 0h0m1 0h0m0.5 0h0m3 0h0m-26.5 0.5h0m4 0h0m1.5 0h0m1 0h0m2 0h0m7.5 0h0m2 0h0m1.5 0h0m2 0h0m1.5 0h0m0.5 0h0m9.5 0h0m-27 0.5h0m2 0h0m2 0h0m1 0h0m1 0h0m0.5 0h0m0.5 0h0m2.5 0h0m2 0h0m1.5 0h0m7.5 0h0m9 0h0m-35 0.5h0m7.5 0h0m1 0h0m2.5 0h0m1.5 0h0m1 0h0m2 0h0m2 0h0m2 0h0m3 0h0m-24 0.5h0m5 0h0m4 0h0m1 0h0m1 0h0m1.5 0h0m0.5 0h0m0.5 0h0m1 0h0m2.5 0h0m1 0h0m2 0h0m0.5 0h0m1.5 0h0m0.5 0h0m1 0h0m1.5 0h0m5.5 0h0m-32 0.5h0m5 0h0m3.5 0h0m0.5 0h0m2 0h0m2 0h0m0.5 0h0m1.5 0h0m0.5 0h0m1.5 0h0m0.5 0h0m1.5 0h0m1 0h0m5.5 0h0m8 0h0m10.5 0h0m-65.5 0.5h0m15.5 0h0m3 0h0m10.5 0h0m1 0h0m1 0h0m1.5 0h0m1 0h0m0.5 0h0m3 0h0m0.5 0h0m0.5 0h0m1.5 0h0m0.5 0h0m1.5 0h0m1 0h0m1.5 0h0m1.5 0h0m2 0h0m0.5 0h0m1 0h0m4 0h0m5.5 0h0m-32 0.5h0m1 0h0m2.5 0h0m1.5 0h0m3 0h0m5 0h0m1.5 0h0m1.5 0h0m1.5 0h0m2.5 0h0m1.5 0h0m6 0h0m-27 0.5h0m2.5 0h0m1 0h0m1.5 0h0m0.5 0h0m1 0h0m1.5 0h0m0.5 0h0m0.5 0h0m3 0h0m10 0h0m32 0h0m-64.5 0.5h0m4 0h0m9.5 0h0m1 0h0m3 0h0m1 0h0m1 0h0m3.5 0h0m5 0h0m6.5 0h0m-27.5 0.5h0m6.5 0h0m1 0h0m1.5 0h0m1 0h0m1 0h0m0.5 0h0m0.5 0h0m0.5 0h0m1 0h0m5 0h0m3.5 0h0m2.5 0h0m1 0h0m11.5 0h0m-35 0.5h0m0.5 0h0m1.5 0h0m1.5 0h0m1 0h0m4.5 0h0m1.5 0h0m1.5 0h0m5.5 0h0m0.5 0h0m0.5 0h0m0.5 0h0m0.5 0h0m3 0h0m-75.5 0.5h0m44.5 0h0m5.5 0h0m5 0h0m2.5 0h0m5 0h0m0.5 0h0m1.5 0h0m0.5 0h0m0.5 0h0m4 0h0m3.5 0h0m0.5 0h0m0.5 0h0m2.5 0h0m3.5 0h0m3 0h0m-29 0.5h0m1 0h0m5.5 0h0m4 0h0m2.5 0h0m1.5 0h0m1 0h0m5 0h0m4 0h0m5.5 0h0m4.5 0h0m-55 0.5h0m16 0h0m4 0h0m2 0h0m3.5 0h0m2.5 0h0m3 0h0m2 0h0m0.5 0h0m6 0h0m10.5 0h0m-29.5 0.5h0m3.5 0h0m1.5 0h0m0.5 0h0m1 0h0m0.5 0h0m2.5 0h0m0.5 0h0m6 0h0m1.5 0h0m0.5 0h0m2 0h0m20 0h0m-43.5 0.5h0m4.5 0h0m1.5 0h0m0.5 0h0m1 0h0m1.5 0h0m2.5 0h0m6 0h0m0.5 0h0m0.5 0h0m2.5 0h0m0.5 0h0m0.5 0h0m0.5 0h0m7 0h0m1 0h0m-27 0.5h0m2 0h0m0.5 0h0m1 0h0m2.5 0h0m1 0h0m7.5 0h0m2.5 0h0m1 0h0m2.5 0h0m4.5 0h0m8 0h0m-36 0.5h0m2 0h0m2 0h0m2 0h0m3.5 0h0m9 0h0m0.5 0h0m1.5 0h0m2 0h0m1 0h0m0.5 0h0m2 0h0m-20.5 0.5h0m1.5 0h0m12 0h0m0.5 0h0m1.5 0h0m3 0h0m2 0h0m-79 0.5h0m26 0h0m25.5 0h0m1 0h0m0.5 0h0m8.5 0h0m0.5 0h0m10 0h0m1 0h0m2 0h0m0.5 0h0m0.5 0h0m1.5 0h0m1.5 0h0m0.5 0h0m-24 0.5h0m0.5 0h0m0.5 0h0m0.5 0h0m2.5 0h0m1.5 0h0m11.5 0h0m0.5 0h0m0.5 0h0m12 0h0m3.5 0h0m-37.5 0.5h0m3.5 0h0m1.5 0h0m3.5 0h0m12 0h0m4 0h0m2 0h0m1 0h0m3.5 0h0m1.5 0h0m1.5 0h0m-35 0.5h0m5 0h0m2 0h0m1 0h0m16 0h0m0.5 0h0m1 0h0m0.5 0h0m6.5 0h0m0.5 0h0m4 0h0m10.5 0h0m-46 0.5h0m1.5 0h0m1.5 0h0m0.5 0h0m3 0h0m1.5 0h0m16 0h0m2.5 0h0m5.5 0h0m13.5 0h0m-62.5 0.5h0m20.5 0h0m2 0h0m1 0h0m1 0h0m0.5 0h0m15 0h0m5 0h0m1 0h0m9 0h0m-63 0.5h0m22.5 0h0m3 0h0m21 0h0m0.5 0h0m0.5 0h0m1.5 0h0m1.5 0h0m1 0h0m0.5 0h0m18.5 0h0m4.5 0h0m-48.5 0.5h0m21.5 0h0m2 0h0m5.5 0h0m5 0h0m5.5 0h0m-40.5 0.5h0m5 0h0m0.5 0h0m16.5 0h0m2.5 0h0m1.5 0h0m0.5 0h0m1 0h0m0.5 0h0m22 0h0m-56 0.5h0m6.5 0h0m2 0h0m0.5 0h0m0.5 0h0m21 0h0m3.5 0h0m-27 0.5h0m2.5 0h0m0.5 0h0m2 0h0m16 0h0m0.5 0h0m4 0h0m0.5 0h0m3 0h0m3.5 0h0m-33 0.5h0m1 0h0m3 0h0m2 0h0m16 0h0m3.5 0h0m4.5 0h0m0.5 0h0m-38.5 0.5h0m6 0h0m5 0h0m2.5 0h0m0.5 0h0m20 0h0m0.5 0h0m1 0h0m-40 0.5h0m9.5 0h0m7 0h0m18.5 0h0m1 0h0m1.5 0h0m1.5 0h0m0.5 0h0m-68 0.5h0m33 0h0m6.5 0h0m2.5 0h0m3 0h0m0.5 0h0m17.5 0h0m3 0h0m7.5 0h0m1 0h0m0.5 0h0m10 0h0m-77 0.5h0m23.5 0h0m8.5 0h0m4 0h0m1.5 0h0m18 0h0m1 0h0m0.5 0h0m2.5 0h0m12 0h0m-97 0.5h0m60 0h0m2 0h0m18.5 0h0m0.5 0h0m1 0h0m2.5 0h0m2 0h0m1.5 0h0m4.5 0h0m-37 0.5h0m2.5 0h0m5.5 0h0m0.5 0h0m17.5 0h0m0.5 0h0m0.5 0h0m0.5 0h0m4.5 0h0m1.5 0h0m2 0h0m-34 0.5h0m2.5 0h0m1.5 0h0m20 0h0m3.5 0h0m0.5 0h0m4 0h0m-29 0.5h0m1.5 0h0m2.5 0h0m17 0h0m0.5 0h0m1.5 0h0m2 0h0m7.5 0h0m-37.5 0.5h0m7 0h0m19 0h0m0.5 0h0m3.5 0h0m1.5 0h0m3 0h0m2.5 0h0m3.5 0h0m-63 0.5h0m17.5 0h0m3.5 0h0m5 0h0m0.5 0h0m3 0h0m20 0h0m1.5 0h0m-41 0.5h0m10 0h0m4.5 0h0m27 0h0m1 0h0m1.5 0h0m2 0h0m2.5 0h0m1 0h0m-70.5 0.5h0m40.5 0h0m1 0h0m0.5 0h0m18 0h0m0.5 0h0m1 0h0m4 0h0m0.5 0h0m0.5 0h0m2.5 0h0m0.5 0h0m-35.5 0.5h0m1 0h0m4 0h0m1 0h0m1.5 0h0m19 0h0m0.5 0h0m3 0h0m4 0h0m3.5 0h0m-37.5 0.5h0m5 0h0m0.5 0h0m1 0h0m19.5 0h0m2 0h0m1.5 0h0m1.5 0h0m0.5 0h0m2.5 0h0m2.5 0h0m23 0h0m-84 0.5h0m23.5 0h0m0.5 0h0m8.5 0h0m18 0h0m0.5 0h0m1.5 0h0m2.5 0h0m2 0h0m0.5 0h0m-38.5 0.5h0m8.5 0h0m0.5 0h0m23 0h0m4.5 0h0m3 0h0m1 0h0m-56.5 0.5h0m3 0h0m11 0h0m11 0h0m1.5 0h0m21.5 0h0m12.5 0h0m-53.5 0.5h0m15 0h0m0.5 0h0m1.5 0h0m1.5 0h0m4 0h0m24.5 0h0m5.5 0h0m-81.5 0.5h0m45.5 0h0m2 0h0m0.5 0h0m22 0h0m2.5 0h0m1 0h0m6.5 0h0m0.5 0h0m0.5 0h0m-39.5 0.5h0m8.5 0h0m1 0h0m18 0h0m8 0h0m-31.5 0.5h0m1.5 0h0m4 0h0m19 0h0m1 0h0m1 0h0m0.5 0h0m2 0h0m2 0h0m1 0h0m-27.5 0.5h0m20.5 0h0m1 0h0m1.5 0h0m2 0h0m0.5 0h0m-33 0.5h0m1 0h0m5.5 0h0m2 0h0m18 0h0m0.5 0h0m0.5 0h0m0.5 0h0m0.5 0h0m1 0h0m1.5 0h0m2.5 0h0m8 0h0m-67 0.5h0m30 0h0m3 0h0m1 0h0m20 0h0m1 0h0m1 0h0m0.5 0h0m0.5 0h0m1.5 0h0m0.5 0h0m6 0h0m-72 0.5h0m60 0h0m1 0h0m0.5 0h0m1 0h0m0.5 0h0m0.5 0h0m7.5 0h0m-34 0.5h0m25 0h0m7 0h0m20.5 0h0m-57.5 0.5h0m7.5 0h0m0.5 0h0m19.5 0h0m3 0h0m2.5 0h0m5.5 0h0m23.5 0h0m-85.5 0.5h0m27 0h0m2 0h0m3 0h0m20.5 0h0m0.5 0h0m1 0h0m0.5 0h0m3.5 0h0m-35.5 0.5h0m3.5 0h0m26 0h0m0.5 0h0m2 0h0m4 0h0m2.5 0h0m-32.5 0.5h0m0.5 0h0m3 0h0m0.5 0h0m0.5 0h0m17 0h0m1.5 0h0m2.5 0h0m-29 0.5h0m1.5 0h0m3 0h0m2.5 0h0m0.5 0h0m0.5 0h0m18 0h0m0.5 0h0m0.5 0h0m4 0h0m0.5 0h0m-32.5 0.5h0m4.5 0h0m2.5 0h0m1 0h0m1.5 0h0m16.5 0h0m0.5 0h0m1.5 0h0m0.5 0h0m2 0h0m1.5 0h0m1.5 0h0m1.5 0h0m8.5 0h0m6.5 0h0m-44.5 0.5h0m0.5 0h0m1 0h0m1 0h0m18.5 0h0m3.5 0h0m2 0h0m-22.5 0.5h0m17 0h0m0.5 0h0m2 0h0m3 0h0m-25.5 0.5h0m0.5 0h0m2.5 0h0m16.5 0h0m1.5 0h0m0.5 0h0m7 0h0m3.5 0h0m-31.5 0.5h0m1 0h0m1 0h0m0.5 0h0m17.5 0h0m3.5 0h0m6 0h0m2 0h0m-34.5 0.5h0m2.5 0h0m3.5 0h0m16 0h0m0.5 0h0m0.5 0h0m1 0h0m0.5 0h0m3.5 0h0m0.5 0h0m2.5 0h0m2.5 0h0m-31.5 0.5h0m20 0h0m1 0h0m1.5 0h0m4 0h0m2 0h0m1 0h0m-37.5 0.5h0m8 0h0m3.5 0h0m18.5 0h0m1 0h0m2.5 0h0m5 0h0m5 0h0m-36 0.5h0m0.5 0h0m2 0h0m18 0h0m1 0h0m0.5 0h0m5.5 0h0m-35 0.5h0m12 0h0m18.5 0h0m0.5 0h0m4 0h0m1.5 0h0m-35.5 0.5h0m2 0h0m0.5 0h0m2 0h0m2 0h0m2 0h0m3 0h0m14.5 0h0m3 0h0m2 0h0m0.5 0h0m-28 0.5h0m22.5 0h0m1 0h0m0.5 0h0m4.5 0h0m11.5 0h0m-39 0.5h0m0.5 0h0m5.5 0h0m1 0h0m14 0h0m1.5 0h0m0.5 0h0m0.5 0h0m0.5 0h0m2.5 0h0m1 0h0m0.5 0h0m1 0h0m0.5 0h0m2 0h0m14 0h0m-50.5 0.5h0m2.5 0h0m1 0h0m7 0h0m18 0h0m2 0h0m0.5 0h0m1.5 0h0m21 0h0m-57 0.5h0m6 0h0m8.5 0h0m2 0h0m13.5 0h0m2 0h0m1.5 0h0m1 0h0m2 0h0m1 0h0m-82 0.5h0m50.5 0h0m3 0h0m5.5 0h0m17.5 0h0m2 0h0m-25.5 0.5h0m3 0h0m1.5 0h0m1 0h0m3 0h0m12 0h0m0.5 0h0m1 0h0m1.5 0h0m-21 0.5h0m5 0h0m1 0h0m1 0h0m11.5 0h0m0.5 0h0m5 0h0m-29 0.5h0m12 0h0m0.5 0h0m11.5 0h0m0.5 0h0m2 0h0m1 0h0m2 0h0m1 0h0m-22.5 0.5h0m2.5 0h0m2 0h0m9 0h0m0.5 0h0m1 0h0m3.5 0h0m1 0h0m0.5 0h0m4.5 0h0m-32 0.5h0m4.5 0h0m5 0h0m14.5 0h0m0.5 0h0m0.5 0h0m2 0h0m1 0h0m1 0h0m5 0h0m0.5 0h0m-31 0.5h0m5 0h0m0.5 0h0m0.5 0h0m0.5 0h0m3 0h0m7 0h0m0.5 0h0m2.5 0h0m0.5 0h0m0.5 0h0m1 0h0m4 0h0m1 0h0m5.5 0h0m0.5 0h0m-36.5 0.5h0m9 0h0m0.5 0h0m0.5 0h0m2.5 0h0m6.5 0h0m0.5 0h0m3.5 0h0m1 0h0m0.5 0h0m11.5 0h0m-26.5 0.5h0m4.5 0h0m2 0h0m1 0h0m0.5 0h0m1 0h0m0.5 0h0m4.5 0h0m1.5 0h0m2.5 0h0m1.5 0h0m1 0h0m3 0h0m4 0h0m-41 0.5h0m7.5 0h0m1.5 0h0m9 0h0m1.5 0h0m0.5 0h0m0.5 0h0m1 0h0m1.5 0h0m1.5 0h0m1 0h0m3 0h0m2 0h0m3 0h0m2 0h0m-22 0.5h0m1.5 0h0m4.5 0h0m0.5 0h0m1.5 0h0m0.5 0h0m1.5 0h0m1 0h0m1.5 0h0m3.5 0h0m4 0h0m2 0h0m-21.5 0.5h0m1 0h0m0.5 0h0m1 0h0m0.5 0h0m1 0h0m1 0h0m3.5 0h0m2.5 0h0m6 0h0m3.5 0h0m14.5 0h0m-38 0.5h0m2 0h0m1.5 0h0m4 0h0m4 0h0m0.5 0h0m10.5 0h0m1 0h0m0.5 0h0m-66.5 0.5h0m39 0h0m14 0h0m1.5 0h0m1.5 0h0m11 0h0m2 0h0m3 0h0m-34.5 0.5h0m4 0h0m9 0h0m1 0h0m0.5 0h0m1 0h0m1 0h0m3 0h0m1 0h0m2.5 0h0m-34.5 0.5h0m7 0h0m13 0h0m1 0h0m1 0h0m2 0h0m1 0h0m0.5 0h0m1.5 0h0m2.5 0h0m2.5 0h0m0.5 0h0m1.5 0h0m1 0h0m5.5 0h0m1 0h0m-17 0.5h0m2 0h0m0.5 0h0m1.5 0h0m1 0h0m1 0h0m1.5 0h0m1.5 0h0m8 0h0m5 0h0m-35.5 0.5h0m1 0h0m9 0h0m2.5 0h0m6.5 0h0m2 0h0m1.5 0h0m3 0h0m1.5 0h0m-33.5 0.5h0m10 0h0m10.5 0h0m2 0h0m1 0h0m1.5 0h0m2.5 0h0m0.5 0h0m0.5 0h0m1 0h0m1.5 0h0m0.5 0h0m-25.5 0.5h0m4 0h0m4 0h0m4.5 0h0m1 0h0m1.5 0h0m2 0h0m1.5 0h0m3 0h0m4.5 0h0m3 0h0m13 0h0m3.5 0h0m-42.5 0.5h0m5.5 0h0m0.5 0h0m5.5 0h0m2 0h0m3 0h0m3.5 0h0m4.5 0h0m0.5 0h0m4.5 0h0m-18.5 0.5h0m3.5 0h0m0.5 0h0m3 0h0m1.5 0h0m6 0h0m1.5 0h0m15 0h0m-37 0.5h0m1.5 0h0m12.5 0h0m3.5 0h0m3.5 0h0m2.5 0h0m-18.5 0.5h0m1 0h0m6 0h0m-13.5 0.5h0m5 0h0m3.5 0h0m2 0h0m3 0h0m4.5 0h0m-22 0.5h0m9 0h0m0.5 0h0m0.5 0h0m6 0h0m1.5 0h0m6.5 0h0m-19 0.5h0m2 0h0m11 0h0m2 0h0m2 0h0m3 0h0m16.5 0h0m-36.5 0.5h0m5.5 0h0m1.5 0h0m1.5 0h0m1 0h0m7 0h0m-18.5 0.5h0m7 0h0m3 0h0m0.5 0h0m3.5 0h0m-22 0.5h0m5 0h0m5 0h0m3 0h0m2 0h0m1 0h0m1 0h0m1 0h0m1 0h0m11.5 0h0m-16 0.5h0m7 0h0m2.5 0h0m4 0h0m0.5 0h0m-25.5 0.5h0m11.5 0h0m3.5 0h0m2.5 0h0m-22 0.5h0m2 0h0m11.5 0h0m-44 0.5h0m42.5 0h0m3.5 0h0m14.5 0h0m-15.5 0.5h0m4.5 0h0m2.5 0h0m11 0h0m1 0h0m-21 0.5h0m1.5 0h0m0.5 0h0m11.5 0h0m5 0h0m-16 0.5h0m-74 0.5h0m78.5 0h0m1.5 0h0m6 0h0m6.5 0h0m-23.5 0.5h0m1 0h0m1.5 0h0m2 0h0m2 0h0m2 0h0m1 0h0m1.5 0h0m2 0h0m0.5 0h0m0.5 0h0m6 0h0m6.5 0h0m19.5 0h0m-74 0.5h0m12.5 0h0m11.5 0h0m1 0h0m5.5 0h0m0.5 0h0m1.5 0h0m0.5 0h0m0.5 0h0m2.5 0h0m0.5 0h0m2 0h0m0.5 0h0m1.5 0h0m0.5 0h0m0.5 0h0m0.5 0h0m0.5 0h0m2.5 0h0m2 0h0m2 0h0m2.5 0h0m0.5 0h0"/>
</g>
<g id="panel6">
<path d="M366.4 486.9V648.4" stroke="#8c8c8c" stroke-width="1" fill="none"/>
<path d="M292.5 592.9H451.6" stroke="#adadad" stroke-width="2" fill="none"/>
<path d="M304.59 648.4v3.2M292.5 636.31h-3.2M311.66 648.4v3.2M292.5 629.24h-3.2M316.67 648.4v3.2M292.5 624.23h-3.2M320.56 648.4v3.2M292.5 620.34h-3.2M323.74 648.4v3.2M292.5 617.16h-3.2M326.43 648.4v3.2M292.5 614.47h-3.2M328.76 648.4v3.2M292.5 612.14h-3.2M330.81 648.4v3.2M292.5 610.09h-3.2M344.74 648.4v3.2M292.5 596.16h-3.2M351.81 648.4v3.2M292.5 589.09h-3.2M356.82 648.4v3.2M292.5 584.08h-3.2M360.71 648.4v3.2M292.5 580.19h-3.2M363.89 648.4v3.2M292.5 577.01h-3.2M366.58 648.4v3.2M292.5 574.32h-3.2M368.91 648.4v3.2M292.5 571.99h-3.2M370.96 648.4v3.2M292.5 569.94h-3.2M384.89 648.4v3.2M292.5 556.01h-3.2M391.96 648.4v3.2M292.5 548.94h-3.2M396.97 648.4v3.2M292.5 543.93h-3.2M400.86 648.4v3.2M292.5 540.04h-3.2M404.04 648.4v3.2M292.5 536.86h-3.2M406.73 648.4v3.2M292.5 534.17h-3.2M409.06 648.4v3.2M292.5 531.84h-3.2M411.11 648.4v3.2M292.5 529.79h-3.2M425.04 648.4v3.2M292.5 515.86h-3.2M432.11 648.4v3.2M292.5 508.79h-3.2M437.12 648.4v3.2M292.5 503.78h-3.2M441.01 648.4v3.2M292.5 499.89h-3.2M444.19 648.4v3.2M292.5 496.71h-3.2M446.88 648.4v3.2M292.5 494.02h-3.2M449.21 648.4v3.2M292.5 491.69h-3.2M451.26 648.4v3.2M292.5 489.64h-3.2" stroke="#808080" stroke-width="1" fill="none"/>
<path d="M332.65 648.4v5.6M292.5 608.25h-6M372.8 648.4v5.6M292.5 568.1h-6M412.95 648.4v5.6M292.5 527.95h-6M453.1 648.4v5.6M292.5 487.8h-6" stroke="#707070" stroke-width="1" fill="none"/>
<path d="M286.5 648.4H453.6M292.5 654.7V487.3" stroke="#686868" stroke-width="1" fill="none"/>
<text class="tk" x="329.35" y="663.6" text-anchor="end">10</text><text class="ex" x="329.55" y="662.2">1</text>
<g transform="translate(282.6 608.25) rotate(-90)"><text class="tk" x="-3.3" text-anchor="end">10</text><text class="ex" x="-3.1" y="-0.5">1</text></g>
<text class="tk" x="369.5" y="663.6" text-anchor="end">10</text><text class="ex" x="369.7" y="662.2">2</text>
<g transform="translate(282.6 568.1) rotate(-90)"><text class="tk" x="-3.3" text-anchor="end">10</text><text class="ex" x="-3.1" y="-0.5">2</text></g>
<text class="tk" x="409.65" y="663.6" text-anchor="end">10</text><text class="ex" x="409.85" y="662.2">3</text>
<g transform="translate(282.6 527.95) rotate(-90)"><text class="tk" x="-3.3" text-anchor="end">10</text><text class="ex" x="-3.1" y="-0.5">3</text></g>
<text class="tk" x="449.8" y="663.6" text-anchor="end">10</text><text class="ex" x="450" y="662.2">4</text>
<g transform="translate(282.6 487.8) rotate(-90)"><text class="tk" x="-3.3" text-anchor="end">10</text><text class="ex" x="-3.1" y="-0.5">4</text></g>
<text class="q" x="299.3" y="495.9">1</text>
<text class="q" x="451" y="493.1">2</text>
<text class="q" x="295.6" y="645.5">3</text>
<text class="q" x="449" y="645.6">4</text>
<text class="ti" x="374.5" y="477" textLength="120.4" lengthAdjust="spacing">WEEK 3 -CATALASE</text>
<text class="ax" x="363.9" y="676.15">LIN</text>
<text class="sc" transform="translate(271.5 568) rotate(-90)" text-anchor="middle" textLength="26.4" lengthAdjust="spacing">Sca-1</text>
<text class="st sp" x="479.5" y="545.45">%Gate</text>
<text class="st rl" x="452.4" y="558.4">R1</text>
<text class="st sp" x="479" y="558.4">36.05</text>
<text class="st rl" x="452.4" y="570.7">R2</text>
<text class="st sp" x="479" y="570.7">53.49</text>
<text class="st rl" x="452.4" y="583.2">R3</text>
<text class="st sp" x="479" y="583.2">3.02</text>
<text class="st rl" x="452.4" y="595.9">R4</text>
<text class="st sp" x="479" y="595.9">7.44</text>
<path class="d" d="M0 0m402 514h0m-16 1.5h0m4.5 0h0m-3.5 2.5h0m16.5 0h0m5.5 0h0m-15.5 1h0m-6.5 0.5h0m3 0h0m-2.5 1h0m12.5 0.5h0m-46 0.5h0m62.5 0h0m-76 1h0m18 0.5h0m42.5 0.5h0m-10.5 0.5h0m13 0h0m-55.5 1h0m14.5 0h0m22.5 0h0m-46 0.5h0m33 0h0m30 0h0m4.5 0.5h0m-42 0.5h0m23.5 0.5h0m13 0h0m-43.5 0.5h0m57.5 0h0m3 0h0m-74 0.5h0m26 0h0m31.5 0h0m-60 0.5h0m8 0h0m46.5 0h0m1 0.5h0m20 0h0m-18 0.5h0m-40.5 0.5h0m34.5 0h0m24 0h0m5 0h0m-1.5 0.5h0m-16 0.5h0m4.5 0.5h0m12 0h0m-71.5 0.5h0m11 0.5h0m-19.5 1h0m20.5 0h0m35.5 0h0m27.5 0.5h0m-14 0.5h0m-59.5 0.5h0m3.5 0.5h0m-10.5 0.5h0m6.5 0h0m35 0h0m22.5 0h0m-8.5 0.5h0m-57.5 0.5h0m9.5 0.5h0m2 0.5h0m43 0h0m-27.5 0.5h0m16.5 0h0m24.5 0h0m-58 0.5h0m0.5 0h0m41 0h0m-15 0.5h0m18.5 0h0m10 0h0m-68 0.5h0m56 0h0m-9 0.5h0m0.5 0h0m14 0h0m-49 0.5h0m6 0h0m49.5 0h0m-66 0.5h0m1 0h0m4 0.5h0m8.5 0h0m40.5 0h0m15.5 0h0m9 0h0m-48.5 0.5h0m-23.5 0.5h0m14 0h0m42 0h0m11 0h0m-26 0.5h0m-48.5 0.5h0m2 0h0m36.5 0h0m47.5 0h0m-63 0.5h0m33 0h0m-6.5 0.5h0m-37 0.5h0m3.5 0h0m2 0h0m53 0h0m-64.5 0.5h0m9 0h0m5 0h0m4.5 0h0m2.5 0h0m10 0h0m-29.5 0.5h0m17 1h0m39 0h0m4 0h0m4.5 0h0m5.5 0h0m8 0h0m-82.5 0.5h0m1 0h0m17.5 0h0m18 0h0m-33 0.5h0m31 0h0m44.5 0h0m-54.5 0.5h0m13.5 0h0m1 0h0m14 0h0m12 0h0m9 0h0m-72 0.5h0m7.5 0h0m-20 0.5h0m58.5 0h0m6 0h0m28 0h0m-86.5 0.5h0m11 0h0m15.5 0h0m21.5 0h0m13.5 0h0m10 0h0m2 0h0m7 0h0m-68 0.5h0m49 0h0m21.5 0h0m-83.5 0.5h0m21 0h0m51 0.5h0m3.5 0h0m-54.5 0.5h0m-20 0.5h0m55 0h0m9 0h0m1.5 0h0m19 0h0m1 0h0m-18 0.5h0m9 0h0m-66.5 0.5h0m6 0h0m34 0h0m3 0h0m10 0h0m2 0h0m13 0h0m-66.5 0.5h0m59.5 0h0m-68.5 0.5h0m13.5 0h0m14 0h0m4.5 0h0m-34 0.5h0m4 0h0m55 0h0m8.5 0h0m7 0h0m-87.5 0.5h0m22 0h0m-15.5 0.5h0m10.5 0h0m13 0h0m41 0h0m7.5 0h0m7 0h0m8.5 0h0m-78 0.5h0m23 0h0m22.5 0h0m10 0h0m2 0h0m6 0h0m1 0h0m-87.5 0.5h0m30 0h0m29 0h0m2 0h0m13.5 0h0m-44 0.5h0m15.5 0h0m-18.5 0.5h0m7 0h0m4 0h0m32 0h0m19.5 0h0m10.5 0h0m-88.5 0.5h0m14.5 0h0m11.5 0h0m30 0h0m23 0h0m-69.5 0.5h0m55.5 0h0m3.5 0h0m7 0h0m-59.5 0.5h0m12.5 0.5h0m25 0h0m30 0h0m-88.5 0.5h0m9.5 0h0m14.5 0h0m50 0h0m-50 0.5h0m2.5 0h0m28 0h0m9 0h0m-5.5 0.5h0m-37.5 0.5h0m1 0h0m3.5 0h0m9 0h0m25 0h0m14.5 0h0m5 0h0m14 0h0m-59.5 0.5h0m8 0h0m-12.5 0.5h0m63 0h0m6.5 0h0m-66 0.5h0m39 0h0m3 0h0m22.5 0h0m-82 0.5h0m17.5 0h0m16 0h0m26.5 0h0m-68 1h0m1 0h0m13.5 0h0m60 0h0m13.5 0h0m-78.5 0.5h0m4 0h0m2 0h0m0.5 0h0m7.5 0h0m40.5 0h0m-38 0.5h0m29 0h0m-41 0.5h0m11.5 0.5h0m-23.5 0.5h0m8.5 0h0m67 0h0m-84.5 1h0m19 0h0m4 0h0m0.5 0h0m8 0h0m56 0h0m-5 0.5h0m-69.5 1h0m8 0h0m31 0.5h0m34.5 0.5h0m-57 0.5h0m62 0h0m-16.5 0.5h0m-57.5 0.5h0m13 0h0m47 0h0m4.5 0h0m14 0h0m-73.5 0.5h0m56.5 0h0m-78.5 0.5h0m28.5 0h0m66 0h0m-85.5 0.5h0m76.5 1h0m12 0h0m-67 0.5h0m-19 0.5h0m8 0h0m2 0h0m52 0h0m-52 0.5h0m3 0h0m5 0h0m41.5 0.5h0m14.5 0.5h0m-68.5 0.5h0m71.5 0h0m10.5 0h0m-23 0.5h0m-16 0.5h0m14 0h0m-55 1.5h0m53.5 0h0m20.5 0h0m-72.5 0.5h0m1 0h0m66.5 0.5h0m-77 1.5h0m53.5 0.5h0m3 0.5h0m-47.5 0.5h0m38 0.5h0m-18.5 0.5h0m26.5 0.5h0m30 0h0m-79 0.5h0m49 0h0m38 0h0m-83.5 0.5h0m0.5 0h0m67.5 0h0m10.5 0h0m-82.5 1h0m26 0h0m43 0h0m14.5 0h0m-97 0.5h0m75.5 0.5h0m-72 0.5h0m66.5 0h0m-55.5 0.5h0m18.5 0.5h0m-24 0.5h0m62 0h0m-59.5 0.5h0m13.5 0h0m-2 0.5h0m-13 0.5h0m8 0h0m70 0h0m-75 0.5h0m-17 0.5h0m15.5 0h0m-4.5 0.5h0m70.5 0.5h0m-76.5 0.5h0m59.5 0h0m6.5 0h0m11.5 1h0m2 0h0m-9 0.5h0m-65 1h0m-2 0.5h0m2.5 0h0m76 0h0m-15.5 0.5h0m5 0h0m-78.5 1h0m2 0h0m63 0h0m-50 0.5h0m58 0h0m0.5 0h0m-61 0.5h0m5.5 0.5h0m50 0h0m7.5 0h0m-9.5 0.5h0m19 0.5h0m0.5 0h0m-68 0.5h0m53.5 0h0m2.5 0h0m-50.5 0.5h0m55.5 0h0m-55 0.5h0m56.5 0h0m-3.5 1.5h0m-61 0.5h0m-3 0.5h0m70.5 0h0m-65.5 1h0m63.5 0h0m-8 0.5h0m15 0h0m-28.5 1.5h0m8.5 0h0m9 0.5h0m-6 1h0m0.5 0h0m-2.5 0.5h0m-3 0.5h0m14 0.5h0m-16 0.5h0m12 0.5h0m-1 0.5h0m-5 1h0m1.5 0h0m17 0.5h0m-22 1h0m-2.5 1h0m-6 1h0m8.5 0h0m-7 2h0m-1.5 0.5h0m18 1.5h0m-10.5 4h0"/>
</g>
</svg>
</body>
</html>
